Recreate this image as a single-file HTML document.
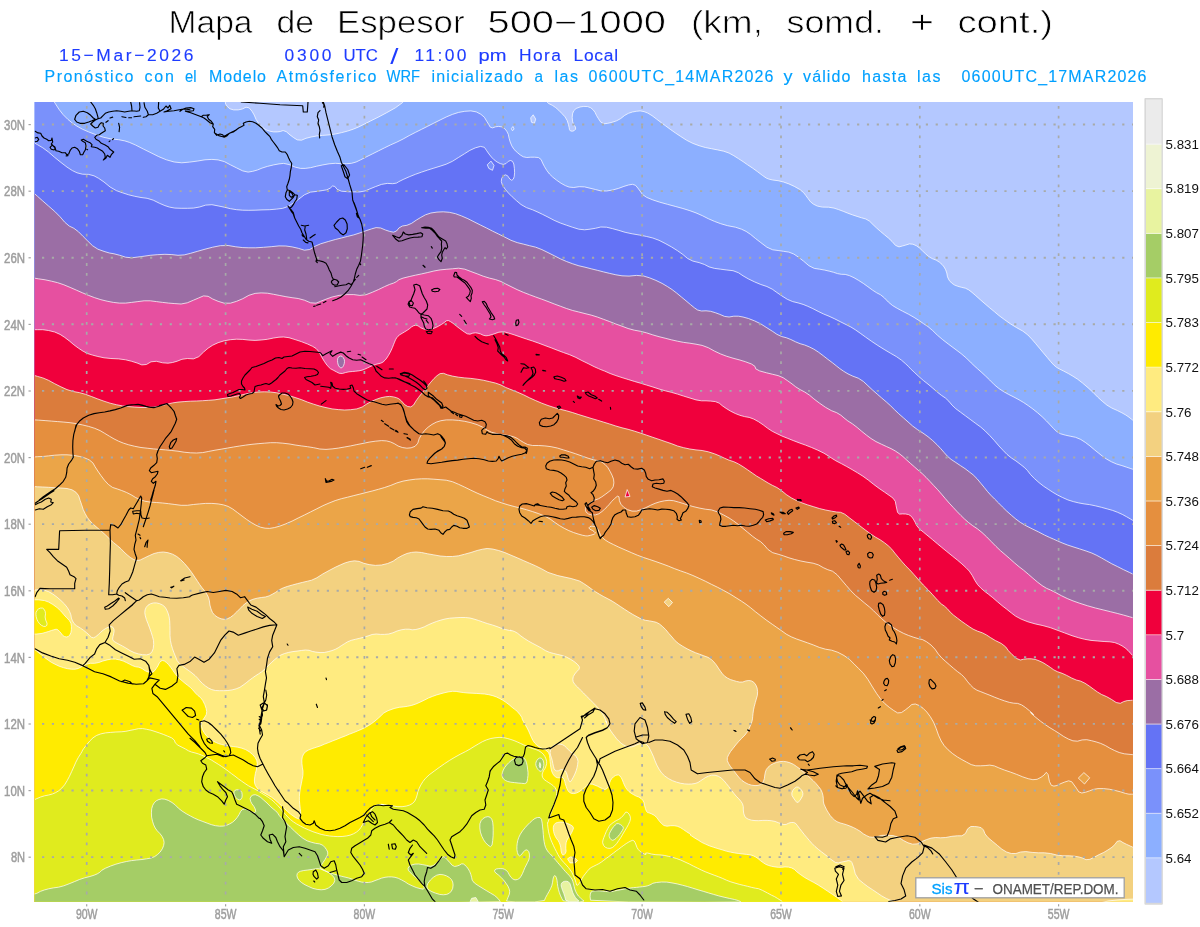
<!DOCTYPE html>
<html lang="es"><head><meta charset="utf-8"><title>Mapa de Espesor 500-1000</title>
<style>html,body{margin:0;padding:0;background:#fff}body{width:1200px;height:927px;overflow:hidden;font-family:"Liberation Sans",sans-serif}svg{display:block}text{font-family:"Liberation Sans",sans-serif}</style></head><body>
<svg width="1200" height="927" viewBox="0 0 1200 927">
<rect width="1200" height="927" fill="#fff"/>
<text x="168.5" y="33.2" font-size="31.6" fill="#000" textLength="84" lengthAdjust="spacingAndGlyphs" stroke="#fff" stroke-width="0.7" paint-order="fill">Mapa</text><text x="276.5" y="33.2" font-size="31.6" fill="#000" textLength="37.5" lengthAdjust="spacingAndGlyphs" stroke="#fff" stroke-width="0.7" paint-order="fill">de</text><text x="337" y="33.2" font-size="31.6" fill="#000" textLength="127.5" lengthAdjust="spacingAndGlyphs" stroke="#fff" stroke-width="0.7" paint-order="fill">Espesor</text><text x="487.5" y="33.2" font-size="31.6" fill="#000" textLength="178.5" lengthAdjust="spacingAndGlyphs" stroke="#fff" stroke-width="0.7" paint-order="fill">500−1000</text><text x="691" y="33.2" font-size="31.6" fill="#000" textLength="72" lengthAdjust="spacingAndGlyphs" stroke="#fff" stroke-width="0.7" paint-order="fill">(km,</text><text x="786.5" y="33.2" font-size="31.6" fill="#000" textLength="97.5" lengthAdjust="spacingAndGlyphs" stroke="#fff" stroke-width="0.7" paint-order="fill">somd.</text><text x="910" y="33.2" font-size="31.6" fill="#000" textLength="24" lengthAdjust="spacingAndGlyphs" stroke="#fff" stroke-width="0.7" paint-order="fill">+</text><text x="957.5" y="33.2" font-size="31.6" fill="#000" textLength="95.5" lengthAdjust="spacingAndGlyphs" stroke="#fff" stroke-width="0.7" paint-order="fill">cont.)</text>
<text x="59" y="60.6" font-size="17.4" fill="#1e3cff" textLength="134.5" lengthAdjust="spacing" stroke="#1e3cff" stroke-width="0.12">15−Mar−2026</text><text x="284.5" y="60.6" font-size="17.4" fill="#1e3cff" textLength="47" lengthAdjust="spacing" stroke="#1e3cff" stroke-width="0.12">0300</text><text x="343.5" y="60.6" font-size="17.4" fill="#1e3cff" textLength="34.5" lengthAdjust="spacingAndGlyphs" stroke="#1e3cff" stroke-width="0.12">UTC</text><text x="414.5" y="60.6" font-size="17.4" fill="#1e3cff" textLength="52" lengthAdjust="spacing" stroke="#1e3cff" stroke-width="0.12">11:00</text><text x="478.5" y="60.6" font-size="17.4" fill="#1e3cff" textLength="28" lengthAdjust="spacingAndGlyphs" stroke="#1e3cff" stroke-width="0.12">pm</text><text x="519" y="60.6" font-size="17.4" fill="#1e3cff" textLength="42" lengthAdjust="spacing" stroke="#1e3cff" stroke-width="0.12">Hora</text><text x="573.5" y="60.6" font-size="17.4" fill="#1e3cff" textLength="44.5" lengthAdjust="spacing" stroke="#1e3cff" stroke-width="0.12">Local</text>
<text x="390.3" y="63.6" font-size="22.5" fill="#1e3cff" textLength="8.2" lengthAdjust="spacingAndGlyphs">/</text>
<text x="44.5" y="81.7" font-size="16" fill="#00a0ff" textLength="89" lengthAdjust="spacing" stroke="#00a0ff" stroke-width="0.12">Pronóstico</text><text x="144.5" y="81.7" font-size="16" fill="#00a0ff" textLength="29.5" lengthAdjust="spacing" stroke="#00a0ff" stroke-width="0.12">con</text><text x="185" y="81.7" font-size="16" fill="#00a0ff" textLength="11.5" lengthAdjust="spacingAndGlyphs" stroke="#00a0ff" stroke-width="0.12">el</text><text x="209" y="81.7" font-size="16" fill="#00a0ff" textLength="57" lengthAdjust="spacing" stroke="#00a0ff" stroke-width="0.12">Modelo</text><text x="276.5" y="81.7" font-size="16" fill="#00a0ff" textLength="100" lengthAdjust="spacing" stroke="#00a0ff" stroke-width="0.12">Atmósferico</text><text x="386.5" y="81.7" font-size="16" fill="#00a0ff" textLength="33.5" lengthAdjust="spacingAndGlyphs" stroke="#00a0ff" stroke-width="0.12">WRF</text><text x="431.5" y="81.7" font-size="16" fill="#00a0ff" textLength="91.5" lengthAdjust="spacing" stroke="#00a0ff" stroke-width="0.12">inicializado</text><text x="534.5" y="81.7" font-size="16" fill="#00a0ff" textLength="8.5" lengthAdjust="spacingAndGlyphs" stroke="#00a0ff" stroke-width="0.12">a</text><text x="554.5" y="81.7" font-size="16" fill="#00a0ff" textLength="23.5" lengthAdjust="spacing" stroke="#00a0ff" stroke-width="0.12">las</text><text x="588.5" y="81.7" font-size="16" fill="#00a0ff" textLength="185" lengthAdjust="spacing" stroke="#00a0ff" stroke-width="0.12">0600UTC_14MAR2026</text><text x="783.5" y="81.7" font-size="16" fill="#00a0ff" textLength="9" lengthAdjust="spacingAndGlyphs" stroke="#00a0ff" stroke-width="0.12">y</text><text x="803" y="81.7" font-size="16" fill="#00a0ff" textLength="47.5" lengthAdjust="spacing" stroke="#00a0ff" stroke-width="0.12">válido</text><text x="862" y="81.7" font-size="16" fill="#00a0ff" textLength="44.5" lengthAdjust="spacing" stroke="#00a0ff" stroke-width="0.12">hasta</text><text x="917" y="81.7" font-size="16" fill="#00a0ff" textLength="23.5" lengthAdjust="spacing" stroke="#00a0ff" stroke-width="0.12">las</text><text x="961.5" y="81.7" font-size="16" fill="#00a0ff" textLength="185" lengthAdjust="spacing" stroke="#00a0ff" stroke-width="0.12">0600UTC_17MAR2026</text>
<defs><clipPath id="pc"><rect x="34.6" y="102" width="1098.4" height="799.7"/></clipPath></defs>
<g clip-path="url(#pc)">
<rect x="34.6" y="102" width="1098.4" height="799.7" fill="#b4c8ff"/>
<path d="M225.0 100.0L225.2 101.3L225.6 104.0L227.2 106.4L229.9 108.8L233.6 109.9L238.2 109.9L242.3 109.0L246.0 107.2L249.2 107.9L251.9 111.1L254.2 115.0L256.1 119.5L258.8 123.6L262.5 127.3L266.2 129.9L269.8 131.2L273.5 131.9L277.2 131.9L280.4 131.5L283.1 130.5L286.3 131.7L290.0 134.9L293.7 137.7L297.3 139.9L301.5 140.2L306.0 138.3L311.1 137.0L316.6 136.0L322.5 135.4L329.0 134.9L335.4 134.0L341.8 132.6L347.8 131.0L353.2 129.2L358.8 126.9L364.2 124.2L370.7 120.9L378.0 117.3L386.3 112.9L395.4 107.8L402.3 102.8L406.9 97.9L443.0 95.4L510.5 95.4L544.8 97.2L546.0 100.7L548.4 103.4L552.3 105.3L555.7 107.6L558.8 110.3L561.8 113.4L565.0 116.8L567.1 120.4L568.4 124.3L569.1 127.4L569.5 129.7L570.5 131.0L572.4 131.2L574.1 130.7L575.6 129.2L575.5 127.1L573.6 124.4L572.5 121.2L572.2 117.3L572.5 113.9L573.7 110.8L576.1 108.5L580.0 107.0L583.8 106.4L587.7 106.6L590.8 107.8L593.1 109.8L595.0 112.3L596.5 115.5L598.5 118.8L600.8 122.2L603.9 123.8L607.8 123.3L612.0 122.3L616.6 120.8L620.8 118.5L624.7 115.4L628.5 113.3L632.4 112.0L636.2 111.3L640.1 110.9L644.0 111.6L647.8 113.1L652.1 115.7L656.7 119.2L661.3 122.7L665.9 126.1L670.5 129.5L675.2 132.8L680.6 136.4L686.7 140.3L692.9 143.4L699.1 145.7L705.3 147.5L711.4 148.7L717.6 149.9L723.7 151.2L729.1 153.1L733.8 155.7L738.4 158.6L743.0 161.6L747.6 164.8L752.3 167.9L757.3 171.5L762.7 175.6L766.5 178.2L768.9 179.1L772.7 180.0L778.1 180.7L783.5 182.0L788.9 183.9L794.3 186.4L799.7 189.4L803.5 192.5L805.9 195.6L808.1 198.6L810.5 201.8L813.5 204.2L817.4 206.1L822.4 207.1L828.6 207.2L834.0 208.1L838.6 209.6L843.2 211.3L847.9 213.2L852.5 214.9L857.1 216.4L861.5 217.8L865.9 219.0L869.7 221.3L873.1 224.7L876.7 228.1L880.6 231.5L884.4 234.7L888.3 237.9L892.0 241.4L895.5 245.4L899.0 246.9L902.4 246.0L905.9 245.0L909.4 243.9L912.9 244.2L916.3 245.7L919.5 248.0L922.7 251.1L925.7 253.9L928.8 256.6L932.2 258.6L936.1 260.1L939.3 262.1L942.0 264.4L944.1 267.0L945.6 269.7L946.8 273.0L947.5 276.9L949.1 280.2L951.6 283.0L954.5 285.0L957.9 286.3L961.5 287.3L965.4 288.2L968.8 289.9L972.0 292.4L975.8 295.7L980.5 299.9L985.1 303.9L989.7 307.8L994.3 311.6L998.9 315.5L1004.3 319.5L1010.5 323.9L1016.7 327.7L1022.8 331.1L1027.8 334.9L1031.7 339.0L1035.5 343.4L1039.4 348.1L1043.2 352.7L1047.1 357.3L1050.5 361.4L1053.7 364.9L1056.8 367.5L1059.9 369.2L1063.7 371.1L1068.3 373.5L1072.9 376.2L1077.6 379.2L1082.6 383.1L1088.0 387.7L1093.0 392.3L1097.6 397.0L1102.2 401.2L1106.9 405.1L1111.9 408.1L1117.3 410.5L1121.9 412.8L1125.8 415.0L1129.0 417.2L1131.6 419.3L1132.9 420.3L1139.0 420.3L1139.0 907.7L28.6 907.7L28.6 96.0L225.0 96.0Z" fill="#8cafff"/>
<path d="M533.2 114.8L535.7 119.1L534.4 123.4L531.4 122.2L530.7 117.9Z" fill="#b4c8ff"/>
<path d="M53.1 100.0L55.0 103.1L58.9 109.2L63.1 114.6L67.8 119.3L72.4 123.1L77.0 126.2L82.4 129.2L88.6 131.9L95.6 134.6L103.2 137.2L110.9 138.9L118.7 139.7L124.8 140.9L129.5 142.4L135.7 145.1L143.3 149.0L151.0 152.8L158.8 156.7L166.4 159.8L174.2 162.0L181.8 162.8L189.6 162.1L197.2 161.1L205.0 159.8L211.9 159.4L218.1 159.9L224.3 161.6L230.4 164.8L236.6 167.9L242.7 170.9L248.1 172.1L252.8 171.3L257.4 170.0L262.0 168.1L267.4 166.4L273.6 164.9L279.0 163.9L283.6 163.4L289.0 164.5L295.1 167.1L300.5 168.4L305.2 168.4L310.6 167.7L316.7 166.2L322.9 164.9L329.1 163.8L335.3 163.3L341.4 163.7L346.8 163.7L351.5 163.3L356.1 162.0L360.7 159.8L366.1 157.0L372.2 154.0L378.4 150.9L384.6 147.8L390.8 144.8L396.9 142.1L403.1 139.0L409.2 135.6L415.4 132.4L421.6 129.3L427.8 126.2L433.9 123.1L440.1 120.0L446.2 117.0L452.4 114.4L458.6 112.4L464.8 111.3L470.9 110.9L476.3 111.9L480.9 114.3L484.4 117.3L486.7 121.2L488.7 124.4L490.2 127.1L492.5 127.9L495.6 126.8L498.7 126.4L501.8 126.9L504.5 128.4L506.7 131.1L508.3 134.3L509.1 138.2L510.2 142.0L511.8 145.9L514.0 149.4L517.2 152.4L520.2 154.9L523.3 156.8L526.8 157.5L530.7 157.2L534.5 157.2L538.4 157.5L541.1 159.5L542.6 163.0L544.5 166.7L546.9 170.6L549.5 174.0L552.7 177.1L556.5 180.1L561.1 183.3L565.3 185.6L569.2 187.1L573.8 187.5L579.2 186.7L584.6 186.9L590.0 188.2L595.4 189.5L600.8 190.9L606.6 191.0L612.7 190.0L618.5 188.4L623.9 186.4L628.5 185.0L632.4 184.3L635.5 185.3L637.8 188.0L640.1 191.1L642.5 194.5L646.7 197.4L652.8 199.9L659.8 202.2L667.4 204.3L675.2 206.4L682.9 208.5L689.9 210.7L696.0 212.9L702.2 215.6L708.3 218.7L714.5 221.4L720.7 223.7L727.6 225.7L735.4 227.2L741.5 229.2L746.1 231.4L750.7 234.5L755.4 238.4L760.8 242.6L766.9 247.2L772.7 249.8L778.1 250.5L783.5 251.3L788.9 252.1L793.9 254.1L798.5 257.2L803.5 261.1L808.9 265.7L814.3 268.4L819.7 269.2L824.7 270.1L829.4 271.2L833.6 272.3L837.5 273.6L841.3 274.3L845.2 274.4L849.4 275.6L854.0 277.7L858.6 280.4L863.3 283.4L867.9 286.7L872.5 290.1L876.7 292.8L880.6 294.8L884.4 297.9L888.3 302.0L892.5 305.5L897.2 308.3L902.6 311.2L908.7 314.3L914.1 317.4L918.8 320.4L923.4 323.6L928.0 326.6L932.6 330.5L937.3 335.1L942.7 339.7L948.8 344.4L955.0 349.0L961.1 353.6L966.5 358.2L971.2 362.9L974.9 366.4L977.6 368.8L981.1 371.9L985.3 375.8L989.7 380.0L994.3 384.7L998.9 388.5L1003.6 391.6L1008.6 394.4L1014.0 397.1L1019.0 399.8L1023.6 402.5L1028.2 405.6L1032.9 409.0L1037.5 412.7L1042.1 416.7L1046.3 420.8L1050.2 424.9L1053.6 428.6L1056.8 431.6L1060.6 433.8L1065.2 435.1L1070.2 436.2L1075.6 437.3L1080.6 439.4L1085.3 442.4L1089.9 445.9L1094.5 449.8L1098.7 453.2L1102.6 456.3L1106.8 459.2L1111.5 461.8L1116.5 464.0L1121.9 465.6L1126.7 467.2L1130.8 468.6L1132.9 469.3L1139.0 469.3L1139.0 907.7L28.6 907.7L28.6 96.0L53.1 96.0Z" fill="#7a91fb"/>
<path d="M512.9 126.5L514.1 129.0L512.5 130.8L511.3 128.7Z" fill="#8cafff"/>
<path d="M34.9 143.2L37.5 144.7L42.8 147.8L48.5 152.0L54.7 157.4L60.9 162.4L67.0 167.1L72.4 170.6L77.0 172.8L82.4 174.2L88.6 174.4L94.0 175.8L98.6 178.3L104.0 182.0L110.1 187.0L116.3 190.6L122.5 192.8L128.7 194.8L134.8 196.3L141.0 197.5L147.1 198.3L153.3 200.2L159.5 203.3L164.9 205.6L169.5 207.1L174.9 208.1L181.1 208.3L187.3 208.3L193.4 208.1L199.6 207.0L205.7 205.1L211.9 204.7L218.1 205.9L224.3 207.2L230.4 208.7L236.6 209.7L242.7 210.2L248.9 210.3L255.1 210.2L262.0 209.9L269.8 209.7L276.7 209.1L282.8 208.3L288.2 206.4L292.9 203.3L298.3 199.5L304.4 194.8L310.6 192.1L316.7 191.4L322.1 190.6L326.8 189.8L330.2 188.2L332.5 186.0L334.8 186.4L337.2 189.4L341.4 191.2L347.6 191.7L353.8 191.9L359.9 191.9L365.3 190.9L369.9 188.9L375.3 186.7L381.5 184.4L387.3 183.4L392.7 183.7L396.5 183.1L398.9 181.6L403.1 179.5L409.2 176.8L415.4 174.3L421.6 172.1L427.8 170.0L433.9 168.1L440.1 166.2L446.2 164.2L452.4 161.3L458.6 157.4L464.4 153.8L469.8 150.4L475.2 147.9L480.5 146.4L484.4 147.3L486.7 150.7L489.0 154.0L491.4 157.0L494.1 159.8L497.1 162.0L500.2 163.6L503.3 164.4L506.0 163.6L508.3 161.3L510.5 160.5L512.5 161.3L513.8 164.0L514.4 168.6L514.6 172.8L514.2 176.7L513.3 179.1L511.8 180.3L509.9 179.1L507.5 175.7L505.2 174.8L503.0 176.3L501.6 178.6L501.3 181.7L502.4 185.1L505.1 189.1L508.3 192.9L512.2 196.8L516.4 200.6L521.0 204.5L526.4 207.6L532.6 209.8L538.0 212.2L542.6 214.4L548.0 217.1L554.1 220.3L560.3 223.0L566.5 225.2L572.7 227.3L578.8 229.2L584.6 229.8L590.0 229.2L595.4 228.3L600.8 227.0L606.6 227.2L612.7 228.7L618.9 230.4L625.1 232.3L632.1 233.8L639.8 235.1L646.7 236.5L652.8 238.0L659.0 240.3L665.1 243.4L671.3 246.8L677.5 250.7L682.9 254.5L687.5 258.4L692.9 261.1L699.1 262.6L704.5 264.5L709.1 266.9L714.5 268.4L720.7 269.2L726.9 270.0L733.0 270.7L738.4 272.7L743.0 275.8L748.4 278.9L754.6 281.9L760.8 284.5L766.9 286.5L772.3 289.2L776.9 292.5L781.9 295.9L787.3 299.3L792.7 301.6L798.1 302.9L803.1 304.4L807.8 306.3L812.8 308.6L818.2 311.4L823.6 314.0L829.0 316.2L834.8 318.9L840.9 322.0L846.3 324.7L850.9 327.0L855.5 329.9L860.2 333.2L865.6 337.1L871.7 341.4L877.9 345.5L884.1 349.4L890.3 353.1L896.4 356.6L901.4 360.1L905.3 363.5L908.4 366.4L910.6 368.8L914.1 372.1L918.8 376.5L923.4 380.5L928.0 384.1L932.6 388.0L937.3 392.1L941.5 395.4L945.4 398.0L948.8 401.2L952.0 405.1L955.8 408.7L960.4 412.1L965.4 415.8L970.8 419.8L975.8 423.5L980.5 426.9L985.1 430.9L989.7 435.5L994.3 440.5L998.9 445.9L1003.2 450.5L1007.0 454.4L1011.3 457.9L1015.9 460.9L1020.1 464.1L1024.0 467.1L1027.5 470.6L1030.5 474.5L1034.4 478.5L1039.0 482.6L1043.6 486.2L1048.3 489.3L1052.9 492.3L1057.5 495.0L1062.5 497.5L1067.9 499.9L1073.3 501.6L1078.7 502.9L1084.1 503.9L1089.5 504.6L1095.3 505.8L1101.4 507.3L1107.2 508.9L1112.6 510.4L1117.6 512.3L1122.3 514.4L1126.7 516.8L1130.8 519.2L1132.9 520.5L1139.0 520.5L1139.0 907.7L28.6 907.7L28.6 143.2Z" fill="#6473f5"/>
<path d="M491.0 161.1L494.0 165.4L492.5 170.3L488.8 168.4L487.3 164.8Z" fill="#7a91fb"/>
<path d="M34.9 194.0L37.5 196.3L42.8 201.0L48.5 206.0L54.7 211.4L60.1 216.8L64.7 222.2L69.3 226.1L73.9 228.3L78.5 231.8L83.2 236.5L87.8 241.1L92.5 245.7L97.9 249.2L104.0 251.4L109.4 253.0L114.0 253.8L119.4 255.2L125.6 257.2L131.8 257.8L137.9 257.0L144.1 256.2L150.2 255.3L157.2 254.7L164.9 254.3L171.9 254.6L178.0 255.3L184.2 254.9L190.3 253.4L197.2 251.4L205.0 249.2L212.7 247.2L220.3 245.7L228.1 245.5L235.8 246.8L242.8 247.6L248.9 247.8L255.8 247.8L263.5 247.3L271.2 246.7L279.0 245.9L285.9 246.0L292.1 246.9L298.3 248.3L304.4 250.2L309.8 249.5L314.5 246.5L320.7 243.8L328.3 241.5L335.3 239.5L341.4 238.0L347.6 236.4L353.7 234.9L359.9 232.9L366.1 230.7L371.5 228.9L376.1 227.6L380.7 228.0L385.4 230.0L389.6 231.4L393.5 232.2L396.5 231.0L398.9 228.0L402.3 226.0L406.9 225.3L411.5 223.4L416.2 220.2L420.8 217.4L425.5 214.8L430.9 213.0L437.0 212.1L443.2 211.8L449.3 212.3L455.5 213.7L461.7 216.0L467.9 218.7L474.0 221.8L480.2 224.9L486.3 227.9L492.5 231.1L498.7 234.1L504.9 237.2L511.0 240.3L517.2 242.6L523.3 244.1L529.5 245.7L535.7 247.2L541.9 249.6L548.0 252.6L554.2 255.7L560.3 258.8L566.5 261.5L572.7 263.8L578.9 265.8L585.0 267.2L591.2 268.8L597.3 270.3L603.5 271.9L609.7 273.4L615.9 274.8L622.0 275.8L629.0 276.1L636.6 275.4L643.6 276.0L649.7 277.9L655.9 280.4L662.1 283.4L667.5 286.6L672.1 289.6L676.7 293.1L681.4 297.0L686.0 300.8L690.6 304.7L694.4 307.8L697.6 310.0L701.4 311.0L706.0 310.8L710.6 311.3L715.3 312.7L719.9 314.4L724.5 316.4L729.1 317.0L733.8 316.2L738.4 316.2L743.0 317.0L748.4 318.5L754.6 320.9L760.8 323.9L766.9 327.8L772.3 331.2L776.9 334.3L781.5 336.5L786.2 337.7L790.8 339.5L795.5 341.8L800.1 343.7L804.7 345.0L809.3 346.9L813.9 349.2L818.5 352.2L823.2 355.7L827.8 359.3L832.5 362.8L836.5 366.0L839.8 368.6L843.7 371.3L848.0 373.9L852.9 376.2L858.3 378.2L863.3 381.4L867.9 385.7L872.5 390.0L877.2 394.1L881.8 398.1L886.4 402.0L890.6 405.8L894.5 409.7L898.7 413.7L903.4 417.8L908.0 421.9L912.6 426.0L917.6 429.7L923.0 433.1L928.0 436.7L932.7 440.6L936.9 444.6L940.8 448.7L944.2 452.6L947.3 456.1L951.1 459.4L955.8 462.5L960.4 465.6L965.0 468.6L969.2 471.8L973.1 474.8L977.0 478.7L980.8 483.3L984.3 487.5L987.4 491.4L990.8 495.2L994.7 499.1L998.5 502.9L1002.4 506.9L1006.6 511.0L1011.3 515.2L1015.9 519.1L1020.5 522.5L1025.9 525.7L1032.1 528.8L1038.3 531.8L1044.4 535.0L1049.5 537.4L1053.5 539.1L1057.7 541.0L1062.1 542.9L1067.2 544.9L1073.0 546.8L1079.3 548.8L1086.1 551.0L1091.9 553.1L1096.8 555.4L1101.6 558.0L1106.5 560.8L1111.8 563.8L1117.7 566.7L1123.6 569.7L1129.6 572.5L1132.6 574.0L1139.0 574.0L1139.0 907.7L28.6 907.7L28.6 194.0Z" fill="#9b6ea5"/>
<path d="M34.9 278.2L38.3 278.8L45.1 279.8L51.6 281.2L57.7 282.7L63.9 284.8L70.1 287.4L76.3 290.1L82.4 292.8L88.6 295.4L94.7 297.7L100.9 299.7L107.1 301.2L113.3 302.4L119.4 303.1L125.6 303.1L131.7 302.4L137.9 301.6L144.1 300.8L150.3 300.8L156.4 301.6L162.6 302.4L168.7 303.1L174.9 303.6L181.1 304.0L187.3 302.8L193.4 300.2L198.8 297.9L203.5 295.9L208.1 296.3L212.7 299.0L218.1 301.3L224.2 303.2L230.4 303.2L236.6 301.3L242.8 298.7L248.9 295.3L255.1 293.4L261.2 292.9L267.4 293.2L273.6 294.3L279.8 295.5L285.9 296.7L292.1 297.7L298.2 298.5L304.4 300.2L310.6 302.8L316.0 303.2L320.6 301.3L326.0 299.2L332.1 297.0L339.1 295.4L346.8 294.6L353.8 294.6L359.9 295.4L366.1 294.7L372.2 292.3L378.4 289.6L384.6 286.6L389.6 284.4L393.5 283.1L396.5 281.6L398.9 279.7L403.1 278.1L409.2 276.6L415.4 275.2L421.6 273.9L427.8 272.5L433.9 271.0L440.1 269.9L446.2 269.3L452.4 268.8L458.6 268.2L464.8 269.2L470.9 271.5L477.1 273.8L483.2 276.2L489.4 278.1L495.6 279.6L501.0 281.5L505.6 283.9L511.0 286.6L517.1 289.6L523.3 292.3L529.5 294.7L535.7 297.0L541.8 299.2L548.0 301.5L554.1 303.9L560.3 306.2L566.5 308.5L572.7 310.5L578.8 312.0L585.0 313.6L591.1 315.1L597.3 317.0L603.5 319.3L609.7 321.6L615.8 324.0L622.0 326.2L628.1 328.5L634.3 330.2L640.5 331.3L646.7 332.9L652.8 334.9L659.0 336.7L665.1 338.2L671.3 339.8L677.5 341.2L683.7 342.4L689.8 343.2L696.0 344.2L702.1 345.4L708.3 347.7L714.5 351.1L720.7 354.0L726.8 356.3L733.0 358.2L739.1 359.8L745.3 361.7L751.5 364.0L755.0 366.4L755.7 368.8L759.6 370.9L766.5 372.8L772.7 374.3L778.1 375.6L783.1 377.7L787.7 380.8L792.0 383.9L795.8 386.9L800.1 389.6L804.7 392.0L809.3 395.0L813.9 398.9L819.3 403.0L825.5 407.3L831.3 410.6L836.7 412.7L840.9 415.2L844.0 417.9L847.8 420.9L852.5 423.9L857.1 427.4L861.7 431.3L866.3 435.0L871.0 438.5L876.0 441.6L881.4 444.2L886.4 446.5L891.0 448.6L895.2 450.9L899.1 453.5L903.0 456.6L906.8 460.1L910.7 463.6L914.6 467.0L918.4 470.4L922.3 473.7L926.1 477.4L930.0 481.5L933.8 485.6L937.7 489.7L941.5 494.1L945.4 498.7L949.2 503.1L953.1 507.3L956.9 511.4L960.8 515.4L964.6 519.1L968.5 522.5L972.7 525.7L977.4 528.8L982.0 532.5L986.6 536.8L991.2 541.5L995.9 546.3L1000.5 550.7L1005.1 554.6L1009.7 558.6L1014.4 562.8L1019.0 566.7L1023.6 570.2L1028.2 574.1L1032.9 578.2L1037.5 582.1L1042.1 585.6L1046.5 588.3L1050.5 590.0L1055.5 592.5L1061.4 595.7L1067.2 598.5L1073.0 600.9L1079.8 603.3L1087.6 605.8L1095.4 608.0L1103.1 609.9L1110.4 611.7L1117.2 613.4L1123.6 615.1L1129.6 616.8L1132.6 617.7L1139.0 617.7L1139.0 907.7L28.6 907.7L28.6 278.2Z" fill="#e650a0"/>
<path d="M338.8 356.7L340.5 356.0L342.0 356.3L343.3 357.7L344.2 359.3L344.5 361.3L344.3 363.3L343.7 365.3L342.8 366.8L341.8 367.8L340.7 367.8L339.3 366.8L338.3 365.2L337.7 362.8L337.5 360.5L337.8 358.2Z" fill="#9b6ea5"/>
<path d="M34.9 329.7L37.5 329.7L42.8 329.7L48.5 330.5L54.7 332.0L60.1 334.4L64.7 337.4L69.3 340.9L73.9 344.8L78.5 348.2L83.2 351.3L87.8 353.6L92.5 355.1L97.9 356.5L104.0 357.8L110.9 358.5L118.7 358.9L125.6 359.8L131.7 361.3L137.1 363.0L141.8 364.9L146.4 364.5L151.0 361.8L156.4 361.3L162.6 362.8L168.0 363.2L172.6 362.5L177.2 361.2L181.9 359.3L187.3 358.5L193.4 358.9L198.8 356.7L203.5 352.1L208.1 348.2L212.7 345.2L218.1 342.7L224.2 340.8L230.4 339.7L236.6 339.2L242.8 339.4L248.9 340.1L255.1 340.4L261.2 340.0L267.4 339.3L273.6 338.0L279.0 337.2L283.6 337.0L289.0 337.7L295.1 339.6L301.3 341.6L307.5 344.0L312.5 346.3L316.1 348.5L319.2 352.0L321.5 356.7L324.2 361.2L327.2 365.5L330.3 368.6L333.7 370.4L336.7 372.0L339.3 373.3L342.3 373.5L345.7 372.5L349.0 371.8L352.3 371.5L355.7 371.2L359.0 370.8L362.0 370.2L364.7 369.2L367.3 368.0L370.0 366.7L372.7 365.5L375.3 364.5L378.0 363.8L380.7 363.2L383.0 362.1L385.0 360.2L386.8 358.0L388.5 355.3L390.0 352.7L391.3 350.0L392.5 347.3L393.5 344.7L394.5 342.2L395.5 339.8L396.7 337.8L398.0 336.2L399.8 334.7L402.2 333.3L404.7 331.8L407.3 330.2L409.7 328.5L411.7 326.8L413.7 325.7L415.7 325.2L418.0 325.8L420.7 327.8L423.7 329.0L427.0 329.7L430.7 329.3L434.7 328.0L438.3 326.3L441.7 324.3L444.3 322.5L446.3 320.8L448.3 320.5L450.3 321.5L453.0 323.3L456.3 326.0L459.3 328.3L462.0 330.3L464.7 332.2L467.3 333.8L470.0 334.2L472.7 333.2L475.3 332.8L478.0 333.2L480.7 334.0L483.3 335.3L486.0 335.8L488.7 335.5L492.9 334.3L498.9 332.2L504.1 331.8L508.7 333.1L514.1 334.8L520.2 336.9L526.4 339.0L532.6 341.0L538.8 343.2L544.9 345.5L551.1 347.8L557.2 350.2L563.4 352.5L569.6 354.7L575.8 357.4L581.9 360.6L588.1 363.6L594.2 366.7L598.5 368.6L600.8 369.6L604.7 371.1L610.1 373.5L615.9 375.6L622.0 377.6L628.2 379.5L634.3 381.4L640.5 383.2L646.7 385.1L652.9 387.0L659.0 389.0L665.2 390.8L671.3 392.3L677.5 394.1L683.7 396.1L689.9 398.0L696.0 399.9L701.4 400.8L706.0 400.8L710.6 401.1L715.3 401.6L719.2 403.1L722.2 405.7L726.1 408.4L730.7 411.2L735.3 413.5L739.9 415.3L744.5 416.6L749.2 417.4L753.8 419.1L758.5 421.7L763.1 424.8L767.7 428.3L772.3 431.3L776.9 433.6L781.9 436.0L787.3 438.2L793.1 440.5L799.3 442.9L805.5 445.1L811.6 447.5L817.8 450.2L823.9 453.2L828.5 456.0L831.7 458.2L835.9 460.8L841.3 463.6L846.7 466.5L852.1 469.6L857.5 472.8L862.9 476.2L868.3 480.1L873.7 484.4L879.1 488.4L884.5 492.1L889.1 495.3L893.0 498.1L895.3 501.4L896.0 505.3L896.8 509.0L897.6 512.5L899.5 514.1L902.6 513.9L905.7 514.0L908.7 514.6L911.3 516.3L913.3 519.1L915.1 522.2L916.6 525.5L919.5 528.9L923.6 532.3L928.0 535.9L932.7 539.8L937.3 543.7L941.9 547.5L946.9 551.6L952.3 556.0L957.3 560.0L961.9 563.9L965.9 567.6L969.3 571.1L972.2 575.4L974.8 580.3L977.5 584.5L980.6 587.8L984.2 591.0L988.4 594.2L992.8 597.7L997.4 601.7L1002.0 605.6L1006.7 609.2L1011.2 612.8L1015.5 616.1L1021.1 619.1L1027.9 621.8L1035.2 623.9L1042.9 625.6L1050.2 627.6L1057.0 630.1L1064.3 632.8L1072.0 635.7L1078.8 637.8L1084.7 639.3L1091.0 640.4L1097.8 641.0L1104.1 641.5L1109.9 641.8L1114.8 642.6L1118.6 644.1L1122.0 645.8L1125.0 647.8L1128.0 650.4L1131.0 653.8L1132.6 655.5L1139.0 655.5L1139.0 907.7L28.6 907.7L28.6 329.7Z" fill="#f0003c"/>
<path d="M34.9 375.6L37.5 376.4L42.8 377.9L48.5 380.3L54.7 383.7L60.9 386.8L67.0 389.6L73.2 391.5L79.3 392.6L85.5 394.3L91.7 396.6L97.9 399.0L104.0 401.2L110.2 403.2L116.3 404.7L122.5 405.9L128.7 406.6L134.9 407.1L141.0 407.5L147.2 407.5L153.3 407.1L158.7 406.4L163.4 405.1L168.0 404.0L172.6 402.9L178.0 402.1L184.1 401.6L190.3 401.2L196.5 401.0L202.7 400.7L208.8 400.3L215.0 399.8L221.1 398.8L227.3 397.8L233.5 396.8L239.7 395.4L245.8 393.9L252.0 392.7L258.1 392.0L264.3 391.8L270.5 392.0L276.7 392.8L282.8 394.1L289.0 395.6L295.1 397.5L301.3 399.6L307.5 402.1L313.7 404.2L319.8 406.1L326.0 407.6L332.1 408.9L338.3 409.6L344.5 410.0L350.7 409.7L356.8 408.9L362.2 407.0L366.9 403.9L371.5 401.4L376.1 399.4L380.7 397.8L385.4 396.8L389.6 396.4L393.5 396.9L396.5 397.7L398.9 398.8L401.6 401.1L404.6 404.6L407.7 406.5L410.8 406.9L413.5 405.1L415.8 401.2L418.5 397.4L421.6 393.5L424.7 389.7L427.8 385.8L430.9 382.1L433.9 378.6L437.0 375.7L440.1 373.6L443.5 373.3L447.4 374.8L452.4 376.1L458.6 377.2L464.8 377.9L470.9 378.4L477.1 379.2L483.2 380.2L489.4 381.6L495.6 383.1L501.0 385.0L505.6 387.4L511.0 389.6L517.1 392.0L523.3 394.7L529.5 397.8L535.7 400.6L541.8 403.2L548.0 405.5L554.1 407.5L560.3 409.3L566.5 410.8L572.7 412.6L578.8 414.6L585.0 416.5L591.1 418.4L597.3 420.2L603.5 422.1L609.7 424.0L615.8 426.0L622.0 427.8L628.1 429.3L634.3 431.1L640.5 433.1L646.7 435.2L652.8 437.3L659.0 439.4L665.1 441.5L671.3 443.6L677.5 446.0L683.7 447.7L689.8 449.0L696.0 449.9L702.1 450.5L708.3 451.8L714.5 453.8L719.9 456.0L724.5 458.2L729.1 460.2L733.8 461.7L738.4 463.9L743.0 466.7L747.6 469.8L752.3 473.1L756.5 476.0L760.4 478.3L764.2 480.6L768.1 483.0L772.3 485.3L776.9 487.5L781.5 490.6L786.2 494.5L791.2 497.8L796.6 500.6L802.0 502.9L807.4 504.8L813.2 506.6L819.3 508.5L825.5 510.0L831.7 511.2L836.7 512.0L840.6 512.3L844.8 514.2L849.4 517.8L854.4 521.6L859.8 525.8L865.2 529.9L870.6 533.9L875.6 537.2L880.2 539.8L884.4 542.7L888.3 545.8L891.8 549.2L894.8 553.1L898.3 557.3L902.2 561.9L906.0 566.2L909.9 570.0L914.1 574.7L918.8 580.1L923.4 585.1L928.0 589.7L932.7 594.8L937.6 600.3L941.5 604.1L944.3 606.0L947.3 608.7L950.2 612.1L953.6 615.2L957.5 618.2L961.3 621.1L965.3 623.9L969.2 626.6L973.0 629.1L977.4 631.1L982.3 632.8L986.6 635.0L990.5 637.6L995.3 640.5L1001.2 643.4L1005.6 646.8L1008.4 650.7L1012.1 654.6L1016.4 658.4L1020.3 660.0L1023.7 659.2L1027.4 658.8L1031.2 658.8L1035.2 659.4L1039.0 660.8L1042.9 662.6L1046.8 665.0L1050.4 667.4L1053.8 669.9L1057.7 671.8L1062.1 673.3L1066.7 675.4L1071.6 678.0L1076.2 680.0L1080.5 681.1L1084.9 683.2L1089.3 686.1L1093.4 689.1L1097.3 691.9L1101.6 694.5L1106.5 696.6L1111.3 699.3L1116.2 702.5L1120.3 703.3L1123.7 701.6L1127.2 700.6L1130.8 700.4L1132.6 700.2L1139.0 700.2L1139.0 907.7L28.6 907.7L28.6 375.6Z" fill="#db7c3c"/>
<path d="M627.2 489.6L630.0 496.4L625.1 497.0Z" fill="#f0003c"/>
<path d="M34.9 419.9L38.3 420.1L45.1 420.6L51.6 421.1L57.7 421.6L63.9 422.1L70.1 422.7L76.3 423.6L82.4 424.9L88.6 426.4L94.7 428.3L100.1 430.6L104.8 433.4L109.4 436.2L114.0 438.9L118.6 441.2L123.3 443.1L128.7 444.8L134.8 446.3L141.0 447.5L147.1 448.2L153.3 448.9L159.5 449.4L165.7 449.9L171.8 450.5L178.0 451.2L184.1 452.2L190.3 452.8L196.5 453.0L202.7 452.6L208.8 451.4L215.0 450.2L221.1 449.2L227.3 448.1L233.5 447.0L239.7 446.0L245.8 445.1L252.0 444.3L258.1 443.7L264.3 443.2L270.5 442.7L276.7 442.7L282.8 443.2L289.0 443.9L295.1 445.0L301.3 445.9L307.5 446.7L313.7 447.7L319.8 449.0L326.0 449.4L332.1 448.9L338.3 448.1L344.5 447.0L350.7 445.9L356.8 444.6L363.0 443.4L369.1 442.1L375.3 441.2L381.5 440.6L386.5 440.9L390.4 441.9L394.2 443.6L398.1 446.0L402.3 447.5L406.9 448.2L411.1 447.8L415.1 446.3L417.8 443.2L419.2 438.6L421.6 434.4L424.6 430.5L428.1 427.2L432.0 424.4L436.2 422.2L440.9 420.7L446.3 419.9L452.4 419.9L458.6 420.4L464.7 421.3L470.9 422.7L477.1 424.6L482.5 427.1L487.1 430.1L491.7 432.3L496.4 433.5L501.0 434.4L505.6 435.1L509.8 435.8L513.7 436.8L517.2 438.3L520.2 440.4L523.7 442.5L527.6 444.5L532.6 445.5L538.7 445.5L544.9 445.9L551.1 446.7L557.3 448.0L563.4 449.9L569.6 451.8L575.7 453.8L581.9 456.0L588.1 458.2L593.5 459.8L598.1 460.6L601.9 462.1L605.1 464.5L607.8 467.5L610.1 471.4L612.0 475.2L613.5 479.1L613.9 482.9L613.2 486.8L611.2 489.8L608.2 492.2L605.1 494.5L601.9 496.8L598.5 498.8L594.6 500.2L591.2 502.2L588.0 504.5L586.1 507.1L585.4 509.8L586.1 512.1L588.5 514.0L591.5 514.9L595.4 514.9L598.8 513.8L602.0 511.5L604.6 509.2L607.0 506.8L609.3 504.3L611.6 501.5L614.3 498.8L617.4 496.2L619.0 496.8L619.4 500.7L620.9 504.2L623.7 507.2L627.4 509.6L632.0 511.1L636.6 511.1L641.3 509.6L645.9 507.6L650.5 505.3L655.1 503.3L659.8 501.8L664.4 500.8L669.0 500.3L673.6 500.7L678.3 502.0L682.9 503.4L687.5 504.9L692.9 506.5L699.1 508.0L705.3 509.2L711.4 509.9L717.6 511.9L723.7 515.0L729.1 518.0L733.8 521.1L738.4 524.5L743.0 528.4L747.6 532.2L752.3 536.1L756.5 539.2L760.4 541.5L764.2 545.0L768.1 549.6L772.7 552.7L778.1 554.2L783.5 555.9L788.9 557.8L794.7 559.5L800.8 561.0L807.0 562.2L813.1 563.2L818.5 564.9L823.2 567.6L827.8 569.7L832.5 571.2L837.1 574.7L841.7 580.1L846.3 585.5L850.9 590.8L855.5 595.4L860.2 599.3L864.8 603.2L869.5 607.0L873.7 610.9L877.6 614.8L881.4 618.4L885.3 621.8L889.5 625.0L894.1 628.1L898.7 630.8L903.4 633.3L908.4 635.4L913.8 637.3L918.4 638.7L922.3 639.5L926.5 641.7L931.1 645.1L935.0 649.2L938.4 654.1L942.0 658.2L945.8 661.6L949.7 665.0L953.6 668.4L957.5 671.6L961.3 674.4L964.7 677.8L967.7 681.8L970.6 685.2L973.5 688.0L976.9 690.2L980.8 691.7L985.1 693.4L990.0 695.3L994.8 697.3L999.7 699.2L1004.5 700.9L1009.4 702.4L1013.7 703.2L1017.7 703.4L1021.6 704.9L1025.5 707.5L1029.3 710.6L1033.2 714.0L1033.6 714.7L1030.5 712.5L1031.3 713.5L1035.9 717.5L1040.5 721.2L1045.2 724.6L1049.8 727.7L1054.5 730.5L1059.1 733.4L1063.7 736.5L1068.3 739.0L1072.9 740.8L1077.5 741.2L1082.2 739.9L1086.8 739.7L1091.5 740.7L1096.1 741.9L1100.7 743.4L1105.3 745.5L1109.9 748.2L1114.5 750.5L1119.2 752.5L1124.3 753.8L1130.1 754.4L1132.9 754.7L1139.0 754.7L1139.0 907.7L28.6 907.7L28.6 419.9Z" fill="#e58f3e"/>
<path d="M34.9 456.9L37.5 456.7L42.8 456.5L48.5 455.9L54.7 455.2L60.9 454.8L67.0 454.8L73.2 455.3L79.3 456.4L84.7 457.9L89.4 460.0L92.9 462.9L95.1 466.8L97.8 471.0L101.0 475.6L104.4 480.1L108.3 484.4L112.5 487.4L117.1 488.9L121.7 490.5L126.4 492.4L131.0 494.7L135.6 497.5L140.2 499.7L144.9 501.2L150.3 502.1L156.4 502.5L162.6 503.0L168.7 503.7L174.9 504.5L181.1 505.3L187.3 505.3L193.4 504.5L199.6 503.9L205.7 503.4L211.9 503.4L218.1 503.9L223.5 504.9L228.1 506.4L232.7 509.0L237.4 512.5L242.0 516.0L246.6 519.4L251.2 522.5L255.9 525.2L260.5 527.2L265.1 528.2L269.7 528.4L274.4 527.6L279.8 526.1L285.9 523.8L292.1 521.1L298.2 518.0L304.4 515.0L310.6 511.9L316.8 508.8L322.9 505.7L329.1 503.0L335.2 500.6L341.4 498.7L347.6 497.2L353.8 495.6L359.9 494.1L366.1 492.5L372.2 491.0L378.4 489.3L384.6 487.5L390.8 485.4L396.9 482.9L403.1 481.1L409.2 480.0L415.4 479.2L421.6 478.8L427.8 478.8L433.9 479.2L440.1 479.7L446.2 480.2L452.4 481.7L458.6 484.3L464.8 487.2L470.9 490.2L477.1 493.1L483.2 495.7L489.4 498.2L495.6 500.8L501.8 502.9L507.9 504.8L514.1 506.5L520.2 508.0L526.4 509.7L532.6 511.6L538.8 513.7L544.9 516.2L550.3 519.1L554.9 522.5L559.5 525.6L564.2 528.3L568.8 530.6L573.5 532.5L578.1 534.0L582.7 535.3L585.9 535.9L587.8 535.9L590.6 535.3L594.2 534.2L595.5 533.0L594.2 531.7L592.3 530.4L589.7 529.1L588.9 527.9L590.0 526.6L591.9 526.1L594.7 526.5L596.8 527.7L598.2 529.9L599.4 532.4L600.5 535.1L602.4 537.6L605.2 540.0L608.9 542.3L613.5 544.6L618.9 547.2L625.1 549.9L631.3 552.6L637.4 555.2L643.6 557.5L649.7 559.5L655.9 561.6L662.1 563.8L668.3 566.1L674.4 568.6L680.6 570.9L686.7 573.0L692.9 575.5L699.1 578.3L705.3 581.2L711.4 584.3L717.6 587.3L723.7 590.5L729.9 593.9L736.1 597.8L741.5 601.2L746.1 604.3L750.7 607.8L755.4 611.7L760.8 615.9L766.9 620.5L772.3 624.3L776.9 627.5L781.5 630.7L786.2 634.1L791.2 636.8L796.6 639.0L802.0 640.9L807.4 642.8L813.2 644.9L819.3 647.4L825.5 649.2L831.7 650.2L837.9 652.3L844.0 655.5L849.4 659.3L854.0 663.9L858.6 668.5L863.3 673.2L867.9 679.4L872.5 687.0L876.7 693.6L880.6 699.0L884.8 703.6L889.5 707.5L893.7 710.5L897.6 712.9L901.4 712.6L905.3 709.9L908.8 707.2L911.8 704.5L915.3 704.0L919.2 705.5L923.0 708.2L926.9 712.1L930.3 716.7L933.5 722.1L936.1 728.3L938.5 735.2L941.2 741.0L944.2 745.6L948.1 749.8L952.7 753.7L957.3 756.9L961.9 759.6L966.5 762.1L971.2 764.6L975.8 765.8L980.5 765.8L985.1 765.6L989.7 765.1L994.3 765.9L998.9 767.9L1004.3 770.0L1010.5 772.1L1016.7 774.4L1022.8 776.9L1028.2 778.7L1032.9 779.7L1037.1 779.3L1041.0 777.3L1044.1 775.0L1046.3 772.3L1048.1 774.5L1049.4 781.4L1051.3 785.3L1053.9 786.1L1057.1 785.5L1061.0 783.5L1064.8 782.0L1068.7 780.8L1071.8 781.8L1074.1 785.0L1076.4 788.2L1078.7 791.8L1081.8 793.0L1085.7 792.2L1089.5 790.9L1093.4 789.4L1098.0 788.6L1103.4 788.6L1109.2 789.2L1115.3 790.5L1120.7 791.9L1125.4 793.4L1129.0 794.2L1131.6 794.2L1132.9 794.2L1139.0 794.2L1139.0 907.7L28.6 907.7L28.6 456.9Z" fill="#eba548"/>
<path d="M1083.9 772.6L1089.7 777.8L1084.5 784.0L1078.3 778.1Z" fill="#eba548"/>
<path d="M34.9 486.6L37.5 486.8L42.8 487.0L48.5 487.3L54.7 487.7L60.9 488.0L67.0 488.5L72.0 489.8L75.9 492.2L78.6 495.6L80.1 500.3L81.7 504.9L83.2 509.5L85.2 513.7L87.4 517.6L90.1 521.0L93.2 524.2L97.1 527.6L101.7 531.5L105.9 535.3L109.8 539.2L113.6 542.7L117.5 545.8L121.0 548.8L124.0 552.0L127.1 554.8L130.2 557.4L133.3 559.3L136.4 560.6L140.2 560.0L144.9 557.7L149.5 555.5L154.1 553.5L158.7 552.4L163.4 552.0L168.0 552.7L172.6 554.2L176.8 556.5L180.7 559.7L184.5 563.5L188.4 568.1L191.9 572.8L195.1 577.6L197.7 581.5L199.8 584.7L202.1 587.8L204.7 590.9L206.8 594.1L208.4 597.2L209.4 600.9L209.9 605.0L211.0 608.9L212.5 612.6L214.9 615.4L218.0 617.5L221.1 618.8L224.3 619.3L227.4 618.8L230.5 617.3L233.6 614.9L236.8 611.8L239.9 608.7L243.0 605.5L246.1 603.0L249.3 600.8L252.9 599.3L257.1 598.2L261.3 597.5L265.4 597.0L269.1 595.9L272.2 594.3L275.4 592.5L278.4 590.4L281.1 588.9L283.5 587.8L287.2 586.5L292.4 585.0L297.6 583.6L302.8 582.3L307.5 581.2L311.6 580.2L316.8 577.8L322.9 573.9L329.1 570.5L335.2 567.3L340.6 564.8L345.3 562.8L349.9 561.5L354.5 560.8L359.1 561.4L363.8 563.3L369.2 564.6L375.3 565.4L381.5 565.0L387.7 563.5L393.1 561.2L397.7 558.0L402.3 555.5L406.9 553.5L411.5 552.4L416.2 552.0L421.6 552.5L427.7 553.8L433.9 554.9L440.1 556.0L446.3 556.5L452.4 556.5L458.6 555.8L464.7 554.2L470.9 552.5L477.1 550.5L482.5 549.2L487.1 548.5L492.5 549.0L498.7 550.5L504.9 552.6L511.0 555.2L517.2 557.8L523.3 560.5L529.5 563.2L535.7 565.9L541.9 569.0L548.0 572.4L557.8 575.6L571.1 578.5L579.5 581.0L583.2 583.2L587.1 585.8L591.2 588.8L595.4 591.7L599.6 594.3L603.8 596.7L607.9 598.8L612.1 601.1L616.2 603.7L620.4 606.5L624.6 609.3L628.8 612.0L632.9 614.5L637.1 616.8L641.2 619.0L645.4 620.3L649.6 620.9L653.2 621.6L656.3 622.3L659.5 624.0L662.6 626.6L665.8 629.7L668.8 633.4L672.0 637.0L675.1 640.7L678.8 643.8L682.9 646.4L687.1 648.8L691.2 650.8L695.4 652.7L699.6 654.2L703.8 655.8L707.9 657.3L711.3 659.4L713.9 662.0L716.3 664.9L718.3 668.0L720.4 671.1L722.5 673.9L724.8 676.3L727.5 678.1L730.3 679.5L733.5 680.5L736.5 681.4L739.7 682.1L742.8 682.0L745.9 680.9L748.8 680.5L751.4 680.9L753.8 682.3L755.8 684.9L757.1 688.0L757.6 691.7L757.4 695.3L756.3 699.0L755.3 702.6L754.3 706.3L753.5 709.9L753.0 713.6L752.7 716.5L752.5 718.9L751.9 721.7L750.6 725.0L749.2 728.4L747.5 731.6L745.0 735.0L741.7 738.3L738.5 741.7L735.7 745.0L733.0 748.4L730.5 751.6L728.6 754.8L727.3 757.7L727.3 760.7L728.6 763.5L730.2 766.2L732.3 768.8L734.5 771.7L737.0 775.0L739.5 778.0L742.0 780.5L745.0 782.5L748.3 784.2L751.7 785.2L755.0 785.6L758.0 785.4L760.5 784.6L762.3 783.2L763.6 781.0L764.4 778.3L764.8 775.0L765.4 772.0L766.3 769.5L768.0 767.3L770.5 765.2L773.4 763.6L776.6 762.3L780.0 761.6L783.3 761.4L786.7 761.8L790.0 762.8L793.4 764.3L796.6 766.5L800.0 769.0L803.3 771.8L806.7 774.8L810.0 777.7L813.2 780.7L816.0 783.5L818.5 786.5L820.7 789.3L822.1 792.3L822.9 795.2L823.3 798.2L823.3 801.0L823.9 804.0L825.2 806.8L826.6 809.8L828.4 812.7L830.2 815.5L832.3 818.0L834.5 820.0L837.0 821.7L840.0 822.9L843.3 823.8L846.7 824.8L850.0 826.1L853.4 827.5L856.6 829.2L860.0 831.2L863.3 833.8L866.5 835.6L869.3 836.9L872.3 837.3L875.2 836.9L878.4 836.3L881.6 835.4L886.6 835.2L893.1 835.6L898.7 837.3L903.4 840.5L908.0 842.8L912.6 844.2L917.2 843.9L921.9 841.5L926.5 839.6L931.1 838.1L935.7 837.5L940.4 837.8L945.8 837.5L951.9 836.3L957.3 835.8L961.9 835.8L965.4 833.5L967.7 828.8L970.8 826.5L974.7 826.5L978.2 826.9L981.2 827.7L983.5 830.0L985.0 833.9L988.1 837.7L992.8 841.6L997.4 845.4L1002.0 849.3L1006.6 852.0L1011.3 853.5L1015.9 853.5L1020.5 852.0L1025.9 851.6L1032.1 852.4L1038.3 852.8L1044.4 852.8L1050.6 853.5L1056.7 855.0L1062.9 855.8L1069.1 855.8L1074.5 856.2L1079.1 857.0L1083.0 858.2L1086.0 859.7L1089.9 859.3L1094.5 857.0L1099.1 854.6L1103.8 852.4L1108.0 849.9L1111.9 847.3L1114.9 844.5L1117.2 841.3L1120.0 840.7L1123.0 842.6L1126.7 844.4L1130.8 846.3L1132.9 847.2L1139.0 847.2L1139.0 907.7L28.6 907.7L28.6 486.6Z" fill="#f3d180"/>
<path d="M668.3 598.3L672.5 602.5L668.8 606.7L664.2 602.1Z" fill="#f3d180"/>
<path d="M35.0 590.0L36.9 589.9L40.6 589.5L44.6 590.2L48.7 591.7L52.9 594.1L57.1 597.2L61.0 600.6L64.7 604.2L67.5 607.8L69.6 611.5L70.9 614.9L71.4 618.0L72.5 620.9L74.0 623.5L76.6 625.8L80.3 628.0L83.6 630.3L86.8 632.9L89.3 635.2L91.5 637.3L93.5 637.8L95.7 636.7L98.0 634.9L100.6 632.3L103.2 630.1L105.8 628.4L108.4 627.2L111.0 626.5L112.8 627.2L113.9 629.0L114.1 631.3L113.6 633.9L113.0 636.5L112.5 639.1L113.6 641.2L116.2 642.7L119.1 644.3L122.2 645.9L125.9 648.0L130.0 650.6L134.2 652.6L138.3 653.9L142.5 654.7L146.7 654.9L149.8 654.0L151.9 651.8L153.2 648.7L153.7 644.6L153.5 640.4L152.4 636.3L151.1 632.1L149.6 627.9L148.0 623.7L146.4 619.6L145.3 615.9L144.8 612.8L145.1 609.9L146.2 607.3L148.0 605.2L150.6 603.7L153.5 602.9L156.5 602.9L159.7 603.7L162.8 605.2L165.2 607.3L166.7 609.9L168.0 613.0L169.1 616.7L169.7 620.9L169.9 625.5L170.0 630.5L170.0 635.7L170.4 640.4L171.3 644.6L172.5 648.8L174.0 652.9L175.6 656.8L177.1 660.5L179.5 663.6L182.6 666.2L185.7 668.5L188.9 670.7L192.0 673.0L195.1 675.6L197.7 678.2L199.8 680.8L202.4 683.4L205.5 686.0L208.6 688.1L211.8 689.6L215.4 690.5L219.6 690.7L223.8 690.7L227.9 690.5L232.1 689.9L236.2 688.8L239.9 687.3L243.0 685.2L246.1 682.9L249.3 680.3L252.4 678.0L255.5 675.8L258.7 673.8L261.8 671.7L264.9 669.1L268.0 665.9L271.2 662.8L274.5 659.7L277.8 657.1L280.9 655.0L284.6 653.5L288.7 652.4L292.9 651.6L297.1 651.1L301.3 650.5L305.4 650.0L309.1 650.3L312.2 651.4L315.9 652.1L320.0 652.6L324.2 652.5L328.3 651.6L332.0 650.6L335.1 649.4L338.2 647.8L341.3 645.7L344.5 643.7L347.6 641.8L351.3 640.3L355.4 639.3L359.6 638.3L363.7 637.2L367.9 636.0L372.1 634.5L376.3 634.0L380.4 634.4L384.6 634.4L388.7 634.0L392.9 632.8L397.1 631.0L401.3 629.8L405.4 629.2L409.1 629.2L412.2 629.8L415.9 629.5L420.0 628.4L424.2 626.9L428.3 624.8L432.5 623.0L436.7 621.4L440.9 620.1L445.0 619.0L449.7 618.2L454.9 617.8L460.1 617.5L465.3 617.5L470.0 618.0L474.1 619.1L478.3 620.4L482.5 621.9L487.2 623.5L492.4 625.0L497.1 626.6L501.2 628.2L505.4 629.5L509.6 630.5L511.3 630.8L510.4 630.2L511.6 630.5L514.7 631.6L517.8 633.4L520.9 636.0L524.6 638.6L528.7 641.2L532.9 643.5L537.1 645.7L541.3 648.0L545.4 650.6L549.6 652.4L553.7 653.5L557.9 654.5L562.1 655.5L566.3 657.0L570.4 659.2L574.1 661.5L577.2 664.1L579.0 666.2L579.5 667.7L578.8 669.5L576.7 671.7L574.8 674.0L573.3 676.6L572.8 679.2L573.2 681.8L574.8 684.4L577.5 687.0L580.3 689.9L583.5 693.0L586.5 696.2L589.7 699.2L592.8 702.4L595.9 705.5L598.5 708.4L600.7 711.0L602.5 713.6L604.0 716.2L605.3 719.1L606.4 722.2L606.6 722.8L605.9 721.0L606.1 721.2L607.0 723.8L608.1 726.2L609.4 728.8L611.0 731.2L612.8 733.8L614.7 736.2L616.6 738.8L618.8 741.1L621.2 743.3L623.8 745.0L626.2 746.3L628.8 746.9L631.2 746.9L633.8 746.3L636.2 745.0L638.8 744.1L641.2 743.4L643.8 743.4L646.2 744.1L648.8 746.9L651.4 752.1L653.5 756.7L655.0 760.8L656.8 765.0L659.0 769.1L661.5 772.8L664.7 775.9L668.3 778.5L672.5 780.7L676.7 782.2L680.8 783.3L684.7 783.9L688.2 784.1L691.7 784.0L695.0 783.5L698.0 782.5L700.5 780.8L703.0 779.2L705.5 777.5L708.4 776.2L711.6 775.2L715.0 775.2L718.3 776.2L721.2 778.0L723.8 780.5L726.2 783.4L728.8 786.6L731.2 790.0L733.8 793.3L736.2 796.2L738.8 798.8L740.8 801.2L742.5 803.8L743.3 806.7L743.3 810.0L743.7 813.2L744.6 816.0L746.2 818.1L748.8 819.4L751.7 820.2L755.0 820.6L758.8 820.7L762.9 820.4L767.1 820.4L771.2 820.7L775.0 821.4L778.3 822.7L781.2 823.7L783.8 824.6L786.2 824.4L788.8 823.1L791.2 822.5L793.8 822.5L795.8 823.5L797.5 825.7L799.5 828.4L802.0 831.6L804.5 834.8L807.0 837.7L809.5 840.7L812.0 843.5L815.0 846.5L818.3 849.3L821.7 852.0L825.0 854.5L828.0 856.8L830.5 859.0L833.0 860.8L835.5 862.5L838.4 862.9L841.6 862.1L845.0 861.4L848.3 860.6L850.6 861.0L851.9 862.5L853.5 866.8L855.3 873.9L858.6 879.3L863.3 883.2L867.9 886.7L872.5 889.7L877.1 892.8L881.8 896.0L886.4 898.5L891.0 900.5L893.3 901.5L893.3 907.7L28.6 907.7L28.6 590.0Z" fill="#ffeb80"/>
<path d="M798.5 787.2L800.7 789.1L802.1 791.0L802.9 793.2L802.7 795.5L801.4 798.0L800.0 800.2L798.3 802.3L796.7 802.3L795.0 800.2L793.5 798.0L792.0 795.5L791.8 793.0L792.8 790.5L794.3 788.5L796.5 787.0Z" fill="#ffeb80"/>
<path d="M551.4 748.3L553.0 746.1L555.0 744.7L557.5 744.1L560.0 744.1L562.5 744.7L564.7 746.0L566.6 747.8L568.4 749.7L570.3 751.6L572.3 753.3L574.5 754.8L576.2 756.7L577.5 758.9L578.0 761.5L577.6 764.7L577.0 767.8L576.1 770.9L574.8 774.1L573.3 777.2L571.9 779.7L570.6 781.6L569.5 781.6L568.6 779.7L567.8 777.5L567.2 775.0L566.4 772.8L565.5 771.0L564.0 769.9L562.2 769.5L560.3 769.8L558.4 770.8L556.7 770.9L555.2 770.3L554.1 768.8L553.4 766.2L552.8 763.5L552.2 760.3L551.4 757.5L550.5 755.0L550.1 752.7L550.5 750.5Z" fill="#f3d180"/>
<path d="M1100.0 903.0L1108.0 901.0L1118.0 899.9L1127.0 899.3L1136.0 899.0L1136.0 903.0Z" fill="#ffeb80"/>
<path d="M35.0 649.8L36.4 650.8L39.0 653.0L42.0 655.3L45.1 657.9L48.3 660.2L51.3 662.3L55.0 664.2L59.1 666.2L63.3 667.6L67.5 668.7L71.4 669.2L75.1 669.2L78.2 668.5L80.8 667.2L83.6 665.7L86.8 664.1L90.4 663.3L94.6 663.3L98.8 662.5L102.9 661.0L107.1 659.9L111.2 659.1L115.4 659.1L119.6 659.9L123.2 661.0L126.4 662.5L129.5 664.1L132.6 665.7L135.8 666.8L138.9 667.2L142.0 668.5L145.1 670.7L148.2 672.0L151.4 672.5L154.0 671.4L156.0 668.8L157.9 665.9L159.4 662.8L161.0 661.0L162.5 660.5L164.4 661.0L166.4 662.5L168.6 664.6L170.6 667.2L172.7 670.1L174.8 673.2L177.1 676.1L179.7 678.7L182.3 681.0L184.9 683.2L187.5 685.2L190.2 687.3L192.8 689.9L195.4 693.0L197.9 695.5L200.4 697.4L202.7 700.4L204.8 704.6L206.1 708.4L206.7 711.6L206.3 714.5L204.9 717.0L203.3 719.3L201.7 721.5L201.0 724.0L201.5 726.8L202.5 729.8L204.2 732.7L206.2 735.5L208.8 738.0L211.7 740.2L215.0 742.0L218.3 743.5L221.7 744.5L225.4 745.3L229.6 746.0L233.8 746.6L237.9 747.2L241.9 748.2L245.6 749.6L249.2 751.7L252.5 754.4L255.0 757.3L256.7 760.2L257.3 763.4L256.9 766.6L256.3 770.0L255.4 773.3L254.8 776.7L254.4 780.0L254.6 783.0L255.4 785.5L256.9 787.7L258.9 789.8L261.7 791.6L265.0 793.4L268.3 795.2L271.7 797.3L275.0 799.8L278.3 802.7L281.4 805.7L284.4 808.5L287.3 811.2L290.2 813.8L292.9 815.8L295.4 817.5L297.5 818.5L299.2 819.0L300.2 817.7L300.6 814.8L300.6 811.6L300.2 808.4L299.8 804.6L299.4 800.4L299.4 796.2L299.8 792.1L300.4 787.9L301.3 783.8L302.1 779.6L302.9 775.4L303.0 771.2L302.3 767.1L301.9 763.3L301.8 760.0L302.3 756.8L303.6 754.0L305.6 751.7L308.6 750.0L312.1 748.6L316.2 747.3L320.4 745.9L324.6 744.1L328.8 742.5L332.9 740.8L337.1 739.2L341.2 737.5L345.4 735.9L349.6 734.1L353.8 732.5L357.9 730.8L361.7 729.2L365.0 727.5L368.3 725.7L371.7 723.5L375.0 721.0L378.3 718.2L381.2 715.5L383.8 713.0L388.0 710.7L394.1 708.5L399.2 707.3L403.3 706.9L407.5 706.3L411.7 705.4L415.9 704.0L420.0 702.2L424.2 700.2L428.3 698.1L432.5 696.4L436.7 694.9L440.9 693.7L445.0 692.6L448.9 691.8L452.6 691.3L456.2 691.4L459.9 692.1L463.8 692.6L467.9 693.0L472.1 693.2L476.2 693.4L480.4 693.7L484.6 694.0L488.8 694.7L492.9 695.7L496.6 697.0L499.6 698.5L502.8 700.2L505.9 702.3L509.1 704.7L512.2 707.4L514.4 709.1L515.6 709.9L517.5 711.8L520.2 714.9L521.8 717.4L522.2 719.1L523.4 721.5L525.3 724.7L527.0 727.8L528.6 730.9L530.0 734.1L531.3 737.2L532.8 740.2L534.7 743.0L537.0 745.3L539.8 747.2L542.5 748.6L545.0 749.5L547.0 751.0L548.6 752.8L549.5 755.3L549.9 758.5L550.1 761.5L550.5 764.7L550.9 767.8L551.6 770.9L552.7 773.6L554.2 775.8L556.0 777.2L557.8 777.8L559.7 777.8L561.6 777.2L563.0 777.7L563.9 779.2L564.7 781.2L565.3 783.8L566.1 786.2L567.0 788.8L568.1 790.8L569.4 792.3L571.2 793.3L573.8 793.6L576.2 793.1L578.8 791.9L581.0 790.4L582.8 788.9L584.7 787.3L586.6 785.8L588.4 784.7L590.3 784.1L592.5 784.2L595.0 785.2L597.5 786.2L600.0 787.5L602.3 788.6L604.5 789.5L606.4 789.0L608.0 787.2L609.1 785.0L609.7 782.5L610.6 780.3L611.9 778.4L613.4 776.9L615.3 775.6L617.0 775.0L618.6 775.0L620.0 776.0L621.3 777.8L622.4 780.0L623.3 782.5L624.4 785.0L625.6 787.5L627.2 789.7L629.0 791.6L631.2 793.3L633.8 794.8L636.2 796.1L638.8 797.0L641.0 798.4L642.8 800.3L644.1 802.8L644.7 805.9L645.5 808.8L646.4 811.2L647.6 812.6L648.9 812.8L651.2 813.7L654.2 815.2L656.8 817.6L659.0 820.7L661.3 823.3L663.9 825.5L667.0 826.2L670.7 825.7L674.1 825.7L677.2 826.2L680.3 827.5L683.5 829.6L686.5 831.7L689.7 833.7L690.9 834.8L690.3 835.0L691.7 836.0L695.0 838.2L698.4 840.2L701.6 842.3L705.4 844.1L709.6 845.9L713.8 847.3L717.9 848.6L722.1 849.8L726.2 851.1L730.4 852.1L734.6 852.9L738.8 853.5L742.9 854.0L746.7 854.4L750.0 854.8L753.0 855.6L755.5 856.9L758.0 858.5L760.5 860.7L763.0 862.5L765.5 864.2L768.4 865.4L771.6 866.3L775.0 866.9L778.3 867.3L781.7 867.3L785.0 866.9L788.4 867.1L791.6 867.9L794.4 869.4L796.7 871.7L800.1 874.3L804.7 877.5L809.3 880.1L813.9 882.5L818.5 885.2L823.2 888.2L827.8 891.3L832.5 894.4L836.7 897.3L840.6 900.1L842.5 901.5L842.5 907.7L28.6 907.7L28.6 649.8Z" fill="#ffeb00"/>
<path d="M30.0 599.8L38.3 599.8L44.6 600.6L48.7 602.1L52.9 604.5L57.1 607.6L60.8 611.0L63.9 614.7L66.7 617.8L69.3 620.4L70.9 623.2L71.4 626.3L71.4 629.5L70.9 632.6L69.8 635.0L68.3 636.5L66.5 637.0L64.3 636.5L62.5 635.2L61.0 633.1L59.4 631.3L57.9 629.8L56.1 629.2L53.9 629.8L51.3 630.5L48.3 631.6L45.1 632.5L42.0 633.4L36.8 634.0L29.5 634.4L25.8 625.9L25.8 608.5Z" fill="#ffeb00"/>
<path d="M37.0 610.4L38.6 608.9L40.4 608.1L42.5 608.1L44.0 609.2L45.1 611.2L45.5 613.8L45.1 617.0L45.7 620.1L47.0 623.2L46.9 625.3L45.4 626.4L43.6 626.4L41.4 625.3L39.6 623.8L38.1 621.7L36.9 619.3L36.2 616.7L35.9 614.3L36.1 612.2Z" fill="#e0eb1e"/>
<path d="M554.4 824.4L555.6 823.1L557.8 822.4L560.9 822.0L564.1 822.4L567.2 823.3L570.0 824.6L572.5 826.1L573.5 828.0L572.8 830.1L571.7 832.5L570.2 835.0L568.6 837.5L567.0 840.0L566.1 842.8L565.8 845.9L565.8 848.8L566.1 851.2L565.4 853.3L563.9 854.8L562.6 854.8L561.7 853.3L561.1 850.9L560.8 847.8L560.2 845.0L559.2 842.5L558.0 840.3L556.4 838.4L555.2 836.2L554.2 833.8L553.6 831.4L553.3 829.2L553.3 827.3L553.6 825.8Z" fill="#ffeb80"/>
<path d="M567.5 858.8L570.6 856.9L575.0 858.1L577.5 860.6L575.0 862.9L570.0 862.9Z" fill="#ffeb80"/>
<path d="M35.0 799.4L36.9 798.6L40.6 797.0L44.6 795.8L48.7 795.0L52.4 794.0L55.5 792.7L58.7 790.8L61.7 788.2L64.6 784.8L67.2 780.6L69.5 776.2L71.7 771.5L73.8 766.9L75.9 762.1L78.2 757.7L80.8 753.6L82.1 751.3L82.1 751.0L83.6 748.7L86.8 744.6L89.9 740.9L93.0 737.8L96.7 735.4L100.8 733.9L105.5 732.9L110.7 732.4L115.9 732.0L121.2 731.8L125.9 731.3L130.0 730.4L134.2 729.6L138.3 728.7L142.5 728.6L146.7 729.3L150.9 730.2L155.0 731.5L159.2 732.9L163.3 734.4L167.5 736.1L171.7 737.9L174.3 740.1L175.3 742.9L177.9 745.2L182.1 747.3L185.6 749.1L188.6 750.9L191.7 752.1L195.0 752.9L198.3 753.9L201.7 755.2L205.0 756.6L208.3 758.4L211.7 760.2L215.0 762.3L218.3 764.3L221.7 766.5L225.0 768.8L228.3 771.2L231.7 773.8L235.0 776.2L238.3 778.8L241.7 781.2L245.0 783.5L248.3 785.7L251.7 787.5L255.0 789.2L258.3 791.0L261.7 793.2L265.0 795.2L268.3 797.3L271.7 799.8L275.0 802.7L277.9 805.7L280.4 808.5L282.9 811.5L285.4 814.3L287.9 817.0L290.4 819.5L293.3 821.8L296.7 824.0L300.4 826.0L304.6 828.2L308.8 830.0L312.9 831.7L317.1 833.1L321.2 834.4L325.4 835.3L329.6 836.0L333.8 836.4L337.9 836.6L342.1 836.5L346.2 836.0L350.0 835.2L353.3 833.9L356.2 832.3L358.8 830.2L360.8 827.7L362.5 824.8L364.2 821.8L365.8 819.0L367.5 816.0L369.2 813.2L370.8 810.5L372.5 808.0L374.6 806.1L377.1 804.8L380.0 804.4L383.3 804.8L383.8 804.8L381.2 804.4L381.2 804.3L383.8 804.6L386.7 805.0L390.0 805.5L393.8 806.1L397.9 806.7L402.1 806.7L406.2 806.1L409.8 805.0L412.7 803.3L414.8 801.0L416.1 798.2L417.1 795.0L417.9 791.7L419.2 788.3L420.8 785.0L422.9 781.6L425.4 778.4L429.2 774.8L434.2 771.1L439.3 767.4L444.5 763.7L449.7 760.3L454.9 757.2L460.1 754.3L465.3 751.7L470.0 749.1L474.1 746.5L478.3 744.0L482.5 741.6L486.7 739.8L490.8 738.5L495.0 737.8L499.1 737.4L502.4 737.5L504.9 737.9L507.8 738.6L510.9 739.5L514.1 740.6L517.2 741.9L520.3 743.3L523.5 744.8L526.5 746.2L529.7 747.5L532.8 748.6L535.9 749.5L538.8 750.8L541.2 752.3L543.3 754.2L544.8 756.4L545.9 758.8L546.6 761.2L546.6 763.8L545.9 766.2L545.0 768.4L543.7 770.3L542.8 772.2L542.2 774.0L542.2 776.0L542.8 777.8L544.2 779.6L546.4 781.1L548.8 782.7L551.2 784.2L553.3 785.8L554.8 787.3L555.9 789.2L556.6 791.4L556.7 793.8L556.4 796.2L555.9 798.8L555.3 801.2L554.5 803.8L553.6 806.2L552.6 808.8L551.7 811.2L550.8 813.8L549.8 816.2L549.1 818.8L548.4 821.2L548.0 822.5L547.6 822.5L547.6 824.4L548.0 828.1L548.6 831.9L549.5 835.6L550.6 839.1L551.9 842.2L553.3 845.3L554.8 848.5L556.4 851.5L558.0 854.7L559.7 857.5L561.6 860.0L563.8 862.5L566.2 865.0L568.4 867.5L570.3 870.0L571.9 872.5L573.1 875.0L574.2 877.5L575.2 880.0L575.9 882.5L576.6 885.0L577.7 885.3L579.2 883.4L580.6 881.2L581.9 878.8L583.4 876.2L585.3 873.8L587.2 871.4L589.0 869.2L591.2 867.5L593.8 866.2L596.2 865.0L598.8 863.7L601.2 862.2L603.8 860.3L606.2 858.4L608.8 856.6L611.2 854.7L613.8 852.8L616.2 850.9L618.8 849.1L621.2 847.2L623.8 845.3L626.2 843.6L628.8 842.0L631.0 840.9L632.8 840.3L634.2 841.0L635.2 842.8L636.1 845.0L637.0 847.5L638.4 849.7L640.3 851.6L642.5 853.1L645.0 854.4L646.0 854.4L645.6 853.1L647.5 853.0L651.7 854.1L655.9 854.7L660.0 854.9L664.2 855.4L668.3 856.3L672.5 857.3L676.7 858.6L680.9 860.1L685.0 862.0L689.2 863.9L693.3 866.1L697.5 868.1L701.7 870.2L705.9 872.0L710.0 873.6L714.2 875.2L718.3 876.7L722.5 878.4L726.7 880.3L730.9 881.9L735.0 883.1L739.2 884.3L743.3 885.3L747.5 886.3L751.7 887.4L755.3 888.2L758.5 888.7L762.5 890.4L767.5 893.0L771.5 895.2L774.7 896.7L777.7 898.5L780.8 900.5L782.3 901.5L782.3 907.7L28.6 907.7L28.6 799.4Z" fill="#e0eb1e"/>
<path d="M627.2 812.2L629.0 814.0L630.1 816.2L630.5 818.8L629.8 821.5L628.3 824.7L626.6 827.8L624.7 830.9L622.8 834.1L621.0 837.2L618.9 840.3L616.7 843.5L614.5 845.9L612.3 847.6L610.0 848.4L607.5 848.2L605.4 847.3L603.9 845.8L603.0 844.0L602.6 842.2L603.0 840.0L603.9 837.5L605.0 834.7L606.3 831.5L607.7 828.8L609.2 826.2L611.2 824.0L613.8 822.2L616.2 820.6L618.8 819.4L621.0 817.8L622.8 816.0L624.4 814.0L625.6 812.2Z" fill="#e0eb1e"/>
<path d="M618.4 823.6L620.3 824.5L621.9 825.6L623.1 826.9L623.3 828.4L622.4 830.3L621.1 832.3L619.6 834.5L617.8 836.6L616.0 838.4L614.2 839.7L612.7 840.3L611.3 839.8L610.0 838.3L609.3 836.7L609.1 835.2L609.5 833.3L610.7 831.1L612.0 828.9L613.6 826.7L615.2 825.0L616.7 823.7Z" fill="#a5cd66"/>
<path d="M28.1 895.0L32.7 894.5L36.9 893.3L40.6 891.3L44.6 889.9L48.7 888.8L53.4 887.9L58.6 887.2L63.8 885.8L69.1 883.8L74.3 881.7L79.5 879.5L84.7 877.8L89.9 876.5L94.1 875.2L97.2 873.9L99.8 872.3L101.9 870.2L105.5 868.2L110.7 866.0L115.9 864.2L121.2 862.7L126.4 861.5L131.6 860.6L136.8 860.0L142.0 859.5L146.7 858.8L150.8 858.1L154.5 856.7L157.6 854.5L160.2 852.0L162.3 848.8L163.6 845.7L164.1 842.6L163.6 839.5L162.0 836.3L159.9 833.5L157.3 830.9L155.2 828.0L153.7 824.9L152.5 821.2L151.6 817.1L151.4 812.9L151.7 808.8L152.7 805.4L154.2 802.8L156.3 800.8L158.9 799.5L161.8 798.9L164.9 799.2L168.3 800.4L172.0 802.5L175.4 805.1L178.4 808.2L182.1 811.1L186.2 813.7L190.4 816.0L194.6 818.2L198.8 820.0L202.9 821.5L207.1 823.1L211.2 824.6L215.4 825.7L219.6 826.2L223.2 826.1L226.4 825.4L229.5 824.0L232.6 822.2L235.2 819.9L237.3 817.3L239.1 814.5L240.7 811.3L242.5 809.5L244.6 809.0L246.9 809.6L249.5 811.1L252.1 812.1L254.7 812.6L255.8 811.6L255.2 809.0L253.9 806.4L251.9 803.8L250.6 801.2L250.1 798.6L250.9 796.5L252.9 795.0L255.3 794.7L257.9 795.7L260.8 797.5L263.8 800.2L267.0 803.0L270.1 806.2L273.0 808.8L275.6 810.8L277.7 813.1L279.2 815.5L282.1 818.8L286.2 822.9L290.4 827.1L294.6 831.2L298.8 835.0L302.9 838.3L307.1 840.8L311.2 842.2L315.4 843.3L319.6 843.9L322.7 845.2L324.8 847.3L326.4 849.5L327.7 852.0L327.7 854.5L326.4 857.0L325.0 859.5L323.3 862.0L321.7 864.5L320.0 867.0L321.1 869.1L324.8 870.9L329.2 872.5L334.2 874.2L338.3 875.4L341.7 876.3L345.0 877.1L348.3 877.9L351.7 878.9L355.0 880.2L358.3 881.2L361.7 882.1L365.0 882.5L368.3 882.5L371.7 881.9L375.0 880.6L378.3 879.4L381.7 878.1L385.0 877.3L388.3 876.9L391.7 876.9L395.0 877.3L398.3 878.3L401.7 880.0L405.0 881.8L408.3 884.0L412.1 885.8L416.2 887.5L420.0 888.6L423.3 889.2L424.4 888.0L423.1 884.8L421.1 882.0L418.1 879.5L415.2 877.0L412.3 874.5L410.0 872.3L408.3 870.2L408.1 868.2L409.4 866.3L411.7 864.9L415.0 864.1L418.8 864.0L422.9 864.7L426.7 865.4L430.0 866.3L433.1 865.7L436.1 863.5L438.6 861.2L440.6 858.8L442.3 857.3L443.6 856.9L445.2 857.7L447.3 859.8L449.6 862.3L452.1 865.2L454.6 866.5L457.1 866.0L459.4 865.2L461.4 863.9L463.3 863.9L465.0 865.2L466.7 866.8L468.3 869.0L469.7 871.5L470.8 874.3L471.6 877.3L472.2 880.2L474.4 883.0L478.1 885.5L482.1 888.0L486.2 890.5L490.4 893.0L494.6 895.5L497.9 898.4L500.4 901.6L382.7 904.1L144.8 905.9L25.8 903.8L25.8 898.1Z" fill="#a5cd66"/>
<path d="M427.9 883.3L430.4 880.0L433.3 877.3L436.7 875.2L440.0 874.4L443.3 874.8L446.4 875.8L449.4 877.5L451.4 879.5L452.7 882.0L453.1 885.0L452.7 888.3L451.4 891.0L449.4 893.2L446.7 894.4L443.3 894.8L439.6 894.4L435.4 893.1L431.9 891.7L428.9 890.0L427.3 888.2L426.9 886.0Z" fill="#e0eb1e"/>
<path d="M298.6 872.1L300.6 871.2L303.8 870.5L307.9 870.0L312.3 869.4L316.9 868.6L321.1 869.0L324.8 870.5L328.6 872.6L332.3 875.4L334.4 878.0L334.8 880.5L333.8 883.2L331.2 886.0L328.3 888.1L325.0 889.4L321.2 889.8L317.1 889.4L312.9 888.4L308.8 886.6L305.0 884.8L301.7 882.7L299.2 880.5L297.5 878.0L296.9 875.7L297.3 873.5Z" fill="#e0eb1e"/>
<path d="M234.7 790.6L236.4 789.8L238.4 789.8L240.4 790.6L241.8 792.3L242.2 794.9L242.0 797.3L240.9 799.3L239.4 799.9L237.2 798.8L235.7 797.4L234.7 795.5L234.1 793.7L233.9 791.9Z" fill="#a5cd66"/>
<path d="M502.4 772.5L503.3 770.0L504.7 767.5L506.6 765.0L508.8 762.7L511.2 760.5L514.1 758.8L517.2 757.5L520.0 757.0L522.5 757.4L524.4 758.4L525.6 760.3L526.5 762.8L527.2 765.9L527.6 769.1L528.0 772.2L528.0 775.3L527.6 778.5L527.2 781.0L526.5 782.8L524.7 783.6L521.5 783.3L518.1 783.0L514.4 782.6L510.9 782.2L507.8 781.5L505.3 780.4L503.4 778.9L502.4 777.0L502.0 774.9Z" fill="#a5cd66"/>
<path d="M536.9 760.4L538.1 758.9L539.6 758.1L541.1 758.1L542.4 759.1L543.3 760.9L543.8 763.1L543.8 765.6L543.3 768.0L542.4 770.1L541.3 771.2L540.0 771.2L538.8 770.4L537.5 768.9L536.6 767.2L535.9 765.3L535.8 763.6L536.1 762.0Z" fill="#a5cd66"/>
<path d="M539.8 762.5L540.8 765.0L540.2 768.1L539.2 765.6Z" fill="#e8f3a0"/>
<path d="M481.1 820.7L483.1 818.5L485.4 817.2L487.9 816.6L490.0 817.2L491.7 819.1L492.7 822.1L493.1 826.2L493.2 830.8L493.1 835.8L492.7 840.6L492.0 845.2L490.4 846.7L487.9 845.0L485.6 842.7L483.6 839.8L481.8 836.2L480.4 832.1L479.8 827.9L479.9 823.8Z" fill="#a5cd66"/>
<path d="M540.0 817.5L537.5 817.5L535.0 818.4L532.5 820.3L530.0 822.5L527.5 825.0L525.0 827.8L522.5 830.9L520.4 834.1L518.9 837.2L517.8 840.3L517.2 843.5L516.9 846.5L516.9 849.7L517.4 852.5L518.3 855.0L519.4 855.9L520.6 855.3L521.9 854.0L523.1 852.2L524.6 850.8L526.1 849.8L527.5 850.2L528.8 851.7L529.4 854.1L529.4 857.2L528.8 860.0L527.5 862.5L526.3 865.0L525.0 867.5L523.8 870.3L522.5 873.5L521.1 876.1L519.6 878.3L517.5 879.5L515.0 879.9L512.8 879.0L510.9 877.2L509.4 875.0L508.1 872.5L506.6 870.6L504.7 869.4L502.9 868.7L500.9 868.6L498.8 868.6L496.2 869.0L494.9 869.8L494.5 871.2L495.8 873.0L498.6 875.1L501.2 877.6L503.8 880.2L505.9 883.1L507.9 886.0L509.1 888.8L509.7 891.2L509.4 894.1L508.1 897.2L507.2 899.6L506.5 901.1L515.6 901.9L534.4 901.9L544.4 900.5L545.6 897.6L547.2 894.7L549.0 891.5L550.6 888.5L551.9 885.3L552.6 882.2L553.0 879.1L553.6 876.9L554.5 875.6L555.5 876.0L556.4 877.8L557.0 880.3L557.4 883.5L557.8 886.5L558.5 889.7L559.4 892.8L560.6 895.9L561.9 898.6L563.1 900.8L569.1 901.9L579.7 901.9L584.0 901.1L582.2 899.6L580.3 897.8L578.4 896.0L576.9 893.8L575.6 891.2L574.7 888.8L574.1 886.2L573.5 883.8L572.8 881.2L571.9 879.0L570.6 877.2L569.0 875.3L567.2 873.4L565.3 871.4L563.4 869.2L561.6 867.0L559.7 864.9L557.8 862.7L556.0 860.5L554.0 858.3L552.2 856.1L550.3 854.0L548.4 852.2L546.9 850.0L545.6 847.5L544.7 844.7L544.1 841.5L543.6 838.1L543.3 834.4L543.0 830.6L542.6 826.9L542.2 823.1L541.5 819.4Z" fill="#a5cd66"/>
<path d="M562.7 882.1L564.2 881.4L566.1 881.2L568.3 881.7L569.8 883.3L570.8 886.1L571.7 889.1L572.6 892.2L573.9 895.0L575.4 897.5L577.2 899.6L579.0 901.1L576.5 901.9L569.7 901.9L565.8 900.2L564.8 896.7L563.8 893.5L562.5 890.3L561.7 887.8L561.2 886.0L561.2 884.4L561.7 883.1Z" fill="#e8f3a0"/>
<path d="M590.5 900.2L590.1 896.7L590.3 894.0L590.9 892.2L592.8 891.1L595.9 890.8L599.1 890.8L602.2 891.1L605.3 891.4L608.5 891.7L611.5 891.6L614.7 890.9L617.8 890.3L620.9 889.7L624.1 889.1L627.2 888.4L630.3 888.0L633.5 887.6L636.5 887.4L639.7 887.0L642.5 886.7L645.0 886.4L647.2 885.9L649.0 885.3L651.0 884.4L652.8 883.3L656.4 882.5L661.6 882.0L666.8 882.1L672.0 882.9L677.2 883.9L682.4 885.2L687.6 886.6L692.8 888.2L698.0 889.8L703.2 891.3L708.4 892.9L713.6 894.4L718.8 895.9L724.1 897.2L729.3 898.4L734.5 899.5L738.4 900.6L741.0 901.9L704.4 902.4L628.5 902.0Z" fill="#a5cd66"/>
<path d="M470.0 901.7L471.7 898.3L475.8 897.5L478.3 901.7Z" fill="#e8f3a0"/>
<path d="M225.0 100.0L225.2 101.3L225.6 104.0L227.2 106.4L229.9 108.8L233.6 109.9L238.2 109.9L242.3 109.0L246.0 107.2L249.2 107.9L251.9 111.1L254.2 115.0L256.1 119.5L258.8 123.6L262.5 127.3L266.2 129.9L269.8 131.2L273.5 131.9L277.2 131.9L280.4 131.5L283.1 130.5L286.3 131.7L290.0 134.9L293.7 137.7L297.3 139.9L301.5 140.2L306.0 138.3L311.1 137.0L316.6 136.0L322.5 135.4L329.0 134.9L335.4 134.0L341.8 132.6L347.8 131.0L353.2 129.2L358.8 126.9L364.2 124.2L370.7 120.9L378.0 117.3L386.3 112.9L395.4 107.8L402.3 102.8L406.9 97.9L443.0 95.4L510.5 95.4L544.8 97.2L546.0 100.7L548.4 103.4L552.3 105.3L555.7 107.6L558.8 110.3L561.8 113.4L565.0 116.8L567.1 120.4L568.4 124.3L569.1 127.4L569.5 129.7L570.5 131.0L572.4 131.2L574.1 130.7L575.6 129.2L575.5 127.1L573.6 124.4L572.5 121.2L572.2 117.3L572.5 113.9L573.7 110.8L576.1 108.5L580.0 107.0L583.8 106.4L587.7 106.6L590.8 107.8L593.1 109.8L595.0 112.3L596.5 115.5L598.5 118.8L600.8 122.2L603.9 123.8L607.8 123.3L612.0 122.3L616.6 120.8L620.8 118.5L624.7 115.4L628.5 113.3L632.4 112.0L636.2 111.3L640.1 110.9L644.0 111.6L647.8 113.1L652.1 115.7L656.7 119.2L661.3 122.7L665.9 126.1L670.5 129.5L675.2 132.8L680.6 136.4L686.7 140.3L692.9 143.4L699.1 145.7L705.3 147.5L711.4 148.7L717.6 149.9L723.7 151.2L729.1 153.1L733.8 155.7L738.4 158.6L743.0 161.6L747.6 164.8L752.3 167.9L757.3 171.5L762.7 175.6L766.5 178.2L768.9 179.1L772.7 180.0L778.1 180.7L783.5 182.0L788.9 183.9L794.3 186.4L799.7 189.4L803.5 192.5L805.9 195.6L808.1 198.6L810.5 201.8L813.5 204.2L817.4 206.1L822.4 207.1L828.6 207.2L834.0 208.1L838.6 209.6L843.2 211.3L847.9 213.2L852.5 214.9L857.1 216.4L861.5 217.8L865.9 219.0L869.7 221.3L873.1 224.7L876.7 228.1L880.6 231.5L884.4 234.7L888.3 237.9L892.0 241.4L895.5 245.4L899.0 246.9L902.4 246.0L905.9 245.0L909.4 243.9L912.9 244.2L916.3 245.7L919.5 248.0L922.7 251.1L925.7 253.9L928.8 256.6L932.2 258.6L936.1 260.1L939.3 262.1L942.0 264.4L944.1 267.0L945.6 269.7L946.8 273.0L947.5 276.9L949.1 280.2L951.6 283.0L954.5 285.0L957.9 286.3L961.5 287.3L965.4 288.2L968.8 289.9L972.0 292.4L975.8 295.7L980.5 299.9L985.1 303.9L989.7 307.8L994.3 311.6L998.9 315.5L1004.3 319.5L1010.5 323.9L1016.7 327.7L1022.8 331.1L1027.8 334.9L1031.7 339.0L1035.5 343.4L1039.4 348.1L1043.2 352.7L1047.1 357.3L1050.5 361.4L1053.7 364.9L1056.8 367.5L1059.9 369.2L1063.7 371.1L1068.3 373.5L1072.9 376.2L1077.6 379.2L1082.6 383.1L1088.0 387.7L1093.0 392.3L1097.6 397.0L1102.2 401.2L1106.9 405.1L1111.9 408.1L1117.3 410.5L1121.9 412.8L1125.8 415.0L1129.0 417.2L1131.6 419.3L1132.9 420.3M533.2 114.8L535.7 119.1L534.4 123.4L531.4 122.2L530.7 117.9ZM53.1 100.0L55.0 103.1L58.9 109.2L63.1 114.6L67.8 119.3L72.4 123.1L77.0 126.2L82.4 129.2L88.6 131.9L95.6 134.6L103.2 137.2L110.9 138.9L118.7 139.7L124.8 140.9L129.5 142.4L135.7 145.1L143.3 149.0L151.0 152.8L158.8 156.7L166.4 159.8L174.2 162.0L181.8 162.8L189.6 162.1L197.2 161.1L205.0 159.8L211.9 159.4L218.1 159.9L224.3 161.6L230.4 164.8L236.6 167.9L242.7 170.9L248.1 172.1L252.8 171.3L257.4 170.0L262.0 168.1L267.4 166.4L273.6 164.9L279.0 163.9L283.6 163.4L289.0 164.5L295.1 167.1L300.5 168.4L305.2 168.4L310.6 167.7L316.7 166.2L322.9 164.9L329.1 163.8L335.3 163.3L341.4 163.7L346.8 163.7L351.5 163.3L356.1 162.0L360.7 159.8L366.1 157.0L372.2 154.0L378.4 150.9L384.6 147.8L390.8 144.8L396.9 142.1L403.1 139.0L409.2 135.6L415.4 132.4L421.6 129.3L427.8 126.2L433.9 123.1L440.1 120.0L446.2 117.0L452.4 114.4L458.6 112.4L464.8 111.3L470.9 110.9L476.3 111.9L480.9 114.3L484.4 117.3L486.7 121.2L488.7 124.4L490.2 127.1L492.5 127.9L495.6 126.8L498.7 126.4L501.8 126.9L504.5 128.4L506.7 131.1L508.3 134.3L509.1 138.2L510.2 142.0L511.8 145.9L514.0 149.4L517.2 152.4L520.2 154.9L523.3 156.8L526.8 157.5L530.7 157.2L534.5 157.2L538.4 157.5L541.1 159.5L542.6 163.0L544.5 166.7L546.9 170.6L549.5 174.0L552.7 177.1L556.5 180.1L561.1 183.3L565.3 185.6L569.2 187.1L573.8 187.5L579.2 186.7L584.6 186.9L590.0 188.2L595.4 189.5L600.8 190.9L606.6 191.0L612.7 190.0L618.5 188.4L623.9 186.4L628.5 185.0L632.4 184.3L635.5 185.3L637.8 188.0L640.1 191.1L642.5 194.5L646.7 197.4L652.8 199.9L659.8 202.2L667.4 204.3L675.2 206.4L682.9 208.5L689.9 210.7L696.0 212.9L702.2 215.6L708.3 218.7L714.5 221.4L720.7 223.7L727.6 225.7L735.4 227.2L741.5 229.2L746.1 231.4L750.7 234.5L755.4 238.4L760.8 242.6L766.9 247.2L772.7 249.8L778.1 250.5L783.5 251.3L788.9 252.1L793.9 254.1L798.5 257.2L803.5 261.1L808.9 265.7L814.3 268.4L819.7 269.2L824.7 270.1L829.4 271.2L833.6 272.3L837.5 273.6L841.3 274.3L845.2 274.4L849.4 275.6L854.0 277.7L858.6 280.4L863.3 283.4L867.9 286.7L872.5 290.1L876.7 292.8L880.6 294.8L884.4 297.9L888.3 302.0L892.5 305.5L897.2 308.3L902.6 311.2L908.7 314.3L914.1 317.4L918.8 320.4L923.4 323.6L928.0 326.6L932.6 330.5L937.3 335.1L942.7 339.7L948.8 344.4L955.0 349.0L961.1 353.6L966.5 358.2L971.2 362.9L974.9 366.4L977.6 368.8L981.1 371.9L985.3 375.8L989.7 380.0L994.3 384.7L998.9 388.5L1003.6 391.6L1008.6 394.4L1014.0 397.1L1019.0 399.8L1023.6 402.5L1028.2 405.6L1032.9 409.0L1037.5 412.7L1042.1 416.7L1046.3 420.8L1050.2 424.9L1053.6 428.6L1056.8 431.6L1060.6 433.8L1065.2 435.1L1070.2 436.2L1075.6 437.3L1080.6 439.4L1085.3 442.4L1089.9 445.9L1094.5 449.8L1098.7 453.2L1102.6 456.3L1106.8 459.2L1111.5 461.8L1116.5 464.0L1121.9 465.6L1126.7 467.2L1130.8 468.6L1132.9 469.3M512.9 126.5L514.1 129.0L512.5 130.8L511.3 128.7ZM34.9 143.2L37.5 144.7L42.8 147.8L48.5 152.0L54.7 157.4L60.9 162.4L67.0 167.1L72.4 170.6L77.0 172.8L82.4 174.2L88.6 174.4L94.0 175.8L98.6 178.3L104.0 182.0L110.1 187.0L116.3 190.6L122.5 192.8L128.7 194.8L134.8 196.3L141.0 197.5L147.1 198.3L153.3 200.2L159.5 203.3L164.9 205.6L169.5 207.1L174.9 208.1L181.1 208.3L187.3 208.3L193.4 208.1L199.6 207.0L205.7 205.1L211.9 204.7L218.1 205.9L224.3 207.2L230.4 208.7L236.6 209.7L242.7 210.2L248.9 210.3L255.1 210.2L262.0 209.9L269.8 209.7L276.7 209.1L282.8 208.3L288.2 206.4L292.9 203.3L298.3 199.5L304.4 194.8L310.6 192.1L316.7 191.4L322.1 190.6L326.8 189.8L330.2 188.2L332.5 186.0L334.8 186.4L337.2 189.4L341.4 191.2L347.6 191.7L353.8 191.9L359.9 191.9L365.3 190.9L369.9 188.9L375.3 186.7L381.5 184.4L387.3 183.4L392.7 183.7L396.5 183.1L398.9 181.6L403.1 179.5L409.2 176.8L415.4 174.3L421.6 172.1L427.8 170.0L433.9 168.1L440.1 166.2L446.2 164.2L452.4 161.3L458.6 157.4L464.4 153.8L469.8 150.4L475.2 147.9L480.5 146.4L484.4 147.3L486.7 150.7L489.0 154.0L491.4 157.0L494.1 159.8L497.1 162.0L500.2 163.6L503.3 164.4L506.0 163.6L508.3 161.3L510.5 160.5L512.5 161.3L513.8 164.0L514.4 168.6L514.6 172.8L514.2 176.7L513.3 179.1L511.8 180.3L509.9 179.1L507.5 175.7L505.2 174.8L503.0 176.3L501.6 178.6L501.3 181.7L502.4 185.1L505.1 189.1L508.3 192.9L512.2 196.8L516.4 200.6L521.0 204.5L526.4 207.6L532.6 209.8L538.0 212.2L542.6 214.4L548.0 217.1L554.1 220.3L560.3 223.0L566.5 225.2L572.7 227.3L578.8 229.2L584.6 229.8L590.0 229.2L595.4 228.3L600.8 227.0L606.6 227.2L612.7 228.7L618.9 230.4L625.1 232.3L632.1 233.8L639.8 235.1L646.7 236.5L652.8 238.0L659.0 240.3L665.1 243.4L671.3 246.8L677.5 250.7L682.9 254.5L687.5 258.4L692.9 261.1L699.1 262.6L704.5 264.5L709.1 266.9L714.5 268.4L720.7 269.2L726.9 270.0L733.0 270.7L738.4 272.7L743.0 275.8L748.4 278.9L754.6 281.9L760.8 284.5L766.9 286.5L772.3 289.2L776.9 292.5L781.9 295.9L787.3 299.3L792.7 301.6L798.1 302.9L803.1 304.4L807.8 306.3L812.8 308.6L818.2 311.4L823.6 314.0L829.0 316.2L834.8 318.9L840.9 322.0L846.3 324.7L850.9 327.0L855.5 329.9L860.2 333.2L865.6 337.1L871.7 341.4L877.9 345.5L884.1 349.4L890.3 353.1L896.4 356.6L901.4 360.1L905.3 363.5L908.4 366.4L910.6 368.8L914.1 372.1L918.8 376.5L923.4 380.5L928.0 384.1L932.6 388.0L937.3 392.1L941.5 395.4L945.4 398.0L948.8 401.2L952.0 405.1L955.8 408.7L960.4 412.1L965.4 415.8L970.8 419.8L975.8 423.5L980.5 426.9L985.1 430.9L989.7 435.5L994.3 440.5L998.9 445.9L1003.2 450.5L1007.0 454.4L1011.3 457.9L1015.9 460.9L1020.1 464.1L1024.0 467.1L1027.5 470.6L1030.5 474.5L1034.4 478.5L1039.0 482.6L1043.6 486.2L1048.3 489.3L1052.9 492.3L1057.5 495.0L1062.5 497.5L1067.9 499.9L1073.3 501.6L1078.7 502.9L1084.1 503.9L1089.5 504.6L1095.3 505.8L1101.4 507.3L1107.2 508.9L1112.6 510.4L1117.6 512.3L1122.3 514.4L1126.7 516.8L1130.8 519.2L1132.9 520.5M491.0 161.1L494.0 165.4L492.5 170.3L488.8 168.4L487.3 164.8ZM34.9 194.0L37.5 196.3L42.8 201.0L48.5 206.0L54.7 211.4L60.1 216.8L64.7 222.2L69.3 226.1L73.9 228.3L78.5 231.8L83.2 236.5L87.8 241.1L92.5 245.7L97.9 249.2L104.0 251.4L109.4 253.0L114.0 253.8L119.4 255.2L125.6 257.2L131.8 257.8L137.9 257.0L144.1 256.2L150.2 255.3L157.2 254.7L164.9 254.3L171.9 254.6L178.0 255.3L184.2 254.9L190.3 253.4L197.2 251.4L205.0 249.2L212.7 247.2L220.3 245.7L228.1 245.5L235.8 246.8L242.8 247.6L248.9 247.8L255.8 247.8L263.5 247.3L271.2 246.7L279.0 245.9L285.9 246.0L292.1 246.9L298.3 248.3L304.4 250.2L309.8 249.5L314.5 246.5L320.7 243.8L328.3 241.5L335.3 239.5L341.4 238.0L347.6 236.4L353.7 234.9L359.9 232.9L366.1 230.7L371.5 228.9L376.1 227.6L380.7 228.0L385.4 230.0L389.6 231.4L393.5 232.2L396.5 231.0L398.9 228.0L402.3 226.0L406.9 225.3L411.5 223.4L416.2 220.2L420.8 217.4L425.5 214.8L430.9 213.0L437.0 212.1L443.2 211.8L449.3 212.3L455.5 213.7L461.7 216.0L467.9 218.7L474.0 221.8L480.2 224.9L486.3 227.9L492.5 231.1L498.7 234.1L504.9 237.2L511.0 240.3L517.2 242.6L523.3 244.1L529.5 245.7L535.7 247.2L541.9 249.6L548.0 252.6L554.2 255.7L560.3 258.8L566.5 261.5L572.7 263.8L578.9 265.8L585.0 267.2L591.2 268.8L597.3 270.3L603.5 271.9L609.7 273.4L615.9 274.8L622.0 275.8L629.0 276.1L636.6 275.4L643.6 276.0L649.7 277.9L655.9 280.4L662.1 283.4L667.5 286.6L672.1 289.6L676.7 293.1L681.4 297.0L686.0 300.8L690.6 304.7L694.4 307.8L697.6 310.0L701.4 311.0L706.0 310.8L710.6 311.3L715.3 312.7L719.9 314.4L724.5 316.4L729.1 317.0L733.8 316.2L738.4 316.2L743.0 317.0L748.4 318.5L754.6 320.9L760.8 323.9L766.9 327.8L772.3 331.2L776.9 334.3L781.5 336.5L786.2 337.7L790.8 339.5L795.5 341.8L800.1 343.7L804.7 345.0L809.3 346.9L813.9 349.2L818.5 352.2L823.2 355.7L827.8 359.3L832.5 362.8L836.5 366.0L839.8 368.6L843.7 371.3L848.0 373.9L852.9 376.2L858.3 378.2L863.3 381.4L867.9 385.7L872.5 390.0L877.2 394.1L881.8 398.1L886.4 402.0L890.6 405.8L894.5 409.7L898.7 413.7L903.4 417.8L908.0 421.9L912.6 426.0L917.6 429.7L923.0 433.1L928.0 436.7L932.7 440.6L936.9 444.6L940.8 448.7L944.2 452.6L947.3 456.1L951.1 459.4L955.8 462.5L960.4 465.6L965.0 468.6L969.2 471.8L973.1 474.8L977.0 478.7L980.8 483.3L984.3 487.5L987.4 491.4L990.8 495.2L994.7 499.1L998.5 502.9L1002.4 506.9L1006.6 511.0L1011.3 515.2L1015.9 519.1L1020.5 522.5L1025.9 525.7L1032.1 528.8L1038.3 531.8L1044.4 535.0L1049.5 537.4L1053.5 539.1L1057.7 541.0L1062.1 542.9L1067.2 544.9L1073.0 546.8L1079.3 548.8L1086.1 551.0L1091.9 553.1L1096.8 555.4L1101.6 558.0L1106.5 560.8L1111.8 563.8L1117.7 566.7L1123.6 569.7L1129.6 572.5L1132.6 574.0M34.9 278.2L38.3 278.8L45.1 279.8L51.6 281.2L57.7 282.7L63.9 284.8L70.1 287.4L76.3 290.1L82.4 292.8L88.6 295.4L94.7 297.7L100.9 299.7L107.1 301.2L113.3 302.4L119.4 303.1L125.6 303.1L131.7 302.4L137.9 301.6L144.1 300.8L150.3 300.8L156.4 301.6L162.6 302.4L168.7 303.1L174.9 303.6L181.1 304.0L187.3 302.8L193.4 300.2L198.8 297.9L203.5 295.9L208.1 296.3L212.7 299.0L218.1 301.3L224.2 303.2L230.4 303.2L236.6 301.3L242.8 298.7L248.9 295.3L255.1 293.4L261.2 292.9L267.4 293.2L273.6 294.3L279.8 295.5L285.9 296.7L292.1 297.7L298.2 298.5L304.4 300.2L310.6 302.8L316.0 303.2L320.6 301.3L326.0 299.2L332.1 297.0L339.1 295.4L346.8 294.6L353.8 294.6L359.9 295.4L366.1 294.7L372.2 292.3L378.4 289.6L384.6 286.6L389.6 284.4L393.5 283.1L396.5 281.6L398.9 279.7L403.1 278.1L409.2 276.6L415.4 275.2L421.6 273.9L427.8 272.5L433.9 271.0L440.1 269.9L446.2 269.3L452.4 268.8L458.6 268.2L464.8 269.2L470.9 271.5L477.1 273.8L483.2 276.2L489.4 278.1L495.6 279.6L501.0 281.5L505.6 283.9L511.0 286.6L517.1 289.6L523.3 292.3L529.5 294.7L535.7 297.0L541.8 299.2L548.0 301.5L554.1 303.9L560.3 306.2L566.5 308.5L572.7 310.5L578.8 312.0L585.0 313.6L591.1 315.1L597.3 317.0L603.5 319.3L609.7 321.6L615.8 324.0L622.0 326.2L628.1 328.5L634.3 330.2L640.5 331.3L646.7 332.9L652.8 334.9L659.0 336.7L665.1 338.2L671.3 339.8L677.5 341.2L683.7 342.4L689.8 343.2L696.0 344.2L702.1 345.4L708.3 347.7L714.5 351.1L720.7 354.0L726.8 356.3L733.0 358.2L739.1 359.8L745.3 361.7L751.5 364.0L755.0 366.4L755.7 368.8L759.6 370.9L766.5 372.8L772.7 374.3L778.1 375.6L783.1 377.7L787.7 380.8L792.0 383.9L795.8 386.9L800.1 389.6L804.7 392.0L809.3 395.0L813.9 398.9L819.3 403.0L825.5 407.3L831.3 410.6L836.7 412.7L840.9 415.2L844.0 417.9L847.8 420.9L852.5 423.9L857.1 427.4L861.7 431.3L866.3 435.0L871.0 438.5L876.0 441.6L881.4 444.2L886.4 446.5L891.0 448.6L895.2 450.9L899.1 453.5L903.0 456.6L906.8 460.1L910.7 463.6L914.6 467.0L918.4 470.4L922.3 473.7L926.1 477.4L930.0 481.5L933.8 485.6L937.7 489.7L941.5 494.1L945.4 498.7L949.2 503.1L953.1 507.3L956.9 511.4L960.8 515.4L964.6 519.1L968.5 522.5L972.7 525.7L977.4 528.8L982.0 532.5L986.6 536.8L991.2 541.5L995.9 546.3L1000.5 550.7L1005.1 554.6L1009.7 558.6L1014.4 562.8L1019.0 566.7L1023.6 570.2L1028.2 574.1L1032.9 578.2L1037.5 582.1L1042.1 585.6L1046.5 588.3L1050.5 590.0L1055.5 592.5L1061.4 595.7L1067.2 598.5L1073.0 600.9L1079.8 603.3L1087.6 605.8L1095.4 608.0L1103.1 609.9L1110.4 611.7L1117.2 613.4L1123.6 615.1L1129.6 616.8L1132.6 617.7M338.8 356.7L340.5 356.0L342.0 356.3L343.3 357.7L344.2 359.3L344.5 361.3L344.3 363.3L343.7 365.3L342.8 366.8L341.8 367.8L340.7 367.8L339.3 366.8L338.3 365.2L337.7 362.8L337.5 360.5L337.8 358.2ZM34.9 329.7L37.5 329.7L42.8 329.7L48.5 330.5L54.7 332.0L60.1 334.4L64.7 337.4L69.3 340.9L73.9 344.8L78.5 348.2L83.2 351.3L87.8 353.6L92.5 355.1L97.9 356.5L104.0 357.8L110.9 358.5L118.7 358.9L125.6 359.8L131.7 361.3L137.1 363.0L141.8 364.9L146.4 364.5L151.0 361.8L156.4 361.3L162.6 362.8L168.0 363.2L172.6 362.5L177.2 361.2L181.9 359.3L187.3 358.5L193.4 358.9L198.8 356.7L203.5 352.1L208.1 348.2L212.7 345.2L218.1 342.7L224.2 340.8L230.4 339.7L236.6 339.2L242.8 339.4L248.9 340.1L255.1 340.4L261.2 340.0L267.4 339.3L273.6 338.0L279.0 337.2L283.6 337.0L289.0 337.7L295.1 339.6L301.3 341.6L307.5 344.0L312.5 346.3L316.1 348.5L319.2 352.0L321.5 356.7L324.2 361.2L327.2 365.5L330.3 368.6L333.7 370.4L336.7 372.0L339.3 373.3L342.3 373.5L345.7 372.5L349.0 371.8L352.3 371.5L355.7 371.2L359.0 370.8L362.0 370.2L364.7 369.2L367.3 368.0L370.0 366.7L372.7 365.5L375.3 364.5L378.0 363.8L380.7 363.2L383.0 362.1L385.0 360.2L386.8 358.0L388.5 355.3L390.0 352.7L391.3 350.0L392.5 347.3L393.5 344.7L394.5 342.2L395.5 339.8L396.7 337.8L398.0 336.2L399.8 334.7L402.2 333.3L404.7 331.8L407.3 330.2L409.7 328.5L411.7 326.8L413.7 325.7L415.7 325.2L418.0 325.8L420.7 327.8L423.7 329.0L427.0 329.7L430.7 329.3L434.7 328.0L438.3 326.3L441.7 324.3L444.3 322.5L446.3 320.8L448.3 320.5L450.3 321.5L453.0 323.3L456.3 326.0L459.3 328.3L462.0 330.3L464.7 332.2L467.3 333.8L470.0 334.2L472.7 333.2L475.3 332.8L478.0 333.2L480.7 334.0L483.3 335.3L486.0 335.8L488.7 335.5L492.9 334.3L498.9 332.2L504.1 331.8L508.7 333.1L514.1 334.8L520.2 336.9L526.4 339.0L532.6 341.0L538.8 343.2L544.9 345.5L551.1 347.8L557.2 350.2L563.4 352.5L569.6 354.7L575.8 357.4L581.9 360.6L588.1 363.6L594.2 366.7L598.5 368.6L600.8 369.6L604.7 371.1L610.1 373.5L615.9 375.6L622.0 377.6L628.2 379.5L634.3 381.4L640.5 383.2L646.7 385.1L652.9 387.0L659.0 389.0L665.2 390.8L671.3 392.3L677.5 394.1L683.7 396.1L689.9 398.0L696.0 399.9L701.4 400.8L706.0 400.8L710.6 401.1L715.3 401.6L719.2 403.1L722.2 405.7L726.1 408.4L730.7 411.2L735.3 413.5L739.9 415.3L744.5 416.6L749.2 417.4L753.8 419.1L758.5 421.7L763.1 424.8L767.7 428.3L772.3 431.3L776.9 433.6L781.9 436.0L787.3 438.2L793.1 440.5L799.3 442.9L805.5 445.1L811.6 447.5L817.8 450.2L823.9 453.2L828.5 456.0L831.7 458.2L835.9 460.8L841.3 463.6L846.7 466.5L852.1 469.6L857.5 472.8L862.9 476.2L868.3 480.1L873.7 484.4L879.1 488.4L884.5 492.1L889.1 495.3L893.0 498.1L895.3 501.4L896.0 505.3L896.8 509.0L897.6 512.5L899.5 514.1L902.6 513.9L905.7 514.0L908.7 514.6L911.3 516.3L913.3 519.1L915.1 522.2L916.6 525.5L919.5 528.9L923.6 532.3L928.0 535.9L932.7 539.8L937.3 543.7L941.9 547.5L946.9 551.6L952.3 556.0L957.3 560.0L961.9 563.9L965.9 567.6L969.3 571.1L972.2 575.4L974.8 580.3L977.5 584.5L980.6 587.8L984.2 591.0L988.4 594.2L992.8 597.7L997.4 601.7L1002.0 605.6L1006.7 609.2L1011.2 612.8L1015.5 616.1L1021.1 619.1L1027.9 621.8L1035.2 623.9L1042.9 625.6L1050.2 627.6L1057.0 630.1L1064.3 632.8L1072.0 635.7L1078.8 637.8L1084.7 639.3L1091.0 640.4L1097.8 641.0L1104.1 641.5L1109.9 641.8L1114.8 642.6L1118.6 644.1L1122.0 645.8L1125.0 647.8L1128.0 650.4L1131.0 653.8L1132.6 655.5M34.9 375.6L37.5 376.4L42.8 377.9L48.5 380.3L54.7 383.7L60.9 386.8L67.0 389.6L73.2 391.5L79.3 392.6L85.5 394.3L91.7 396.6L97.9 399.0L104.0 401.2L110.2 403.2L116.3 404.7L122.5 405.9L128.7 406.6L134.9 407.1L141.0 407.5L147.2 407.5L153.3 407.1L158.7 406.4L163.4 405.1L168.0 404.0L172.6 402.9L178.0 402.1L184.1 401.6L190.3 401.2L196.5 401.0L202.7 400.7L208.8 400.3L215.0 399.8L221.1 398.8L227.3 397.8L233.5 396.8L239.7 395.4L245.8 393.9L252.0 392.7L258.1 392.0L264.3 391.8L270.5 392.0L276.7 392.8L282.8 394.1L289.0 395.6L295.1 397.5L301.3 399.6L307.5 402.1L313.7 404.2L319.8 406.1L326.0 407.6L332.1 408.9L338.3 409.6L344.5 410.0L350.7 409.7L356.8 408.9L362.2 407.0L366.9 403.9L371.5 401.4L376.1 399.4L380.7 397.8L385.4 396.8L389.6 396.4L393.5 396.9L396.5 397.7L398.9 398.8L401.6 401.1L404.6 404.6L407.7 406.5L410.8 406.9L413.5 405.1L415.8 401.2L418.5 397.4L421.6 393.5L424.7 389.7L427.8 385.8L430.9 382.1L433.9 378.6L437.0 375.7L440.1 373.6L443.5 373.3L447.4 374.8L452.4 376.1L458.6 377.2L464.8 377.9L470.9 378.4L477.1 379.2L483.2 380.2L489.4 381.6L495.6 383.1L501.0 385.0L505.6 387.4L511.0 389.6L517.1 392.0L523.3 394.7L529.5 397.8L535.7 400.6L541.8 403.2L548.0 405.5L554.1 407.5L560.3 409.3L566.5 410.8L572.7 412.6L578.8 414.6L585.0 416.5L591.1 418.4L597.3 420.2L603.5 422.1L609.7 424.0L615.8 426.0L622.0 427.8L628.1 429.3L634.3 431.1L640.5 433.1L646.7 435.2L652.8 437.3L659.0 439.4L665.1 441.5L671.3 443.6L677.5 446.0L683.7 447.7L689.8 449.0L696.0 449.9L702.1 450.5L708.3 451.8L714.5 453.8L719.9 456.0L724.5 458.2L729.1 460.2L733.8 461.7L738.4 463.9L743.0 466.7L747.6 469.8L752.3 473.1L756.5 476.0L760.4 478.3L764.2 480.6L768.1 483.0L772.3 485.3L776.9 487.5L781.5 490.6L786.2 494.5L791.2 497.8L796.6 500.6L802.0 502.9L807.4 504.8L813.2 506.6L819.3 508.5L825.5 510.0L831.7 511.2L836.7 512.0L840.6 512.3L844.8 514.2L849.4 517.8L854.4 521.6L859.8 525.8L865.2 529.9L870.6 533.9L875.6 537.2L880.2 539.8L884.4 542.7L888.3 545.8L891.8 549.2L894.8 553.1L898.3 557.3L902.2 561.9L906.0 566.2L909.9 570.0L914.1 574.7L918.8 580.1L923.4 585.1L928.0 589.7L932.7 594.8L937.6 600.3L941.5 604.1L944.3 606.0L947.3 608.7L950.2 612.1L953.6 615.2L957.5 618.2L961.3 621.1L965.3 623.9L969.2 626.6L973.0 629.1L977.4 631.1L982.3 632.8L986.6 635.0L990.5 637.6L995.3 640.5L1001.2 643.4L1005.6 646.8L1008.4 650.7L1012.1 654.6L1016.4 658.4L1020.3 660.0L1023.7 659.2L1027.4 658.8L1031.2 658.8L1035.2 659.4L1039.0 660.8L1042.9 662.6L1046.8 665.0L1050.4 667.4L1053.8 669.9L1057.7 671.8L1062.1 673.3L1066.7 675.4L1071.6 678.0L1076.2 680.0L1080.5 681.1L1084.9 683.2L1089.3 686.1L1093.4 689.1L1097.3 691.9L1101.6 694.5L1106.5 696.6L1111.3 699.3L1116.2 702.5L1120.3 703.3L1123.7 701.6L1127.2 700.6L1130.8 700.4L1132.6 700.2M627.2 489.6L630.0 496.4L625.1 497.0ZM34.9 419.9L38.3 420.1L45.1 420.6L51.6 421.1L57.7 421.6L63.9 422.1L70.1 422.7L76.3 423.6L82.4 424.9L88.6 426.4L94.7 428.3L100.1 430.6L104.8 433.4L109.4 436.2L114.0 438.9L118.6 441.2L123.3 443.1L128.7 444.8L134.8 446.3L141.0 447.5L147.1 448.2L153.3 448.9L159.5 449.4L165.7 449.9L171.8 450.5L178.0 451.2L184.1 452.2L190.3 452.8L196.5 453.0L202.7 452.6L208.8 451.4L215.0 450.2L221.1 449.2L227.3 448.1L233.5 447.0L239.7 446.0L245.8 445.1L252.0 444.3L258.1 443.7L264.3 443.2L270.5 442.7L276.7 442.7L282.8 443.2L289.0 443.9L295.1 445.0L301.3 445.9L307.5 446.7L313.7 447.7L319.8 449.0L326.0 449.4L332.1 448.9L338.3 448.1L344.5 447.0L350.7 445.9L356.8 444.6L363.0 443.4L369.1 442.1L375.3 441.2L381.5 440.6L386.5 440.9L390.4 441.9L394.2 443.6L398.1 446.0L402.3 447.5L406.9 448.2L411.1 447.8L415.1 446.3L417.8 443.2L419.2 438.6L421.6 434.4L424.6 430.5L428.1 427.2L432.0 424.4L436.2 422.2L440.9 420.7L446.3 419.9L452.4 419.9L458.6 420.4L464.7 421.3L470.9 422.7L477.1 424.6L482.5 427.1L487.1 430.1L491.7 432.3L496.4 433.5L501.0 434.4L505.6 435.1L509.8 435.8L513.7 436.8L517.2 438.3L520.2 440.4L523.7 442.5L527.6 444.5L532.6 445.5L538.7 445.5L544.9 445.9L551.1 446.7L557.3 448.0L563.4 449.9L569.6 451.8L575.7 453.8L581.9 456.0L588.1 458.2L593.5 459.8L598.1 460.6L601.9 462.1L605.1 464.5L607.8 467.5L610.1 471.4L612.0 475.2L613.5 479.1L613.9 482.9L613.2 486.8L611.2 489.8L608.2 492.2L605.1 494.5L601.9 496.8L598.5 498.8L594.6 500.2L591.2 502.2L588.0 504.5L586.1 507.1L585.4 509.8L586.1 512.1L588.5 514.0L591.5 514.9L595.4 514.9L598.8 513.8L602.0 511.5L604.6 509.2L607.0 506.8L609.3 504.3L611.6 501.5L614.3 498.8L617.4 496.2L619.0 496.8L619.4 500.7L620.9 504.2L623.7 507.2L627.4 509.6L632.0 511.1L636.6 511.1L641.3 509.6L645.9 507.6L650.5 505.3L655.1 503.3L659.8 501.8L664.4 500.8L669.0 500.3L673.6 500.7L678.3 502.0L682.9 503.4L687.5 504.9L692.9 506.5L699.1 508.0L705.3 509.2L711.4 509.9L717.6 511.9L723.7 515.0L729.1 518.0L733.8 521.1L738.4 524.5L743.0 528.4L747.6 532.2L752.3 536.1L756.5 539.2L760.4 541.5L764.2 545.0L768.1 549.6L772.7 552.7L778.1 554.2L783.5 555.9L788.9 557.8L794.7 559.5L800.8 561.0L807.0 562.2L813.1 563.2L818.5 564.9L823.2 567.6L827.8 569.7L832.5 571.2L837.1 574.7L841.7 580.1L846.3 585.5L850.9 590.8L855.5 595.4L860.2 599.3L864.8 603.2L869.5 607.0L873.7 610.9L877.6 614.8L881.4 618.4L885.3 621.8L889.5 625.0L894.1 628.1L898.7 630.8L903.4 633.3L908.4 635.4L913.8 637.3L918.4 638.7L922.3 639.5L926.5 641.7L931.1 645.1L935.0 649.2L938.4 654.1L942.0 658.2L945.8 661.6L949.7 665.0L953.6 668.4L957.5 671.6L961.3 674.4L964.7 677.8L967.7 681.8L970.6 685.2L973.5 688.0L976.9 690.2L980.8 691.7L985.1 693.4L990.0 695.3L994.8 697.3L999.7 699.2L1004.5 700.9L1009.4 702.4L1013.7 703.2L1017.7 703.4L1021.6 704.9L1025.5 707.5L1029.3 710.6L1033.2 714.0L1033.6 714.7L1030.5 712.5L1031.3 713.5L1035.9 717.5L1040.5 721.2L1045.2 724.6L1049.8 727.7L1054.5 730.5L1059.1 733.4L1063.7 736.5L1068.3 739.0L1072.9 740.8L1077.5 741.2L1082.2 739.9L1086.8 739.7L1091.5 740.7L1096.1 741.9L1100.7 743.4L1105.3 745.5L1109.9 748.2L1114.5 750.5L1119.2 752.5L1124.3 753.8L1130.1 754.4L1132.9 754.7M34.9 456.9L37.5 456.7L42.8 456.5L48.5 455.9L54.7 455.2L60.9 454.8L67.0 454.8L73.2 455.3L79.3 456.4L84.7 457.9L89.4 460.0L92.9 462.9L95.1 466.8L97.8 471.0L101.0 475.6L104.4 480.1L108.3 484.4L112.5 487.4L117.1 488.9L121.7 490.5L126.4 492.4L131.0 494.7L135.6 497.5L140.2 499.7L144.9 501.2L150.3 502.1L156.4 502.5L162.6 503.0L168.7 503.7L174.9 504.5L181.1 505.3L187.3 505.3L193.4 504.5L199.6 503.9L205.7 503.4L211.9 503.4L218.1 503.9L223.5 504.9L228.1 506.4L232.7 509.0L237.4 512.5L242.0 516.0L246.6 519.4L251.2 522.5L255.9 525.2L260.5 527.2L265.1 528.2L269.7 528.4L274.4 527.6L279.8 526.1L285.9 523.8L292.1 521.1L298.2 518.0L304.4 515.0L310.6 511.9L316.8 508.8L322.9 505.7L329.1 503.0L335.2 500.6L341.4 498.7L347.6 497.2L353.8 495.6L359.9 494.1L366.1 492.5L372.2 491.0L378.4 489.3L384.6 487.5L390.8 485.4L396.9 482.9L403.1 481.1L409.2 480.0L415.4 479.2L421.6 478.8L427.8 478.8L433.9 479.2L440.1 479.7L446.2 480.2L452.4 481.7L458.6 484.3L464.8 487.2L470.9 490.2L477.1 493.1L483.2 495.7L489.4 498.2L495.6 500.8L501.8 502.9L507.9 504.8L514.1 506.5L520.2 508.0L526.4 509.7L532.6 511.6L538.8 513.7L544.9 516.2L550.3 519.1L554.9 522.5L559.5 525.6L564.2 528.3L568.8 530.6L573.5 532.5L578.1 534.0L582.7 535.3L585.9 535.9L587.8 535.9L590.6 535.3L594.2 534.2L595.5 533.0L594.2 531.7L592.3 530.4L589.7 529.1L588.9 527.9L590.0 526.6L591.9 526.1L594.7 526.5L596.8 527.7L598.2 529.9L599.4 532.4L600.5 535.1L602.4 537.6L605.2 540.0L608.9 542.3L613.5 544.6L618.9 547.2L625.1 549.9L631.3 552.6L637.4 555.2L643.6 557.5L649.7 559.5L655.9 561.6L662.1 563.8L668.3 566.1L674.4 568.6L680.6 570.9L686.7 573.0L692.9 575.5L699.1 578.3L705.3 581.2L711.4 584.3L717.6 587.3L723.7 590.5L729.9 593.9L736.1 597.8L741.5 601.2L746.1 604.3L750.7 607.8L755.4 611.7L760.8 615.9L766.9 620.5L772.3 624.3L776.9 627.5L781.5 630.7L786.2 634.1L791.2 636.8L796.6 639.0L802.0 640.9L807.4 642.8L813.2 644.9L819.3 647.4L825.5 649.2L831.7 650.2L837.9 652.3L844.0 655.5L849.4 659.3L854.0 663.9L858.6 668.5L863.3 673.2L867.9 679.4L872.5 687.0L876.7 693.6L880.6 699.0L884.8 703.6L889.5 707.5L893.7 710.5L897.6 712.9L901.4 712.6L905.3 709.9L908.8 707.2L911.8 704.5L915.3 704.0L919.2 705.5L923.0 708.2L926.9 712.1L930.3 716.7L933.5 722.1L936.1 728.3L938.5 735.2L941.2 741.0L944.2 745.6L948.1 749.8L952.7 753.7L957.3 756.9L961.9 759.6L966.5 762.1L971.2 764.6L975.8 765.8L980.5 765.8L985.1 765.6L989.7 765.1L994.3 765.9L998.9 767.9L1004.3 770.0L1010.5 772.1L1016.7 774.4L1022.8 776.9L1028.2 778.7L1032.9 779.7L1037.1 779.3L1041.0 777.3L1044.1 775.0L1046.3 772.3L1048.1 774.5L1049.4 781.4L1051.3 785.3L1053.9 786.1L1057.1 785.5L1061.0 783.5L1064.8 782.0L1068.7 780.8L1071.8 781.8L1074.1 785.0L1076.4 788.2L1078.7 791.8L1081.8 793.0L1085.7 792.2L1089.5 790.9L1093.4 789.4L1098.0 788.6L1103.4 788.6L1109.2 789.2L1115.3 790.5L1120.7 791.9L1125.4 793.4L1129.0 794.2L1131.6 794.2L1132.9 794.2M1083.9 772.6L1089.7 777.8L1084.5 784.0L1078.3 778.1ZM34.9 486.6L37.5 486.8L42.8 487.0L48.5 487.3L54.7 487.7L60.9 488.0L67.0 488.5L72.0 489.8L75.9 492.2L78.6 495.6L80.1 500.3L81.7 504.9L83.2 509.5L85.2 513.7L87.4 517.6L90.1 521.0L93.2 524.2L97.1 527.6L101.7 531.5L105.9 535.3L109.8 539.2L113.6 542.7L117.5 545.8L121.0 548.8L124.0 552.0L127.1 554.8L130.2 557.4L133.3 559.3L136.4 560.6L140.2 560.0L144.9 557.7L149.5 555.5L154.1 553.5L158.7 552.4L163.4 552.0L168.0 552.7L172.6 554.2L176.8 556.5L180.7 559.7L184.5 563.5L188.4 568.1L191.9 572.8L195.1 577.6L197.7 581.5L199.8 584.7L202.1 587.8L204.7 590.9L206.8 594.1L208.4 597.2L209.4 600.9L209.9 605.0L211.0 608.9L212.5 612.6L214.9 615.4L218.0 617.5L221.1 618.8L224.3 619.3L227.4 618.8L230.5 617.3L233.6 614.9L236.8 611.8L239.9 608.7L243.0 605.5L246.1 603.0L249.3 600.8L252.9 599.3L257.1 598.2L261.3 597.5L265.4 597.0L269.1 595.9L272.2 594.3L275.4 592.5L278.4 590.4L281.1 588.9L283.5 587.8L287.2 586.5L292.4 585.0L297.6 583.6L302.8 582.3L307.5 581.2L311.6 580.2L316.8 577.8L322.9 573.9L329.1 570.5L335.2 567.3L340.6 564.8L345.3 562.8L349.9 561.5L354.5 560.8L359.1 561.4L363.8 563.3L369.2 564.6L375.3 565.4L381.5 565.0L387.7 563.5L393.1 561.2L397.7 558.0L402.3 555.5L406.9 553.5L411.5 552.4L416.2 552.0L421.6 552.5L427.7 553.8L433.9 554.9L440.1 556.0L446.3 556.5L452.4 556.5L458.6 555.8L464.7 554.2L470.9 552.5L477.1 550.5L482.5 549.2L487.1 548.5L492.5 549.0L498.7 550.5L504.9 552.6L511.0 555.2L517.2 557.8L523.3 560.5L529.5 563.2L535.7 565.9L541.9 569.0L548.0 572.4L557.8 575.6L571.1 578.5L579.5 581.0L583.2 583.2L587.1 585.8L591.2 588.8L595.4 591.7L599.6 594.3L603.8 596.7L607.9 598.8L612.1 601.1L616.2 603.7L620.4 606.5L624.6 609.3L628.8 612.0L632.9 614.5L637.1 616.8L641.2 619.0L645.4 620.3L649.6 620.9L653.2 621.6L656.3 622.3L659.5 624.0L662.6 626.6L665.8 629.7L668.8 633.4L672.0 637.0L675.1 640.7L678.8 643.8L682.9 646.4L687.1 648.8L691.2 650.8L695.4 652.7L699.6 654.2L703.8 655.8L707.9 657.3L711.3 659.4L713.9 662.0L716.3 664.9L718.3 668.0L720.4 671.1L722.5 673.9L724.8 676.3L727.5 678.1L730.3 679.5L733.5 680.5L736.5 681.4L739.7 682.1L742.8 682.0L745.9 680.9L748.8 680.5L751.4 680.9L753.8 682.3L755.8 684.9L757.1 688.0L757.6 691.7L757.4 695.3L756.3 699.0L755.3 702.6L754.3 706.3L753.5 709.9L753.0 713.6L752.7 716.5L752.5 718.9L751.9 721.7L750.6 725.0L749.2 728.4L747.5 731.6L745.0 735.0L741.7 738.3L738.5 741.7L735.7 745.0L733.0 748.4L730.5 751.6L728.6 754.8L727.3 757.7L727.3 760.7L728.6 763.5L730.2 766.2L732.3 768.8L734.5 771.7L737.0 775.0L739.5 778.0L742.0 780.5L745.0 782.5L748.3 784.2L751.7 785.2L755.0 785.6L758.0 785.4L760.5 784.6L762.3 783.2L763.6 781.0L764.4 778.3L764.8 775.0L765.4 772.0L766.3 769.5L768.0 767.3L770.5 765.2L773.4 763.6L776.6 762.3L780.0 761.6L783.3 761.4L786.7 761.8L790.0 762.8L793.4 764.3L796.6 766.5L800.0 769.0L803.3 771.8L806.7 774.8L810.0 777.7L813.2 780.7L816.0 783.5L818.5 786.5L820.7 789.3L822.1 792.3L822.9 795.2L823.3 798.2L823.3 801.0L823.9 804.0L825.2 806.8L826.6 809.8L828.4 812.7L830.2 815.5L832.3 818.0L834.5 820.0L837.0 821.7L840.0 822.9L843.3 823.8L846.7 824.8L850.0 826.1L853.4 827.5L856.6 829.2L860.0 831.2L863.3 833.8L866.5 835.6L869.3 836.9L872.3 837.3L875.2 836.9L878.4 836.3L881.6 835.4L886.6 835.2L893.1 835.6L898.7 837.3L903.4 840.5L908.0 842.8L912.6 844.2L917.2 843.9L921.9 841.5L926.5 839.6L931.1 838.1L935.7 837.5L940.4 837.8L945.8 837.5L951.9 836.3L957.3 835.8L961.9 835.8L965.4 833.5L967.7 828.8L970.8 826.5L974.7 826.5L978.2 826.9L981.2 827.7L983.5 830.0L985.0 833.9L988.1 837.7L992.8 841.6L997.4 845.4L1002.0 849.3L1006.6 852.0L1011.3 853.5L1015.9 853.5L1020.5 852.0L1025.9 851.6L1032.1 852.4L1038.3 852.8L1044.4 852.8L1050.6 853.5L1056.7 855.0L1062.9 855.8L1069.1 855.8L1074.5 856.2L1079.1 857.0L1083.0 858.2L1086.0 859.7L1089.9 859.3L1094.5 857.0L1099.1 854.6L1103.8 852.4L1108.0 849.9L1111.9 847.3L1114.9 844.5L1117.2 841.3L1120.0 840.7L1123.0 842.6L1126.7 844.4L1130.8 846.3L1132.9 847.2M668.3 598.3L672.5 602.5L668.8 606.7L664.2 602.1ZM35.0 590.0L36.9 589.9L40.6 589.5L44.6 590.2L48.7 591.7L52.9 594.1L57.1 597.2L61.0 600.6L64.7 604.2L67.5 607.8L69.6 611.5L70.9 614.9L71.4 618.0L72.5 620.9L74.0 623.5L76.6 625.8L80.3 628.0L83.6 630.3L86.8 632.9L89.3 635.2L91.5 637.3L93.5 637.8L95.7 636.7L98.0 634.9L100.6 632.3L103.2 630.1L105.8 628.4L108.4 627.2L111.0 626.5L112.8 627.2L113.9 629.0L114.1 631.3L113.6 633.9L113.0 636.5L112.5 639.1L113.6 641.2L116.2 642.7L119.1 644.3L122.2 645.9L125.9 648.0L130.0 650.6L134.2 652.6L138.3 653.9L142.5 654.7L146.7 654.9L149.8 654.0L151.9 651.8L153.2 648.7L153.7 644.6L153.5 640.4L152.4 636.3L151.1 632.1L149.6 627.9L148.0 623.7L146.4 619.6L145.3 615.9L144.8 612.8L145.1 609.9L146.2 607.3L148.0 605.2L150.6 603.7L153.5 602.9L156.5 602.9L159.7 603.7L162.8 605.2L165.2 607.3L166.7 609.9L168.0 613.0L169.1 616.7L169.7 620.9L169.9 625.5L170.0 630.5L170.0 635.7L170.4 640.4L171.3 644.6L172.5 648.8L174.0 652.9L175.6 656.8L177.1 660.5L179.5 663.6L182.6 666.2L185.7 668.5L188.9 670.7L192.0 673.0L195.1 675.6L197.7 678.2L199.8 680.8L202.4 683.4L205.5 686.0L208.6 688.1L211.8 689.6L215.4 690.5L219.6 690.7L223.8 690.7L227.9 690.5L232.1 689.9L236.2 688.8L239.9 687.3L243.0 685.2L246.1 682.9L249.3 680.3L252.4 678.0L255.5 675.8L258.7 673.8L261.8 671.7L264.9 669.1L268.0 665.9L271.2 662.8L274.5 659.7L277.8 657.1L280.9 655.0L284.6 653.5L288.7 652.4L292.9 651.6L297.1 651.1L301.3 650.5L305.4 650.0L309.1 650.3L312.2 651.4L315.9 652.1L320.0 652.6L324.2 652.5L328.3 651.6L332.0 650.6L335.1 649.4L338.2 647.8L341.3 645.7L344.5 643.7L347.6 641.8L351.3 640.3L355.4 639.3L359.6 638.3L363.7 637.2L367.9 636.0L372.1 634.5L376.3 634.0L380.4 634.4L384.6 634.4L388.7 634.0L392.9 632.8L397.1 631.0L401.3 629.8L405.4 629.2L409.1 629.2L412.2 629.8L415.9 629.5L420.0 628.4L424.2 626.9L428.3 624.8L432.5 623.0L436.7 621.4L440.9 620.1L445.0 619.0L449.7 618.2L454.9 617.8L460.1 617.5L465.3 617.5L470.0 618.0L474.1 619.1L478.3 620.4L482.5 621.9L487.2 623.5L492.4 625.0L497.1 626.6L501.2 628.2L505.4 629.5L509.6 630.5L511.3 630.8L510.4 630.2L511.6 630.5L514.7 631.6L517.8 633.4L520.9 636.0L524.6 638.6L528.7 641.2L532.9 643.5L537.1 645.7L541.3 648.0L545.4 650.6L549.6 652.4L553.7 653.5L557.9 654.5L562.1 655.5L566.3 657.0L570.4 659.2L574.1 661.5L577.2 664.1L579.0 666.2L579.5 667.7L578.8 669.5L576.7 671.7L574.8 674.0L573.3 676.6L572.8 679.2L573.2 681.8L574.8 684.4L577.5 687.0L580.3 689.9L583.5 693.0L586.5 696.2L589.7 699.2L592.8 702.4L595.9 705.5L598.5 708.4L600.7 711.0L602.5 713.6L604.0 716.2L605.3 719.1L606.4 722.2L606.6 722.8L605.9 721.0L606.1 721.2L607.0 723.8L608.1 726.2L609.4 728.8L611.0 731.2L612.8 733.8L614.7 736.2L616.6 738.8L618.8 741.1L621.2 743.3L623.8 745.0L626.2 746.3L628.8 746.9L631.2 746.9L633.8 746.3L636.2 745.0L638.8 744.1L641.2 743.4L643.8 743.4L646.2 744.1L648.8 746.9L651.4 752.1L653.5 756.7L655.0 760.8L656.8 765.0L659.0 769.1L661.5 772.8L664.7 775.9L668.3 778.5L672.5 780.7L676.7 782.2L680.8 783.3L684.7 783.9L688.2 784.1L691.7 784.0L695.0 783.5L698.0 782.5L700.5 780.8L703.0 779.2L705.5 777.5L708.4 776.2L711.6 775.2L715.0 775.2L718.3 776.2L721.2 778.0L723.8 780.5L726.2 783.4L728.8 786.6L731.2 790.0L733.8 793.3L736.2 796.2L738.8 798.8L740.8 801.2L742.5 803.8L743.3 806.7L743.3 810.0L743.7 813.2L744.6 816.0L746.2 818.1L748.8 819.4L751.7 820.2L755.0 820.6L758.8 820.7L762.9 820.4L767.1 820.4L771.2 820.7L775.0 821.4L778.3 822.7L781.2 823.7L783.8 824.6L786.2 824.4L788.8 823.1L791.2 822.5L793.8 822.5L795.8 823.5L797.5 825.7L799.5 828.4L802.0 831.6L804.5 834.8L807.0 837.7L809.5 840.7L812.0 843.5L815.0 846.5L818.3 849.3L821.7 852.0L825.0 854.5L828.0 856.8L830.5 859.0L833.0 860.8L835.5 862.5L838.4 862.9L841.6 862.1L845.0 861.4L848.3 860.6L850.6 861.0L851.9 862.5L853.5 866.8L855.3 873.9L858.6 879.3L863.3 883.2L867.9 886.7L872.5 889.7L877.1 892.8L881.8 896.0L886.4 898.5L891.0 900.5L893.3 901.5M798.5 787.2L800.7 789.1L802.1 791.0L802.9 793.2L802.7 795.5L801.4 798.0L800.0 800.2L798.3 802.3L796.7 802.3L795.0 800.2L793.5 798.0L792.0 795.5L791.8 793.0L792.8 790.5L794.3 788.5L796.5 787.0ZM551.4 748.3L553.0 746.1L555.0 744.7L557.5 744.1L560.0 744.1L562.5 744.7L564.7 746.0L566.6 747.8L568.4 749.7L570.3 751.6L572.3 753.3L574.5 754.8L576.2 756.7L577.5 758.9L578.0 761.5L577.6 764.7L577.0 767.8L576.1 770.9L574.8 774.1L573.3 777.2L571.9 779.7L570.6 781.6L569.5 781.6L568.6 779.7L567.8 777.5L567.2 775.0L566.4 772.8L565.5 771.0L564.0 769.9L562.2 769.5L560.3 769.8L558.4 770.8L556.7 770.9L555.2 770.3L554.1 768.8L553.4 766.2L552.8 763.5L552.2 760.3L551.4 757.5L550.5 755.0L550.1 752.7L550.5 750.5ZM1100.0 903.0L1108.0 901.0L1118.0 899.9L1127.0 899.3L1136.0 899.0L1136.0 903.0ZM35.0 649.8L36.4 650.8L39.0 653.0L42.0 655.3L45.1 657.9L48.3 660.2L51.3 662.3L55.0 664.2L59.1 666.2L63.3 667.6L67.5 668.7L71.4 669.2L75.1 669.2L78.2 668.5L80.8 667.2L83.6 665.7L86.8 664.1L90.4 663.3L94.6 663.3L98.8 662.5L102.9 661.0L107.1 659.9L111.2 659.1L115.4 659.1L119.6 659.9L123.2 661.0L126.4 662.5L129.5 664.1L132.6 665.7L135.8 666.8L138.9 667.2L142.0 668.5L145.1 670.7L148.2 672.0L151.4 672.5L154.0 671.4L156.0 668.8L157.9 665.9L159.4 662.8L161.0 661.0L162.5 660.5L164.4 661.0L166.4 662.5L168.6 664.6L170.6 667.2L172.7 670.1L174.8 673.2L177.1 676.1L179.7 678.7L182.3 681.0L184.9 683.2L187.5 685.2L190.2 687.3L192.8 689.9L195.4 693.0L197.9 695.5L200.4 697.4L202.7 700.4L204.8 704.6L206.1 708.4L206.7 711.6L206.3 714.5L204.9 717.0L203.3 719.3L201.7 721.5L201.0 724.0L201.5 726.8L202.5 729.8L204.2 732.7L206.2 735.5L208.8 738.0L211.7 740.2L215.0 742.0L218.3 743.5L221.7 744.5L225.4 745.3L229.6 746.0L233.8 746.6L237.9 747.2L241.9 748.2L245.6 749.6L249.2 751.7L252.5 754.4L255.0 757.3L256.7 760.2L257.3 763.4L256.9 766.6L256.3 770.0L255.4 773.3L254.8 776.7L254.4 780.0L254.6 783.0L255.4 785.5L256.9 787.7L258.9 789.8L261.7 791.6L265.0 793.4L268.3 795.2L271.7 797.3L275.0 799.8L278.3 802.7L281.4 805.7L284.4 808.5L287.3 811.2L290.2 813.8L292.9 815.8L295.4 817.5L297.5 818.5L299.2 819.0L300.2 817.7L300.6 814.8L300.6 811.6L300.2 808.4L299.8 804.6L299.4 800.4L299.4 796.2L299.8 792.1L300.4 787.9L301.3 783.8L302.1 779.6L302.9 775.4L303.0 771.2L302.3 767.1L301.9 763.3L301.8 760.0L302.3 756.8L303.6 754.0L305.6 751.7L308.6 750.0L312.1 748.6L316.2 747.3L320.4 745.9L324.6 744.1L328.8 742.5L332.9 740.8L337.1 739.2L341.2 737.5L345.4 735.9L349.6 734.1L353.8 732.5L357.9 730.8L361.7 729.2L365.0 727.5L368.3 725.7L371.7 723.5L375.0 721.0L378.3 718.2L381.2 715.5L383.8 713.0L388.0 710.7L394.1 708.5L399.2 707.3L403.3 706.9L407.5 706.3L411.7 705.4L415.9 704.0L420.0 702.2L424.2 700.2L428.3 698.1L432.5 696.4L436.7 694.9L440.9 693.7L445.0 692.6L448.9 691.8L452.6 691.3L456.2 691.4L459.9 692.1L463.8 692.6L467.9 693.0L472.1 693.2L476.2 693.4L480.4 693.7L484.6 694.0L488.8 694.7L492.9 695.7L496.6 697.0L499.6 698.5L502.8 700.2L505.9 702.3L509.1 704.7L512.2 707.4L514.4 709.1L515.6 709.9L517.5 711.8L520.2 714.9L521.8 717.4L522.2 719.1L523.4 721.5L525.3 724.7L527.0 727.8L528.6 730.9L530.0 734.1L531.3 737.2L532.8 740.2L534.7 743.0L537.0 745.3L539.8 747.2L542.5 748.6L545.0 749.5L547.0 751.0L548.6 752.8L549.5 755.3L549.9 758.5L550.1 761.5L550.5 764.7L550.9 767.8L551.6 770.9L552.7 773.6L554.2 775.8L556.0 777.2L557.8 777.8L559.7 777.8L561.6 777.2L563.0 777.7L563.9 779.2L564.7 781.2L565.3 783.8L566.1 786.2L567.0 788.8L568.1 790.8L569.4 792.3L571.2 793.3L573.8 793.6L576.2 793.1L578.8 791.9L581.0 790.4L582.8 788.9L584.7 787.3L586.6 785.8L588.4 784.7L590.3 784.1L592.5 784.2L595.0 785.2L597.5 786.2L600.0 787.5L602.3 788.6L604.5 789.5L606.4 789.0L608.0 787.2L609.1 785.0L609.7 782.5L610.6 780.3L611.9 778.4L613.4 776.9L615.3 775.6L617.0 775.0L618.6 775.0L620.0 776.0L621.3 777.8L622.4 780.0L623.3 782.5L624.4 785.0L625.6 787.5L627.2 789.7L629.0 791.6L631.2 793.3L633.8 794.8L636.2 796.1L638.8 797.0L641.0 798.4L642.8 800.3L644.1 802.8L644.7 805.9L645.5 808.8L646.4 811.2L647.6 812.6L648.9 812.8L651.2 813.7L654.2 815.2L656.8 817.6L659.0 820.7L661.3 823.3L663.9 825.5L667.0 826.2L670.7 825.7L674.1 825.7L677.2 826.2L680.3 827.5L683.5 829.6L686.5 831.7L689.7 833.7L690.9 834.8L690.3 835.0L691.7 836.0L695.0 838.2L698.4 840.2L701.6 842.3L705.4 844.1L709.6 845.9L713.8 847.3L717.9 848.6L722.1 849.8L726.2 851.1L730.4 852.1L734.6 852.9L738.8 853.5L742.9 854.0L746.7 854.4L750.0 854.8L753.0 855.6L755.5 856.9L758.0 858.5L760.5 860.7L763.0 862.5L765.5 864.2L768.4 865.4L771.6 866.3L775.0 866.9L778.3 867.3L781.7 867.3L785.0 866.9L788.4 867.1L791.6 867.9L794.4 869.4L796.7 871.7L800.1 874.3L804.7 877.5L809.3 880.1L813.9 882.5L818.5 885.2L823.2 888.2L827.8 891.3L832.5 894.4L836.7 897.3L840.6 900.1L842.5 901.5M30.0 599.8L38.3 599.8L44.6 600.6L48.7 602.1L52.9 604.5L57.1 607.6L60.8 611.0L63.9 614.7L66.7 617.8L69.3 620.4L70.9 623.2L71.4 626.3L71.4 629.5L70.9 632.6L69.8 635.0L68.3 636.5L66.5 637.0L64.3 636.5L62.5 635.2L61.0 633.1L59.4 631.3L57.9 629.8L56.1 629.2L53.9 629.8L51.3 630.5L48.3 631.6L45.1 632.5L42.0 633.4L36.8 634.0L29.5 634.4L25.8 625.9L25.8 608.5ZM37.0 610.4L38.6 608.9L40.4 608.1L42.5 608.1L44.0 609.2L45.1 611.2L45.5 613.8L45.1 617.0L45.7 620.1L47.0 623.2L46.9 625.3L45.4 626.4L43.6 626.4L41.4 625.3L39.6 623.8L38.1 621.7L36.9 619.3L36.2 616.7L35.9 614.3L36.1 612.2ZM554.4 824.4L555.6 823.1L557.8 822.4L560.9 822.0L564.1 822.4L567.2 823.3L570.0 824.6L572.5 826.1L573.5 828.0L572.8 830.1L571.7 832.5L570.2 835.0L568.6 837.5L567.0 840.0L566.1 842.8L565.8 845.9L565.8 848.8L566.1 851.2L565.4 853.3L563.9 854.8L562.6 854.8L561.7 853.3L561.1 850.9L560.8 847.8L560.2 845.0L559.2 842.5L558.0 840.3L556.4 838.4L555.2 836.2L554.2 833.8L553.6 831.4L553.3 829.2L553.3 827.3L553.6 825.8ZM567.5 858.8L570.6 856.9L575.0 858.1L577.5 860.6L575.0 862.9L570.0 862.9ZM35.0 799.4L36.9 798.6L40.6 797.0L44.6 795.8L48.7 795.0L52.4 794.0L55.5 792.7L58.7 790.8L61.7 788.2L64.6 784.8L67.2 780.6L69.5 776.2L71.7 771.5L73.8 766.9L75.9 762.1L78.2 757.7L80.8 753.6L82.1 751.3L82.1 751.0L83.6 748.7L86.8 744.6L89.9 740.9L93.0 737.8L96.7 735.4L100.8 733.9L105.5 732.9L110.7 732.4L115.9 732.0L121.2 731.8L125.9 731.3L130.0 730.4L134.2 729.6L138.3 728.7L142.5 728.6L146.7 729.3L150.9 730.2L155.0 731.5L159.2 732.9L163.3 734.4L167.5 736.1L171.7 737.9L174.3 740.1L175.3 742.9L177.9 745.2L182.1 747.3L185.6 749.1L188.6 750.9L191.7 752.1L195.0 752.9L198.3 753.9L201.7 755.2L205.0 756.6L208.3 758.4L211.7 760.2L215.0 762.3L218.3 764.3L221.7 766.5L225.0 768.8L228.3 771.2L231.7 773.8L235.0 776.2L238.3 778.8L241.7 781.2L245.0 783.5L248.3 785.7L251.7 787.5L255.0 789.2L258.3 791.0L261.7 793.2L265.0 795.2L268.3 797.3L271.7 799.8L275.0 802.7L277.9 805.7L280.4 808.5L282.9 811.5L285.4 814.3L287.9 817.0L290.4 819.5L293.3 821.8L296.7 824.0L300.4 826.0L304.6 828.2L308.8 830.0L312.9 831.7L317.1 833.1L321.2 834.4L325.4 835.3L329.6 836.0L333.8 836.4L337.9 836.6L342.1 836.5L346.2 836.0L350.0 835.2L353.3 833.9L356.2 832.3L358.8 830.2L360.8 827.7L362.5 824.8L364.2 821.8L365.8 819.0L367.5 816.0L369.2 813.2L370.8 810.5L372.5 808.0L374.6 806.1L377.1 804.8L380.0 804.4L383.3 804.8L383.8 804.8L381.2 804.4L381.2 804.3L383.8 804.6L386.7 805.0L390.0 805.5L393.8 806.1L397.9 806.7L402.1 806.7L406.2 806.1L409.8 805.0L412.7 803.3L414.8 801.0L416.1 798.2L417.1 795.0L417.9 791.7L419.2 788.3L420.8 785.0L422.9 781.6L425.4 778.4L429.2 774.8L434.2 771.1L439.3 767.4L444.5 763.7L449.7 760.3L454.9 757.2L460.1 754.3L465.3 751.7L470.0 749.1L474.1 746.5L478.3 744.0L482.5 741.6L486.7 739.8L490.8 738.5L495.0 737.8L499.1 737.4L502.4 737.5L504.9 737.9L507.8 738.6L510.9 739.5L514.1 740.6L517.2 741.9L520.3 743.3L523.5 744.8L526.5 746.2L529.7 747.5L532.8 748.6L535.9 749.5L538.8 750.8L541.2 752.3L543.3 754.2L544.8 756.4L545.9 758.8L546.6 761.2L546.6 763.8L545.9 766.2L545.0 768.4L543.7 770.3L542.8 772.2L542.2 774.0L542.2 776.0L542.8 777.8L544.2 779.6L546.4 781.1L548.8 782.7L551.2 784.2L553.3 785.8L554.8 787.3L555.9 789.2L556.6 791.4L556.7 793.8L556.4 796.2L555.9 798.8L555.3 801.2L554.5 803.8L553.6 806.2L552.6 808.8L551.7 811.2L550.8 813.8L549.8 816.2L549.1 818.8L548.4 821.2L548.0 822.5L547.6 822.5L547.6 824.4L548.0 828.1L548.6 831.9L549.5 835.6L550.6 839.1L551.9 842.2L553.3 845.3L554.8 848.5L556.4 851.5L558.0 854.7L559.7 857.5L561.6 860.0L563.8 862.5L566.2 865.0L568.4 867.5L570.3 870.0L571.9 872.5L573.1 875.0L574.2 877.5L575.2 880.0L575.9 882.5L576.6 885.0L577.7 885.3L579.2 883.4L580.6 881.2L581.9 878.8L583.4 876.2L585.3 873.8L587.2 871.4L589.0 869.2L591.2 867.5L593.8 866.2L596.2 865.0L598.8 863.7L601.2 862.2L603.8 860.3L606.2 858.4L608.8 856.6L611.2 854.7L613.8 852.8L616.2 850.9L618.8 849.1L621.2 847.2L623.8 845.3L626.2 843.6L628.8 842.0L631.0 840.9L632.8 840.3L634.2 841.0L635.2 842.8L636.1 845.0L637.0 847.5L638.4 849.7L640.3 851.6L642.5 853.1L645.0 854.4L646.0 854.4L645.6 853.1L647.5 853.0L651.7 854.1L655.9 854.7L660.0 854.9L664.2 855.4L668.3 856.3L672.5 857.3L676.7 858.6L680.9 860.1L685.0 862.0L689.2 863.9L693.3 866.1L697.5 868.1L701.7 870.2L705.9 872.0L710.0 873.6L714.2 875.2L718.3 876.7L722.5 878.4L726.7 880.3L730.9 881.9L735.0 883.1L739.2 884.3L743.3 885.3L747.5 886.3L751.7 887.4L755.3 888.2L758.5 888.7L762.5 890.4L767.5 893.0L771.5 895.2L774.7 896.7L777.7 898.5L780.8 900.5L782.3 901.5M627.2 812.2L629.0 814.0L630.1 816.2L630.5 818.8L629.8 821.5L628.3 824.7L626.6 827.8L624.7 830.9L622.8 834.1L621.0 837.2L618.9 840.3L616.7 843.5L614.5 845.9L612.3 847.6L610.0 848.4L607.5 848.2L605.4 847.3L603.9 845.8L603.0 844.0L602.6 842.2L603.0 840.0L603.9 837.5L605.0 834.7L606.3 831.5L607.7 828.8L609.2 826.2L611.2 824.0L613.8 822.2L616.2 820.6L618.8 819.4L621.0 817.8L622.8 816.0L624.4 814.0L625.6 812.2ZM618.4 823.6L620.3 824.5L621.9 825.6L623.1 826.9L623.3 828.4L622.4 830.3L621.1 832.3L619.6 834.5L617.8 836.6L616.0 838.4L614.2 839.7L612.7 840.3L611.3 839.8L610.0 838.3L609.3 836.7L609.1 835.2L609.5 833.3L610.7 831.1L612.0 828.9L613.6 826.7L615.2 825.0L616.7 823.7ZM28.1 895.0L32.7 894.5L36.9 893.3L40.6 891.3L44.6 889.9L48.7 888.8L53.4 887.9L58.6 887.2L63.8 885.8L69.1 883.8L74.3 881.7L79.5 879.5L84.7 877.8L89.9 876.5L94.1 875.2L97.2 873.9L99.8 872.3L101.9 870.2L105.5 868.2L110.7 866.0L115.9 864.2L121.2 862.7L126.4 861.5L131.6 860.6L136.8 860.0L142.0 859.5L146.7 858.8L150.8 858.1L154.5 856.7L157.6 854.5L160.2 852.0L162.3 848.8L163.6 845.7L164.1 842.6L163.6 839.5L162.0 836.3L159.9 833.5L157.3 830.9L155.2 828.0L153.7 824.9L152.5 821.2L151.6 817.1L151.4 812.9L151.7 808.8L152.7 805.4L154.2 802.8L156.3 800.8L158.9 799.5L161.8 798.9L164.9 799.2L168.3 800.4L172.0 802.5L175.4 805.1L178.4 808.2L182.1 811.1L186.2 813.7L190.4 816.0L194.6 818.2L198.8 820.0L202.9 821.5L207.1 823.1L211.2 824.6L215.4 825.7L219.6 826.2L223.2 826.1L226.4 825.4L229.5 824.0L232.6 822.2L235.2 819.9L237.3 817.3L239.1 814.5L240.7 811.3L242.5 809.5L244.6 809.0L246.9 809.6L249.5 811.1L252.1 812.1L254.7 812.6L255.8 811.6L255.2 809.0L253.9 806.4L251.9 803.8L250.6 801.2L250.1 798.6L250.9 796.5L252.9 795.0L255.3 794.7L257.9 795.7L260.8 797.5L263.8 800.2L267.0 803.0L270.1 806.2L273.0 808.8L275.6 810.8L277.7 813.1L279.2 815.5L282.1 818.8L286.2 822.9L290.4 827.1L294.6 831.2L298.8 835.0L302.9 838.3L307.1 840.8L311.2 842.2L315.4 843.3L319.6 843.9L322.7 845.2L324.8 847.3L326.4 849.5L327.7 852.0L327.7 854.5L326.4 857.0L325.0 859.5L323.3 862.0L321.7 864.5L320.0 867.0L321.1 869.1L324.8 870.9L329.2 872.5L334.2 874.2L338.3 875.4L341.7 876.3L345.0 877.1L348.3 877.9L351.7 878.9L355.0 880.2L358.3 881.2L361.7 882.1L365.0 882.5L368.3 882.5L371.7 881.9L375.0 880.6L378.3 879.4L381.7 878.1L385.0 877.3L388.3 876.9L391.7 876.9L395.0 877.3L398.3 878.3L401.7 880.0L405.0 881.8L408.3 884.0L412.1 885.8L416.2 887.5L420.0 888.6L423.3 889.2L424.4 888.0L423.1 884.8L421.1 882.0L418.1 879.5L415.2 877.0L412.3 874.5L410.0 872.3L408.3 870.2L408.1 868.2L409.4 866.3L411.7 864.9L415.0 864.1L418.8 864.0L422.9 864.7L426.7 865.4L430.0 866.3L433.1 865.7L436.1 863.5L438.6 861.2L440.6 858.8L442.3 857.3L443.6 856.9L445.2 857.7L447.3 859.8L449.6 862.3L452.1 865.2L454.6 866.5L457.1 866.0L459.4 865.2L461.4 863.9L463.3 863.9L465.0 865.2L466.7 866.8L468.3 869.0L469.7 871.5L470.8 874.3L471.6 877.3L472.2 880.2L474.4 883.0L478.1 885.5L482.1 888.0L486.2 890.5L490.4 893.0L494.6 895.5L497.9 898.4L500.4 901.6L382.7 904.1L144.8 905.9L25.8 903.8L25.8 898.1ZM427.9 883.3L430.4 880.0L433.3 877.3L436.7 875.2L440.0 874.4L443.3 874.8L446.4 875.8L449.4 877.5L451.4 879.5L452.7 882.0L453.1 885.0L452.7 888.3L451.4 891.0L449.4 893.2L446.7 894.4L443.3 894.8L439.6 894.4L435.4 893.1L431.9 891.7L428.9 890.0L427.3 888.2L426.9 886.0ZM298.6 872.1L300.6 871.2L303.8 870.5L307.9 870.0L312.3 869.4L316.9 868.6L321.1 869.0L324.8 870.5L328.6 872.6L332.3 875.4L334.4 878.0L334.8 880.5L333.8 883.2L331.2 886.0L328.3 888.1L325.0 889.4L321.2 889.8L317.1 889.4L312.9 888.4L308.8 886.6L305.0 884.8L301.7 882.7L299.2 880.5L297.5 878.0L296.9 875.7L297.3 873.5ZM234.7 790.6L236.4 789.8L238.4 789.8L240.4 790.6L241.8 792.3L242.2 794.9L242.0 797.3L240.9 799.3L239.4 799.9L237.2 798.8L235.7 797.4L234.7 795.5L234.1 793.7L233.9 791.9ZM502.4 772.5L503.3 770.0L504.7 767.5L506.6 765.0L508.8 762.7L511.2 760.5L514.1 758.8L517.2 757.5L520.0 757.0L522.5 757.4L524.4 758.4L525.6 760.3L526.5 762.8L527.2 765.9L527.6 769.1L528.0 772.2L528.0 775.3L527.6 778.5L527.2 781.0L526.5 782.8L524.7 783.6L521.5 783.3L518.1 783.0L514.4 782.6L510.9 782.2L507.8 781.5L505.3 780.4L503.4 778.9L502.4 777.0L502.0 774.9ZM536.9 760.4L538.1 758.9L539.6 758.1L541.1 758.1L542.4 759.1L543.3 760.9L543.8 763.1L543.8 765.6L543.3 768.0L542.4 770.1L541.3 771.2L540.0 771.2L538.8 770.4L537.5 768.9L536.6 767.2L535.9 765.3L535.8 763.6L536.1 762.0ZM539.8 762.5L540.8 765.0L540.2 768.1L539.2 765.6ZM481.1 820.7L483.1 818.5L485.4 817.2L487.9 816.6L490.0 817.2L491.7 819.1L492.7 822.1L493.1 826.2L493.2 830.8L493.1 835.8L492.7 840.6L492.0 845.2L490.4 846.7L487.9 845.0L485.6 842.7L483.6 839.8L481.8 836.2L480.4 832.1L479.8 827.9L479.9 823.8ZM540.0 817.5L537.5 817.5L535.0 818.4L532.5 820.3L530.0 822.5L527.5 825.0L525.0 827.8L522.5 830.9L520.4 834.1L518.9 837.2L517.8 840.3L517.2 843.5L516.9 846.5L516.9 849.7L517.4 852.5L518.3 855.0L519.4 855.9L520.6 855.3L521.9 854.0L523.1 852.2L524.6 850.8L526.1 849.8L527.5 850.2L528.8 851.7L529.4 854.1L529.4 857.2L528.8 860.0L527.5 862.5L526.3 865.0L525.0 867.5L523.8 870.3L522.5 873.5L521.1 876.1L519.6 878.3L517.5 879.5L515.0 879.9L512.8 879.0L510.9 877.2L509.4 875.0L508.1 872.5L506.6 870.6L504.7 869.4L502.9 868.7L500.9 868.6L498.8 868.6L496.2 869.0L494.9 869.8L494.5 871.2L495.8 873.0L498.6 875.1L501.2 877.6L503.8 880.2L505.9 883.1L507.9 886.0L509.1 888.8L509.7 891.2L509.4 894.1L508.1 897.2L507.2 899.6L506.5 901.1L515.6 901.9L534.4 901.9L544.4 900.5L545.6 897.6L547.2 894.7L549.0 891.5L550.6 888.5L551.9 885.3L552.6 882.2L553.0 879.1L553.6 876.9L554.5 875.6L555.5 876.0L556.4 877.8L557.0 880.3L557.4 883.5L557.8 886.5L558.5 889.7L559.4 892.8L560.6 895.9L561.9 898.6L563.1 900.8L569.1 901.9L579.7 901.9L584.0 901.1L582.2 899.6L580.3 897.8L578.4 896.0L576.9 893.8L575.6 891.2L574.7 888.8L574.1 886.2L573.5 883.8L572.8 881.2L571.9 879.0L570.6 877.2L569.0 875.3L567.2 873.4L565.3 871.4L563.4 869.2L561.6 867.0L559.7 864.9L557.8 862.7L556.0 860.5L554.0 858.3L552.2 856.1L550.3 854.0L548.4 852.2L546.9 850.0L545.6 847.5L544.7 844.7L544.1 841.5L543.6 838.1L543.3 834.4L543.0 830.6L542.6 826.9L542.2 823.1L541.5 819.4ZM562.7 882.1L564.2 881.4L566.1 881.2L568.3 881.7L569.8 883.3L570.8 886.1L571.7 889.1L572.6 892.2L573.9 895.0L575.4 897.5L577.2 899.6L579.0 901.1L576.5 901.9L569.7 901.9L565.8 900.2L564.8 896.7L563.8 893.5L562.5 890.3L561.7 887.8L561.2 886.0L561.2 884.4L561.7 883.1ZM590.5 900.2L590.1 896.7L590.3 894.0L590.9 892.2L592.8 891.1L595.9 890.8L599.1 890.8L602.2 891.1L605.3 891.4L608.5 891.7L611.5 891.6L614.7 890.9L617.8 890.3L620.9 889.7L624.1 889.1L627.2 888.4L630.3 888.0L633.5 887.6L636.5 887.4L639.7 887.0L642.5 886.7L645.0 886.4L647.2 885.9L649.0 885.3L651.0 884.4L652.8 883.3L656.4 882.5L661.6 882.0L666.8 882.1L672.0 882.9L677.2 883.9L682.4 885.2L687.6 886.6L692.8 888.2L698.0 889.8L703.2 891.3L708.4 892.9L713.6 894.4L718.8 895.9L724.1 897.2L729.3 898.4L734.5 899.5L738.4 900.6L741.0 901.9L704.4 902.4L628.5 902.0ZM470.0 901.7L471.7 898.3L475.8 897.5L478.3 901.7Z" fill="none" stroke="#ffffff" stroke-opacity="0.8" stroke-width="0.9" stroke-linejoin="round"/>
<path d="M34.6 857.1H1133M34.6 790.5H1133M34.6 723.9H1133M34.6 657.3H1133M34.6 590.7H1133M34.6 524.1H1133M34.6 457.5H1133M34.6 390.9H1133M34.6 324.3H1133M34.6 257.7H1133M34.6 191.1H1133M34.6 124.5H1133" fill="none" stroke="#a8aaa8" stroke-width="1.9" stroke-dasharray="2.2 7.62" stroke-dashoffset="2.4"/>
<path d="M86.7 901V102M225.6 901V102M364.4 901V102M503.2 901V102M642.1 901V102M781.0 901V102M919.8 901V102M1058.6 901V102" fill="none" stroke="#a8aaa8" stroke-width="1.7" stroke-dasharray="2.8 7.02" stroke-dashoffset="3.2"/>
<path d="M35.1 131.3L38.0 132.9L40.7 133.3L42.0 136.0L44.0 138.0L46.7 139.3L48.7 140.7L51.3 140.4L52.0 138.0L52.7 142.0L51.3 144.0L53.3 146.0L55.3 148.0L54.0 150.0L51.3 149.3L50.0 147.3L52.0 145.3L54.7 146.7L56.0 150.7L58.7 151.3L62.0 152.7L65.3 152.7L66.7 154.7L68.7 154.0L70.0 150.7L72.0 148.0L74.7 147.3L77.3 148.7L79.3 151.3L80.4 154.7L82.7 154.7L84.0 152.0L85.3 150.0L86.0 146.0L85.3 142.7L82.7 141.3L81.3 140.0L83.3 139.3L86.7 141.3L90.0 142.7L92.0 144.7L91.3 146.7L94.7 147.3L97.3 148.0L99.3 149.3L102.7 151.3L104.7 154.0L105.3 157.3L103.3 160.0L106.0 158.0L107.3 155.3L110.0 157.3L111.3 154.7L113.7 152.0L112.0 150.7L110.0 149.3L108.0 146.7L104.7 144.7L101.3 143.3L98.7 140.7L96.0 139.3L94.7 137.3L96.7 135.3L99.3 134.7L101.3 133.3L103.3 132.0L105.3 130.7L104.7 128.0L103.1 126.0L103.3 123.3L101.3 122.7L99.3 124.7L98.0 127.3L95.3 128.0L92.7 126.0L90.7 124.0L92.7 122.0L95.3 120.0L98.0 118.7L100.7 118.0L103.3 115.3L105.3 113.3L108.7 112.0L112.7 111.3L116.7 110.7L120.7 111.3L124.7 112.0L128.7 111.3L132.0 110.7L131.6 106.0L130.7 102.0M35.1 138.0L37.3 137.3L38.7 139.3L37.3 141.3L35.1 141.7M74.7 119.3L76.0 115.3L79.3 112.0L83.3 111.3L87.3 112.7L90.7 115.3L93.3 118.0L95.3 119.3L92.0 120.7L88.7 122.0L84.7 123.3L80.0 123.3L76.7 122.0L74.7 119.3M90.7 102.0L93.3 105.3L95.3 108.7L96.7 112.7L98.0 117.3L98.0 118.7M132.0 110.7L136.7 111.3L139.3 110.7L140.0 107.3L139.6 102.7M144.0 102.7L144.9 107.3L147.3 111.3L148.4 114.7L146.0 116.7L143.3 117.3M148.4 114.7L152.7 114.7L156.7 113.3L160.0 111.3L158.3 108.0L158.7 102.0M160.0 111.3L163.3 109.3L166.0 106.0L168.0 108.0L169.7 105.3L171.1 108.7L167.3 110.7L164.0 112.0L168.7 111.3L174.0 110.7L179.3 109.7L184.7 108.9L190.0 109.7M122.0 116.7L126.0 117.5M128.7 117.7L131.6 117.7M134.0 116.8L140.7 116.0M118.7 123.3L119.6 127.3L119.1 131.6M110.0 118.0L112.7 117.1M106.0 122.3L108.1 120.7M109.1 141.6L110.0 140.9M112.4 139.6L113.5 138.7M86.7 149.3L87.6 149.7M66.0 156.0L68.0 155.6M180.0 111.3L182.7 109.3L186.0 108.0L190.7 107.6L194.0 108.7L193.3 110.7L189.3 111.3L185.3 111.1L190.7 112.7L196.0 114.7L201.3 116.7L203.3 115.3L206.7 115.1L209.3 114.7L207.3 116.7L208.7 119.3L211.3 121.3L213.3 124.0L212.7 126.7L214.7 129.3L214.4 132.7L216.7 135.3L220.0 134.0L222.7 134.7L224.0 137.3L226.7 136.0L229.3 133.3L233.3 132.0L236.0 130.0L238.7 128.0L241.3 126.7L244.0 125.3L243.3 123.3L246.0 122.0L249.3 121.3L252.7 121.7L256.0 123.3L258.7 125.3L262.0 128.0L264.7 131.3L267.3 134.0L270.0 136.7L271.3 139.3L273.3 142.0L275.3 144.7L277.3 147.3L279.3 150.7L282.0 152.0L285.3 152.0L287.3 154.7L288.7 158.0L290.0 160.7L291.7 163.3L291.3 167.3L290.4 171.3L290.0 175.3L289.3 179.3L288.0 183.3L286.7 186.7L287.3 190.0L286.0 192.7L285.3 196.7L286.7 199.3L289.3 201.3L291.3 199.3L293.3 197.3L294.7 194.7L292.7 192.7L290.0 190.7L288.0 190.0M294.7 194.7L297.3 195.3L296.7 199.3L294.7 202.0L293.3 204.7L291.3 207.3L289.3 208.0L291.3 210.0L293.3 212.7L294.7 218.0M289.3 191.3L292.0 193.3L293.3 196.0L291.3 197.3L289.3 195.3L289.3 191.3M201.3 116.7L204.0 118.0L206.7 120.0L210.0 122.7L212.7 124.0M214.7 132.9L218.7 135.6L222.7 136.7L226.0 135.3L230.0 132.9L234.0 131.1L236.7 129.7M241.3 102.0L260.0 103.3L280.0 104.7L302.7 105.7L303.3 112.0L307.3 112.0L308.0 102.0M323.3 102.0L324.7 106.0L326.0 112.7L328.0 120.7L330.0 128.7L332.0 136.7L334.7 144.7L337.3 151.3L340.0 157.3M322.4 102.7L324.0 104.7L323.7 107.3M320.0 110.7L318.0 112.7L317.3 116.7L318.7 120.0L318.0 123.3L319.3 126.7L320.0 130.7L319.3 134.7L319.7 138.0M288.0 206.0L289.3 208.0L291.3 211.3L293.3 214.0L294.7 218.0L296.7 222.0L298.7 226.0L300.7 229.3L302.0 232.7L304.0 236.0L306.0 239.3L308.7 241.3L312.0 242.0L312.9 245.3L313.7 249.3L314.7 253.3L316.0 257.3L317.3 260.7L319.3 260.7L322.7 261.6L326.0 263.3L328.0 266.7L329.3 270.0L331.1 273.3L332.0 276.7L333.3 279.3M301.3 225.3L304.7 226.0L308.7 225.3M305.3 226.0L304.7 230.0L306.0 234.0L306.7 238.7M310.0 238.0L312.7 236.0L315.1 234.4M302.0 234.9L303.3 236.7M303.3 240.0L305.7 242.4L308.0 242.9M316.7 258.7L316.0 261.3L317.3 262.7M332.0 280.7L334.0 279.3L336.7 280.0L338.7 282.0L337.3 284.7L334.7 285.3L332.4 284.0L331.3 282.0L332.0 280.7M334.7 286.7L338.0 286.0L342.0 285.3L346.0 284.7L348.7 283.3L351.3 284.7L353.3 282.0L355.3 279.3M352.7 200.0L354.7 205.3L356.7 210.7L358.0 215.3L360.0 219.3L361.7 224.0L362.7 229.3L363.3 234.7L363.1 240.0L362.7 245.3L362.0 250.7L361.3 256.0L360.4 261.3L358.7 265.3L356.7 269.3L355.3 274.0L354.3 278.7L353.3 282.0L350.7 286.7L348.0 290.7L344.7 294.0L340.7 297.3L336.7 299.3L332.7 300.7M354.0 202.7L356.4 209.3L358.0 214.7L359.1 218.0L357.3 216.7L356.4 213.3M326.0 301.3L323.3 302.7M320.7 304.0L316.7 305.3M315.3 306.0L313.7 306.4M356.7 277.3L358.7 275.3M359.6 262.7L360.7 264.7M334.0 225.3L336.7 222.0L340.0 218.7L342.7 218.0L345.3 220.0L347.1 224.0L347.3 228.7L346.0 232.7L343.3 234.9L340.7 233.3L338.0 230.0L335.3 228.0L334.0 225.3M392.7 235.3L396.0 236.7L399.3 238.0L402.0 235.3L403.3 232.0L405.3 234.0L408.7 234.9L412.7 234.4L416.7 233.6L420.7 232.7L422.7 234.0L422.0 236.7L418.0 237.1L414.0 237.3L410.0 238.0L406.0 239.3L402.0 240.7L398.7 241.3L396.0 239.3L392.7 235.3M423.3 265.3L424.9 266.9M421.7 227.7L425.0 227.0L428.3 227.3L431.7 228.3L434.3 231.0L436.3 233.7L439.0 237.0L442.3 239.0L445.7 241.0L447.0 243.7L447.7 247.0L446.3 249.0L445.0 247.7L443.7 249.7L442.3 252.3L441.7 255.0L442.3 258.3L441.0 261.7L439.0 259.7L437.4 257.0L439.0 254.3L441.0 251.7L441.7 248.3L441.4 244.3L441.7 241.0L439.7 239.0L437.4 236.3L435.0 233.0L432.3 230.3L429.7 228.3L425.7 228.1L421.7 227.7M431.3 246.7L432.3 248.1M423.0 265.4L425.0 267.3M413.7 285.0L416.3 284.3L419.7 285.7L421.0 289.7L422.3 293.7L424.3 297.7L426.3 301.0L427.7 305.0L427.0 309.0L425.0 311.0L423.0 313.0L421.0 314.3L419.0 313.0L417.0 310.3L415.0 308.3L412.3 307.7L409.7 307.0L408.1 304.3L409.0 301.7L411.0 300.3L412.3 297.0L413.7 293.7L415.0 289.7L414.3 287.0L413.7 285.0M409.0 301.7L411.7 301.0L413.4 303.0L412.3 305.7L409.9 305.4L409.0 301.7M421.0 314.3L424.3 315.0L428.3 315.7L431.0 318.3L432.3 321.7L433.0 325.7L432.3 329.0L428.3 329.7L425.7 329.0L424.3 326.3L423.7 323.0L422.3 320.3L421.0 317.7L421.0 314.3M426.3 331.7L429.7 331.0L432.3 331.7L431.0 333.7L427.7 333.4L426.3 331.7M421.7 317.0L424.3 318.3L427.0 319.0M426.3 320.3L428.3 323.0M431.7 289.9L434.3 288.6L437.7 288.3L439.9 289.4L438.3 291.3L435.0 291.8L432.3 291.3L431.7 289.9M453.7 275.7L455.0 272.3L456.6 272.6L457.0 275.0L459.0 277.0L461.7 279.0L464.3 280.3L467.0 282.3L469.0 285.0L471.0 287.7L472.3 290.3L472.1 293.0L471.0 295.7L471.3 298.3L470.3 301.7L468.3 299.7L466.3 297.4L468.3 296.3L469.7 293.7L470.3 291.0L469.0 288.3L467.0 285.7L465.0 283.0L462.3 281.0L459.7 279.0L457.0 277.0L454.3 277.0L453.7 275.7M482.3 301.7L484.3 301.4L486.3 303.7L487.7 307.0L489.7 310.3L491.7 313.7L493.7 316.3L494.7 319.0L492.3 319.7L489.4 319.0L491.0 317.0L490.3 314.3L488.3 311.0L486.3 307.7L484.3 305.0L483.0 303.0L482.3 301.7M459.7 314.3L461.7 316.3M464.1 320.3L466.3 323.7M516.3 320.3L518.3 319.7L519.0 322.3L517.9 325.0L516.1 325.7L515.7 323.0L516.3 320.3M320.7 353.0L322.7 355.7L326.0 353.7L330.0 351.7L332.0 350.7L330.0 353.7L332.7 356.3L336.7 353.7L340.7 352.1L343.3 353.0L346.0 355.7L348.7 357.7L352.7 359.7L356.7 360.3L360.7 359.7L363.3 361.0L366.0 362.3L369.3 363.7L372.7 365.0L374.7 367.7L376.0 371.0L378.7 373.7L381.3 376.3L384.7 377.9L388.7 378.3L392.7 377.7L396.7 378.3L400.7 380.3L404.7 381.9L410.0 383.7M347.3 351.7L350.7 351.3M358.0 354.3L360.7 355.0M362.0 357.0L366.0 359.7M376.7 366.3L382.0 369.7M389.3 369.0L393.3 369.0M400.7 373.7L404.7 373.0L410.0 374.3L408.7 376.3L403.3 375.7L400.7 373.7M320.7 386.3L324.7 386.7L328.7 387.3L330.7 388.3L331.3 385.0L330.7 382.3L332.0 383.0L332.7 386.3L335.3 388.3L339.3 389.0L343.3 389.4L347.3 389.0L350.7 388.3L350.0 385.7L352.0 385.0L353.3 387.7L354.0 391.0L356.7 393.7L360.0 395.7L363.3 397.7L366.7 399.7L370.0 401.0L374.0 401.7L378.0 403.0L382.0 404.3L386.0 405.0L390.0 404.3L394.0 403.7L398.0 403.3L400.7 404.3L402.7 407.7L404.0 411.7L405.3 416.3L406.7 420.3L408.7 423.7L410.0 425.7M321.3 404.1L326.0 400.6M381.3 420.3L383.3 421.7M384.7 423.7L388.7 426.3M390.0 427.7L394.0 429.9M395.3 431.0L398.0 432.3M404.0 433.7L407.3 434.3M407.3 437.7L410.0 439.0M395.0 377.7L399.0 379.0L403.0 381.0L407.0 383.0L411.0 385.0L415.0 387.0L419.0 389.7L422.3 392.3L425.0 395.0L428.3 397.0L432.3 397.7L435.0 400.3L437.7 403.0L440.3 405.7L442.3 408.3L445.7 407.0L448.3 409.0L451.0 411.0L454.3 412.3L457.7 413.7L461.7 415.0L465.7 416.3L469.7 418.3L473.7 420.3L477.7 421.0L481.7 420.3L485.0 421.7L486.3 424.3L485.7 427.7L483.7 428.3L481.7 430.3L482.3 433.7L485.7 434.3L487.0 431.7L488.3 433.0L492.3 434.3L496.3 434.3L500.3 434.3L504.3 435.7L508.3 437.7L511.7 440.3L514.3 443.7L517.7 446.3L521.7 447.7L525.0 448.3L527.0 451.0L526.3 453.4M400.3 373.7L404.3 372.3L408.3 373.0L412.3 375.0L416.3 377.7L420.3 380.3L423.7 383.0L426.3 385.7L427.0 388.3L425.0 389.7L422.3 387.7L419.7 385.0L416.3 382.3L412.3 379.7L408.3 377.4L404.3 375.7L401.0 375.0L400.3 373.7M423.7 381.0L425.4 383.0L427.0 385.7M428.3 392.3L431.0 394.3L433.7 396.3L436.3 399.0L439.0 401.0L441.7 403.0L443.0 406.3L441.0 408.3L439.7 405.7L437.0 403.0L434.3 400.3L431.0 397.7L428.3 395.7L428.3 392.3M451.0 411.7L453.7 413.7M455.7 414.3L457.7 415.7M459.7 415.0L462.3 415.7L461.7 417.4L459.7 417.0L459.7 415.0M395.0 403.7L398.3 403.3L401.0 405.0L403.0 408.3L404.3 412.3L405.4 417.0L406.7 421.7L408.3 424.3L411.0 427.0L413.7 429.7L416.3 431.7L419.0 433.7L421.7 434.3L425.7 433.7L429.7 434.3L433.7 435.0L437.7 433.7L440.3 435.0L441.7 437.7L443.7 440.3L445.4 443.0L444.3 446.3L441.7 449.0L437.7 451.0L434.3 453.7L433.0 455.0M395.7 430.3L397.7 431.7M404.3 433.7L407.0 434.3M407.0 437.7L410.3 439.7M475.0 336.3L477.7 339.0L481.7 341.7L485.7 343.3L488.3 344.1M493.7 335.7L495.7 339.0L497.7 343.0L499.7 347.0L500.3 351.0L501.7 353.7L504.3 355.7L506.3 357.7L507.7 361.0L505.9 359.7L504.1 357.0L501.7 355.0L499.0 352.3L497.7 351.0L498.3 347.7L497.0 343.7L495.0 339.7M521.0 363.7L524.3 364.1L527.0 366.3L529.0 367.7L526.3 368.3L523.7 367.7L522.3 369.7L521.0 372.3M531.0 367.7L533.7 367.0L535.3 369.0L535.7 372.3L534.3 375.0L532.3 377.0L529.7 379.0L527.0 381.0L524.3 383.7L523.0 385.4L526.3 381.7L529.0 379.0L531.7 376.3L533.0 373.7L532.3 370.3L531.0 367.7M536.3 355.0L539.0 354.7M543.0 370.7L545.7 371.0M553.9 377.4L555.0 378.5M433.0 455.0L435.0 453.0L438.3 451.0L441.7 449.0L444.3 446.3L445.4 443.0L444.3 439.7L442.3 437.0L440.3 435.0M433.0 455.0L429.7 458.3L427.7 461.0L427.0 463.3L431.0 463.7L436.3 463.0L441.7 462.3L447.0 461.4L452.3 460.6L457.7 460.1L463.0 459.3L468.3 458.7L473.7 458.3L479.0 458.7L484.3 459.7L488.3 461.0L492.3 461.4L496.3 461.0L498.3 458.3L499.0 456.3L500.3 459.0L501.7 461.0L504.3 459.7L508.3 457.7L512.3 456.3L517.7 455.0L521.7 454.3L525.0 453.0L527.0 451.0L527.3 448.3L525.0 447.0L521.7 446.7L519.0 445.0L516.3 442.3L513.7 439.7L511.0 437.4L507.0 435.7L501.7 435.0M407.7 437.7L410.3 440.1M409.4 515.0L410.3 511.7L413.0 509.4L417.0 508.6L421.0 508.1L423.0 506.7L427.0 507.7L432.3 508.3L437.7 509.4L443.0 510.7L448.3 511.0L451.0 512.3L453.7 514.3L457.0 515.7L461.0 517.0L464.3 518.3L467.0 520.3L468.3 523.7L469.4 527.0L467.0 528.3L463.0 528.3L459.7 527.7L457.0 526.3L453.7 525.4L451.7 527.0L449.7 529.4L447.0 529.9L445.0 531.7L443.0 534.3L441.0 533.0L439.0 530.3L435.0 529.0L431.0 529.4L427.7 529.0L425.0 527.0L423.0 524.3L421.0 521.7L419.0 519.0L416.3 517.7L413.0 517.4L410.3 516.6L409.4 515.0M545.7 466.0L547.0 463.3L549.7 461.3L553.7 460.0L557.7 459.7L561.7 460.0L565.7 460.7L569.7 462.0L573.7 464.0L577.7 466.0L581.7 466.7L585.7 467.3L589.7 468.7L593.0 467.3L594.3 464.0L596.3 461.3L600.3 460.7L604.3 462.0L607.7 462.7L611.0 461.3L615.0 460.0L619.0 461.1L621.7 463.3L625.0 464.7L628.3 464.3L631.0 466.7L633.7 468.7L637.7 469.1L641.7 468.3L644.3 470.0L645.7 473.3L646.3 476.7L648.3 479.3L651.7 480.7L655.0 480.0L659.0 479.7L663.0 478.9L664.3 481.3L663.7 483.3L660.3 483.7L656.3 483.3L653.0 484.0L652.3 486.7L655.0 488.0L659.0 489.1L663.0 490.4L667.0 491.3L671.0 490.4L674.3 492.0L677.7 494.0L681.0 496.7L684.3 500.0L687.0 502.7L689.0 505.3L687.7 508.7L685.7 511.3L683.0 512.7L681.7 516.0L680.3 518.7L681.4 520.0L679.0 520.7L677.0 519.3L677.4 516.7L676.3 513.3L673.7 510.7L669.7 509.6L665.7 509.3L661.7 509.1L657.7 510.0L653.7 509.3L649.7 508.7L645.7 509.3L641.7 510.0L640.3 512.7L638.3 515.3L635.0 516.7L631.0 517.3L627.7 516.7L626.3 513.3L625.7 510.0L623.0 510.0L621.0 512.0L617.7 513.3L615.0 514.7L613.0 517.3L611.7 520.7L611.0 524.0L609.0 527.3L607.0 530.0L605.0 532.7L603.7 535.3L601.7 536.7L600.3 538.7L599.0 536.0L597.7 532.0L596.6 528.0L595.0 524.7L593.0 521.3L591.0 519.3L588.3 517.6L584.3 516.7L580.3 516.7L576.3 517.1L572.3 517.3L568.3 518.4L564.3 519.3L560.3 518.7L556.3 517.6L552.3 516.7L548.3 516.0L544.3 515.7L540.3 516.7L536.3 518.7L533.0 520.7L531.0 523.3L528.3 520.7L525.0 518.0L521.7 516.0L519.7 512.7L519.0 509.3L519.7 506.0L522.3 504.0L526.3 503.6L530.3 504.7L534.3 506.0L535.0 504.7L539.0 505.3L543.0 506.0L547.0 506.7L551.0 507.3L555.0 508.3L559.0 509.1L563.0 509.3L566.3 508.7L567.0 506.7L569.7 506.0L573.0 506.7L576.3 506.0L577.7 504.0L576.3 502.0L573.7 500.0L571.0 498.0L569.0 495.3L566.3 493.3L564.3 491.3L565.0 488.7L566.3 486.0L565.7 482.7L567.0 480.0L566.3 477.3L563.7 474.9L561.0 473.1L557.7 471.3L553.7 470.4L549.7 470.0L546.3 468.7L545.7 466.0M559.7 456.0L561.7 454.7L565.0 454.9L568.3 456.3L569.0 458.0L566.3 458.0L563.0 457.3L560.3 457.1L559.7 456.0M550.3 493.3L552.3 492.0L555.7 492.7L559.0 494.7L562.3 497.3L564.1 499.7L562.3 500.7L559.0 499.7L555.7 498.0L552.3 496.0L550.3 493.3M593.0 467.3L593.7 471.3L594.3 474.7L593.7 478.7L595.7 482.0L596.3 485.3L595.0 488.7L593.0 491.3L591.0 492.7L593.0 494.7L594.3 498.0L593.7 501.3L591.0 502.7L588.3 504.7L587.7 508.0L589.7 510.7L592.3 512.7L593.0 516.7L593.7 520.0L595.0 524.7M591.7 507.3L594.3 505.6L597.7 506.7L600.3 508.3L599.0 510.4L595.7 510.7L593.0 509.3L591.7 507.3M585.0 504.0L586.3 502.7L588.3 506.7L590.3 510.0L589.0 510.7L587.0 508.0L585.0 504.0M535.7 504.3L537.7 503.7L539.7 505.1M539.0 521.3L542.3 521.6M720.0 508.0L723.3 507.1L728.7 507.3L734.0 507.6L739.3 507.6L744.7 508.0L750.0 508.7L755.3 509.3L759.3 510.3L763.1 511.6L763.6 514.7L762.7 517.3L760.7 519.3L758.7 522.0L756.7 524.0L753.3 525.3L749.3 526.3L745.3 526.0L741.3 525.3L737.3 525.7L733.3 525.3L730.0 525.7L726.0 526.3L722.0 526.3L719.6 525.3L720.0 522.7L720.9 519.3L720.4 516.0L718.7 513.3L718.0 511.3L720.0 508.0M699.3 520.4L700.9 520.7L701.3 522.3L699.6 522.7L699.3 520.4M765.3 520.0L768.7 518.7L772.7 518.3L773.3 519.6L770.0 520.9L766.7 521.7L765.3 520.0M771.3 512.9L773.3 513.7L774.0 515.1L772.0 514.3L771.3 512.9M780.0 512.0L783.3 512.4L785.3 513.7L782.7 513.7L780.0 512.0M787.3 512.7L789.3 510.3L792.0 509.3L792.7 510.7L790.0 512.7L788.4 514.3L787.3 512.7M796.0 508.0L798.7 507.1L799.3 508.1L797.3 509.3L796.0 508.0M797.3 499.3L800.7 499.6L801.3 500.7L798.0 500.7L797.3 499.3M783.7 533.3L786.0 531.6L790.0 531.6L793.3 532.4L791.3 533.7L787.3 534.7L784.0 534.7L783.7 533.3M832.0 518.0L834.0 516.0L836.4 515.1L836.7 516.4L834.7 518.0L832.7 519.1L832.0 518.0M832.4 521.3L834.7 520.7L836.4 522.7L834.7 523.6L832.7 523.1L832.4 521.3M839.1 526.3L840.7 527.3M836.0 540.7L837.3 541.3L836.7 542.3L836.0 540.7M867.3 535.3L868.7 534.0L870.7 534.9L871.6 537.3L870.7 539.3L868.7 538.7L867.6 537.1L867.3 535.3M836.4 540.7L837.2 541.6M840.0 545.3L841.7 544.0L843.6 545.1L844.9 547.3L846.0 550.0L844.4 550.0L842.3 548.3L840.7 546.9L840.0 545.3M846.0 551.7L848.0 550.9L849.6 552.7L848.9 554.7L847.1 554.4L846.0 551.7M867.6 554.0L869.3 552.3L872.0 552.7L873.3 554.9L872.4 557.6L870.0 558.0L868.0 556.7L867.6 554.0M857.7 565.3L859.1 563.3L860.4 566.0L860.0 568.0L858.3 567.7L857.7 565.3M870.0 581.3L872.0 579.3L874.7 580.0L876.0 583.3L876.7 587.3L876.0 590.7L874.0 592.3L871.6 590.7L870.3 587.3L869.7 584.0L870.0 581.3M876.7 575.3L878.7 574.0L880.4 575.3L881.3 578.7L883.3 580.7L886.7 582.4L884.0 582.9L880.7 583.3L878.0 584.0L876.4 582.7L877.3 579.3L876.7 575.3M889.7 580.3L892.4 579.3M882.7 592.7L884.0 591.3L886.3 592.0L886.7 594.4L884.7 595.3L882.9 594.4L882.7 592.7M878.7 603.3L880.7 602.9L883.1 604.7L884.4 608.0L884.9 612.0L884.4 615.3L882.7 616.3L880.7 614.0L879.3 610.0L878.3 606.0L878.7 603.3M885.3 630.0L886.7 632.7L888.0 636.0L890.0 638.0L889.3 640.0L892.0 641.3L894.7 642.0L896.4 644.0L896.9 640.7L896.4 637.3L895.3 634.0L894.0 631.3L892.9 630.0L891.3 624.7L888.7 622.7L886.0 623.3L884.9 626.7L885.3 630.0M890.7 656.7L892.7 654.7L894.7 655.6L895.6 658.7L895.3 662.7L894.0 666.3L892.0 666.7L890.0 664.0L889.3 660.7L890.7 656.7M884.0 681.3L885.3 679.1L887.3 678.3L888.7 680.4L888.4 683.3L887.1 685.7L884.9 685.3L883.6 683.3L884.0 681.3M884.7 690.7L886.3 689.7M882.0 700.4L883.1 699.3M878.3 708.0L880.4 706.7M870.7 720.7L872.0 718.0L874.0 716.4L875.6 717.3L875.3 720.4L874.0 723.1L872.0 724.0L870.7 723.3L870.7 720.7M929.3 680.0L930.7 679.3L932.7 681.3L934.7 683.3L936.0 686.0L934.7 688.4L932.0 688.9L930.0 686.7L928.9 683.3L929.3 680.0M898.0 748.7L900.7 746.7L904.0 745.7L905.3 747.1L903.3 748.9L901.3 750.0L899.1 750.0L898.0 748.7M39.3 500.0L43.3 496.7L47.3 494.0L51.3 491.3L55.3 488.7L59.3 485.3L63.3 481.3L65.7 477.3L66.7 472.7L67.1 468.0L68.7 464.0L71.3 460.7L73.3 457.3L72.9 452.7L72.7 446.7L72.9 440.7L73.7 434.7L75.1 429.3L76.7 424.7L79.3 421.3L83.3 418.0L88.7 415.3L94.0 413.6L99.3 412.7L104.7 412.0L110.0 410.9L115.3 409.6L120.7 408.0L124.7 406.4L128.7 405.3L134.0 404.7L138.0 404.3L142.0 405.1L146.0 406.4L150.0 407.3L155.3 407.3L160.0 406.0L163.3 404.7L166.7 403.7L168.7 405.3L171.3 408.0L174.0 411.3L175.3 415.3L176.7 419.3L175.3 423.3L173.3 427.3L171.3 431.3L168.7 434.7L165.3 438.7L162.7 442.7L160.0 446.7L158.0 450.7L156.7 454.7L157.3 458.7L156.7 462.7L154.0 465.3L150.7 468.0L149.3 470.7L151.3 472.7L154.7 472.0L158.0 471.3L157.3 474.0L155.3 476.7L152.7 478.7L151.3 481.3L153.3 483.3L156.0 481.3L155.3 485.3L154.0 489.3L152.7 493.3L151.6 497.3L150.7 500.0M126.0 405.6L131.3 404.8L138.0 404.5L143.3 405.6L148.7 407.2L154.0 407.7M159.3 405.6L163.3 404.5L167.3 403.5M169.3 446.7L170.7 442.7L173.3 440.0L176.7 438.4L176.0 441.3L174.0 444.7L172.0 448.0L170.0 448.7L169.3 446.7M76.0 425.3L75.3 428.7L74.7 431.3M35.1 503.3L38.0 501.3L42.0 498.7L46.0 496.0L50.0 493.3L54.0 490.7M35.3 510.0L39.3 508.7L43.3 509.3L47.3 506.7L51.3 504.7L53.3 502.7L50.7 502.0L51.3 499.3L48.7 498.0L45.3 499.3L41.3 502.0L38.0 503.3L35.3 504.7M46.0 495.3L48.7 493.3L51.3 492.0M35.1 596.7L36.7 592.7L40.0 588.4L50.0 588.7L63.3 588.7L74.7 588.7L74.7 583.3L76.0 578.7L74.0 576.7L70.0 574.7L68.7 571.3L66.7 567.3L62.0 564.0L57.3 560.7L53.3 556.7L50.0 552.7L46.7 549.3L58.7 549.3L59.6 530.7L86.0 530.3L110.0 530.0M110.7 524.7L110.0 530.0L110.4 543.3L110.0 556.7L109.7 570.0L109.3 583.3L108.7 594.7L112.7 594.7L116.7 594.0M110.7 524.7L114.0 525.3L118.0 528.0L120.7 524.7L123.3 520.0L126.0 515.3L128.7 510.0L130.7 508.0L133.3 508.7L135.3 505.3L138.0 500.7L140.7 496.0L141.7 498.0L141.3 503.3L140.7 508.7M132.7 511.3L136.7 510.7L140.7 510.7L140.9 514.7L142.0 518.0L146.0 518.7L149.3 518.0M132.7 511.3L133.3 514.0L136.7 513.3L139.3 513.7M154.0 490.0L152.7 495.3L151.3 500.7L150.0 506.0L148.4 511.3L146.7 516.7L144.9 522.0L143.3 526.7M140.7 508.7L140.0 514.0L139.3 519.3L138.0 524.7L136.7 530.0L135.3 535.3L136.0 540.0L134.7 544.7L134.0 549.3L135.3 554.0L136.7 558.0L135.3 562.7L134.0 567.3L132.7 572.0L130.7 576.7L128.7 580.7L125.3 582.0L122.0 584.0L119.3 587.3L117.3 590.7L116.7 594.0L118.7 595.3L122.0 596.0L124.7 598.0L125.3 600.7M138.0 534.0L140.0 535.3M140.0 537.3L140.7 538.7M144.7 546.7L146.0 542.7L148.0 540.0L147.3 544.0L147.1 547.3M180.7 580.7L184.7 578.0L190.0 576.7M170.7 587.3L172.7 586.7M125.3 592.7L128.7 595.3L132.7 598.0L136.7 600.7L139.3 600.0L143.3 596.7L147.3 594.7L151.3 594.0L155.3 595.3L159.3 596.7L164.7 597.3L170.0 598.0L176.7 598.3L183.3 597.7L190.0 596.7M136.7 600.7L132.7 604.7L128.7 608.0L126.0 610.0M118.7 598.0L115.3 600.7L111.3 603.3L107.3 606.0L104.7 607.3L105.3 609.3L108.7 608.7L112.7 606.0L116.7 602.0L119.3 598.7L118.7 598.0M35.0 648.8L42.5 652.9L50.8 656.0L59.2 658.8L67.5 660.2L74.8 662.3L82.1 665.4L88.3 668.5L94.6 671.7L102.9 673.8L111.2 676.9L119.6 681.0L127.9 683.1L136.2 684.2L143.5 683.8L146.7 681.0L149.8 677.9L155.0 679.0L159.2 680.0L155.0 684.2L151.9 688.3L152.9 693.5L157.1 696.7L162.3 702.9L167.5 709.2L172.7 715.4L177.9 721.7L183.1 727.9L188.3 734.2L194.6 740.4L199.8 746.7M121.7 681.7L124.8 680.0L130.0 681.7L132.1 683.8M146.7 681.0L149.2 676.2L151.9 673.8L149.8 669.6L148.8 665.4M136.7 600.6L132.1 605.0L125.8 610.2L119.6 615.4L113.3 620.6L109.2 624.8L110.2 631.0L108.1 637.3L105.0 642.5L99.8 644.6L96.7 648.8L94.6 654.0L90.4 657.1L85.2 663.3L83.1 665.4M105.0 642.5L110.2 645.6L115.4 649.8L121.7 652.9L127.9 656.0L134.2 659.2L140.4 658.8L145.6 661.2L148.8 665.4L149.8 671.7L148.8 676.9M155.0 684.2L160.2 688.3L165.4 689.4L171.7 686.2L176.9 682.1L177.9 675.8L176.9 668.5L179.0 665.4L184.2 664.4L190.4 661.2L194.6 657.1L198.8 659.2L204.0 662.3L209.2 659.2L214.4 652.9L217.5 646.7L220.6 640.4L224.8 635.2L229.0 631.0L233.1 632.1L238.3 635.2L244.6 633.1L250.8 631.0L257.1 629.0L263.3 626.9L269.6 625.4L276.9 624.8M190.0 596.2L192.5 595.0L200.8 592.9L207.1 591.5L213.3 592.5L219.6 591.5L225.8 590.4L232.1 591.5L237.3 594.6L240.4 597.7L244.6 596.7L247.7 600.8L250.8 605.0L256.0 607.1L261.2 611.2L265.4 614.4L269.6 618.5L273.8 621.7L276.9 624.8L274.8 630.0L272.7 635.2L271.7 640.4L272.7 646.7L269.6 651.9L267.5 658.1L266.5 665.4L265.4 671.7L266.5 677.9L265.4 684.2L264.4 690.4L263.3 696.7L264.4 702.9L262.3 709.2L261.2 715.4L260.2 721.7L259.2 727.9L260.2 734.2M171.7 587.9L173.8 586.2M181.0 581.0L184.2 580.0M247.7 607.1L251.9 609.2L257.1 611.2L261.2 614.4L265.4 616.5L262.3 618.5L257.1 616.5L251.9 613.3L248.8 610.2L247.7 607.1M260.2 705.0L263.3 702.9L267.5 705.0L266.5 710.2L262.3 711.2L260.2 705.0M259.2 716.5L261.7 718.5L260.8 723.8L258.8 725.8M182.1 710.2L186.2 707.5L191.5 708.1L194.6 711.2L195.6 715.4L192.5 717.5L188.3 716.5L185.2 713.3L182.1 710.2M196.7 719.2L198.8 720.0M200.0 721.7L204.2 720.8L208.3 722.5L212.5 725.8L216.7 730.0L220.8 734.2L224.2 738.3L227.5 743.3L230.0 748.3L230.8 752.5L229.2 755.8L225.8 756.7L221.7 755.3L216.7 753.3L211.7 750.8L207.5 747.5L204.2 743.3L201.7 738.3L200.3 732.5L200.0 726.7L200.0 721.7M206.7 739.2L209.2 738.3L211.7 740.8L212.5 743.3L210.0 743.0L207.5 741.3L206.7 739.2M223.8 750.8L224.7 752.0M190.0 738.3L195.0 742.5L200.0 747.5L205.0 752.5L206.7 755.8L204.2 758.3L200.8 760.8L202.5 763.3L205.8 765.0L206.7 769.2L204.2 772.5L202.5 776.7L201.7 781.7L203.3 786.7L205.8 790.0L209.2 792.5L213.3 794.2L217.5 796.7L221.7 800.8L224.2 804.2L225.8 800.0L227.5 796.7L225.8 792.5L222.5 789.2L220.0 785.8L217.5 781.7L220.8 784.2L224.2 786.7L228.3 790.0L231.7 791.7L233.3 795.0L235.0 800.0L236.7 804.2L240.0 805.8L245.0 808.3L250.0 810.8L255.0 814.2L259.2 818.3M206.7 755.8L211.7 755.0L216.7 754.2L223.3 756.7L229.2 755.8L233.3 755.0L238.3 757.5L243.3 760.0L248.3 763.3L253.3 765.8L257.5 766.7L262.5 764.2M265.8 690.0L266.7 695.0L265.8 700.0L263.3 705.0L261.7 708.3L264.2 710.8L266.7 710.0L267.5 705.8L265.0 703.3M261.7 708.3L262.5 715.0L260.8 720.0L259.2 725.0L261.7 730.0L262.5 735.0L260.0 739.2L258.0 743.3L257.5 748.3L258.3 753.3L260.0 758.3L262.5 763.3L265.0 768.3L268.3 774.2L271.7 780.0L275.0 785.8L278.3 790.8L281.7 795.8L285.0 800.8L288.3 803.3M259.2 719.2L261.3 721.7L260.0 724.2M258.7 728.3L260.8 730.8M316.3 704.2L317.5 707.5M320.0 352.5L315.0 352.0L310.0 351.5L305.0 351.2L300.0 352.0L296.0 354.0L292.0 356.0L288.0 356.5L284.0 357.0L282.0 358.5L279.0 357.5L275.5 358.0L272.0 360.0L268.0 361.5L264.0 363.5L260.0 365.0L256.0 366.5L252.0 367.5L250.0 370.0L247.5 372.5L245.0 375.0L243.0 378.0L241.5 381.0L241.5 384.0L243.0 386.5L244.5 388.0L245.0 390.0L242.0 389.5L239.0 389.5L236.0 391.0L233.0 392.5L230.0 393.5L227.5 394.5L228.0 396.5L231.0 396.0L234.0 395.0L237.0 394.0L239.5 393.5L240.5 395.0L239.5 397.5L240.5 398.5L243.0 397.0L246.0 395.0L249.0 394.0L252.0 393.5L254.0 392.0L254.5 389.0L255.0 386.5L258.0 385.5L261.0 385.0L264.0 384.0L266.0 383.5L269.0 384.5L271.5 383.0L274.0 381.0L276.0 379.5L278.0 377.5L280.0 375.0L282.5 373.0L285.0 371.0L287.0 368.5L289.0 367.5L292.0 368.0L296.0 368.2L300.0 367.8L305.0 368.5L310.0 368.8L314.0 369.0L317.0 370.5L318.5 372.5L317.5 374.5L315.0 375.5L311.0 376.2L307.0 376.8L304.5 377.5L306.0 379.5L309.0 381.0L312.0 382.5L315.0 385.0L317.5 384.5L320.0 384.0M280.0 394.5L282.0 393.0L285.0 393.0L288.0 394.0L290.0 396.0L292.0 399.0L293.0 402.0L292.5 405.0L290.5 407.5L287.5 409.0L284.0 410.0L281.0 409.5L278.5 408.0L276.5 406.0L276.0 404.5L278.0 406.0L280.0 405.5L281.5 404.0L280.5 401.0L279.0 398.0L278.5 396.0L280.0 394.5M260.0 818.3L262.5 821.7L264.2 825.8L262.5 830.8L260.8 835.0L263.3 838.3L267.5 841.7L271.7 843.3L270.0 839.2L269.2 835.0L272.5 834.2L275.8 837.5L277.5 841.7L280.0 846.7L283.3 850.8L284.2 856.7M282.5 806.7L283.3 811.7L282.5 817.5L285.0 821.7L286.7 826.7L285.8 831.7L285.0 836.7L285.8 841.7L283.3 846.7L284.2 856.7M288.3 803.3L293.3 808.3L298.3 811.7L300.8 815.0L300.0 818.3L302.5 821.7L305.8 824.2L310.0 825.0L313.3 823.3L314.2 820.8L315.8 825.0L320.0 828.3L325.0 830.3L330.0 830.8L335.0 830.0L340.0 828.3L345.0 825.8L350.0 822.5L355.0 820.0L360.0 817.5L364.2 815.0L366.7 811.7L370.0 808.3L374.2 805.8L378.3 805.0L383.3 805.8L388.3 805.3L392.5 805.8L390.0 807.5L393.3 809.2L398.3 810.0L403.3 810.8L407.5 812.5L411.7 815.0L415.8 817.5L420.0 820.8L424.2 825.0L427.5 829.2L430.8 832.5L434.2 835.8L437.5 840.0L440.8 845.0L444.2 850.0L447.5 854.2L450.8 856.7L454.2 858.3L455.0 855.0L453.3 850.0L451.7 845.0L450.0 840.0L451.7 836.7L455.8 834.2L460.0 831.7M363.3 822.5L365.8 817.5L369.2 813.3L372.5 811.7L375.0 814.2L376.7 818.3L377.5 822.5L375.0 825.0L371.7 823.3L368.3 820.8L363.3 822.5M366.7 815.0L370.0 818.3L373.3 821.7M370.0 812.5L371.7 816.7L375.0 820.0M284.2 856.7L288.3 850.0L293.3 847.5L299.2 846.7L305.0 848.3L310.0 850.0L315.0 851.7L317.5 855.8L319.2 860.8L320.8 865.8L324.2 868.3L328.3 865.8L330.8 861.7L334.2 860.8L335.8 865.0L336.7 870.0L338.0 875.0L339.2 880.0L341.7 882.5L346.7 882.5L351.7 880.8L356.7 878.3L361.7 876.7L364.2 873.3L362.5 869.2L360.0 865.0L356.7 860.8L353.3 856.7L350.8 852.5L351.7 848.3L355.0 845.8L359.2 843.3L363.3 840.8L367.5 838.3L370.8 835.0L371.7 830.8L375.0 828.3L380.0 825.8L385.0 824.2L389.2 822.5L391.7 820.0M389.2 822.5L393.3 825.0L396.7 829.2L400.0 832.5L403.3 835.8L406.7 840.0L410.0 842.5L413.3 840.0L416.7 841.7L420.0 846.7L424.2 850.8L426.7 853.3M412.5 845.0L410.0 848.3L408.3 852.5L410.8 855.0L413.3 853.3L410.8 856.7L408.3 860.0L410.0 865.0L412.5 870.0L415.0 875.0L418.3 879.2L421.7 883.3L425.0 886.7L427.5 890.8L430.0 895.0L432.5 899.2L435.0 901.7M299.2 853.3L301.7 855.8M330.0 872.5L335.8 870.8M313.3 871.7L315.8 870.0L317.5 873.3L318.3 877.5L316.7 879.2L314.2 876.7L313.0 874.2L313.3 871.7M313.8 881.0L314.7 882.0M388.3 844.2L389.2 849.2M391.7 844.2L395.0 843.7L396.3 846.7L395.3 849.2L392.5 848.7L391.7 844.2M441.7 856.7L438.3 861.7L435.0 865.8L430.8 868.3L427.5 867.5L426.7 871.7L425.0 876.7L424.2 881.7L425.0 886.7M460.0 831.7L463.3 828.3L466.7 824.2L469.2 820.0L471.7 815.8L475.8 812.5L480.0 810.0L484.2 809.2L485.8 805.0L485.0 800.0L486.7 795.0L488.3 790.0L485.8 785.8L487.5 781.7L489.2 776.7L490.0 771.7L490.8 770.0M490.0 771.2L493.8 766.2L497.5 763.1L500.0 761.2L502.5 757.5L505.0 753.8L507.5 753.1L510.6 755.0L513.8 756.2L517.5 756.9L520.6 757.2L523.1 756.9L524.4 753.8L525.0 750.0L525.6 746.9L528.1 745.6L531.2 746.2L535.0 747.5L538.8 748.5L542.5 749.0L546.2 748.8L550.0 747.8M514.4 760.0L516.2 757.5L519.4 756.9L522.5 758.1L523.1 761.2L521.9 764.4L518.8 765.6L515.6 764.4L514.4 760.0M640.2 703.3L642.3 702.9L645.0 707.1L645.8 710.2L643.3 709.6L641.2 706.7L640.2 703.3M664.6 711.7L667.3 712.3L670.4 715.4L673.5 719.2L676.2 721.7L674.6 723.3L670.8 720.6L667.3 717.5L665.2 714.4L664.6 711.7M686.0 714.4L688.8 713.8L690.8 717.5L691.7 721.7L689.6 723.3L687.5 719.2L686.0 714.4M734.0 730.4L736.0 731.5M747.5 730.0L749.6 730.8M800.0 777.5L801.7 775.8L805.0 774.2L807.5 772.5L803.3 770.0L800.8 769.2L806.7 770.0L813.3 769.2L820.0 768.3L826.7 767.5L833.3 766.7L840.0 766.3L846.7 765.8L853.3 765.8L860.0 765.3L867.5 766.3L866.7 768.3L861.7 769.2L856.7 770.0L851.7 771.7L846.7 772.5L841.7 773.3L838.3 774.2L836.7 777.5L837.5 781.7L840.0 785.0L844.2 786.7L847.5 785.8L845.8 788.3L841.7 788.7L837.5 787.5L835.8 785.8M846.7 784.2L848.3 788.3L850.8 793.3L854.2 796.7L856.7 794.2L857.5 790.8L859.2 795.0L860.0 800.0L860.8 803.3L862.5 798.3L866.7 795.0L870.0 793.3L874.2 795.8L878.3 798.3L883.3 800.0L890.0 800.8M805.0 774.2L809.2 775.0L814.2 775.8L818.3 774.2L813.3 771.7L806.7 770.0M797.5 757.5L800.0 755.0L804.2 754.2L806.7 755.8L809.2 753.3L812.5 751.7L814.2 754.2L813.3 757.5L810.8 760.0L807.5 761.7L805.0 760.0L801.7 760.0L799.2 759.7L797.5 757.5M769.7 759.2L772.5 758.0L775.3 759.2L775.0 760.8L772.0 761.3L769.7 759.2M808.3 764.2L809.3 765.3M790.5 727.8L791.5 729.2M734.7 730.5L735.7 731.3M748.0 730.0L749.0 730.8M835.8 866.7L840.0 865.0L844.2 866.7L842.5 869.2M870.0 720.0L873.3 721.7L875.0 720.0M874.8 766.4L882.5 764.0L891.8 762.7L894.9 763.3L893.3 769.5L891.8 777.2L888.7 783.4L882.5 786.5L874.8 788.0L868.0 788.9L871.8 784.9L876.4 781.8L878.5 775.7L879.5 769.5L874.8 766.4M897.0 750.4L901.0 747.3L905.0 746.4L905.7 748.5L902.0 751.6L898.0 752.5L897.0 750.4M884.1 801.9L890.2 806.5L894.9 811.1L897.0 817.3L893.3 818.8L890.9 823.5L889.6 829.6L887.2 835.8L882.5 837.3L874.8 836.7L877.9 840.4L885.6 842.0L890.2 838.9L898.0 837.3L907.2 835.8L914.9 837.3L921.1 842.0L924.2 846.6L922.6 852.8L918.0 857.4L911.8 862.0L905.7 868.2L902.6 875.9L901.0 883.6L904.1 889.8L905.7 895.9L901.0 899.0L894.9 900.5L888.7 901.5M924.2 845.0L931.9 848.1L939.6 854.3L945.8 862.0L951.9 870.0L956.9 878.0L961.8 886.0L967.3 893.5L973.5 899.0L978.1 902.1M924.2 846.0L927.9 847.8L931.0 850.9L932.8 854.0M834.8 868.2L839.4 866.6L844.0 868.2L842.5 874.3L844.0 880.5L840.9 885.1L839.4 891.3L841.5 895.9L837.8 896.5L836.3 891.3L837.8 885.1L836.3 879.0L838.5 874.3L835.4 871.2L834.8 868.2M791.0 728.2L792.2 730.0M340.0 157.3L341.3 162.2L343.5 166.5L345.9 171.3L347.8 177.5L349.6 184.2L352.0 192.0L352.7 200.0M341.3 165.8L344.0 164.9L347.7 169.5L349.6 175.0L347.7 178.7L345.0 176.8L343.2 171.3L341.3 165.8M550.0 748.8L557.5 743.8L565.0 738.8L572.5 733.8L580.0 728.8L582.5 720.0L581.2 716.2L586.2 715.0L590.0 711.2L595.0 708.8L600.0 710.0L605.0 713.8L608.8 718.8L610.0 723.8L607.5 727.5L602.5 730.0L595.0 732.5L588.8 735.0L586.2 737.5L587.5 742.5L590.0 748.8L593.8 755.0L596.2 758.8L598.8 763.8L600.0 758.8L605.0 756.2L615.0 751.2L625.0 747.5L635.0 743.8L640.0 741.2L643.8 742.5M582.5 717.0L586.2 713.8L591.2 710.5L595.0 708.0L593.0 712.0L588.0 715.0L584.5 718.0M587.0 736.2L595.0 733.0L602.5 730.5L607.0 728.0M596.2 758.8L597.5 765.0L596.2 770.0L593.8 776.2L590.0 782.5L586.2 788.8L583.8 795.0L583.8 801.2L586.2 807.5L590.0 812.5L593.8 818.8L598.8 821.2L605.0 820.0L610.0 816.2L612.5 810.0L613.0 802.5L612.0 795.0L610.0 788.8L607.5 782.5L605.0 776.2L602.5 770.0L600.0 765.0L598.8 763.8M640.0 717.5L645.0 720.0L647.5 727.5L648.8 736.2L647.5 742.5L642.5 743.8L636.2 738.8L634.2 731.2L635.0 723.8L640.0 717.5M636.2 737.0L642.5 735.0L648.0 735.0M648.8 742.5L655.0 740.0L662.5 740.0L670.0 741.2L677.5 745.0L683.8 750.0L687.5 756.2L690.0 762.5L691.2 770.0L697.5 773.8L707.5 772.5L720.0 771.2L732.5 770.0L745.0 770.0L750.0 772.5L755.0 778.8L760.0 782.5L767.5 785.0L775.0 787.5L780.0 788.2L787.5 785.0L795.0 781.2L800.0 777.5M582.5 737.5L577.5 747.5L572.5 753.8L568.8 760.0L565.0 767.5L561.2 776.2L560.0 785.0L557.5 795.0L553.8 805.0L550.0 813.8L548.8 818.0L553.8 816.2L558.8 814.5L560.0 818.8L563.8 820.0L566.2 826.2L568.8 833.8L571.2 840.0L573.8 846.2L575.0 852.5L573.8 860.0L574.5 867.5L575.0 875.0L580.0 878.8L582.5 885.0L586.2 888.8L595.0 890.0L602.5 889.5L610.0 891.2L617.5 888.8L625.0 887.5L630.0 890.0L636.2 891.2L640.0 895.0L643.8 900.0M505.3 334.0L508.0 335.3M536.0 354.4L539.3 354.9M542.7 370.4L545.3 370.9M554.0 376.7L557.3 376.0L561.3 377.3L564.7 378.7L566.0 380.7L564.0 381.3L560.7 380.0L557.3 379.3L554.7 378.7L554.0 376.7M585.3 392.7L588.0 392.0L591.3 394.7L594.7 396.0L597.3 398.0L595.3 398.7L592.0 397.3L588.7 396.0L586.4 394.4L585.3 392.7M598.7 399.3L601.6 401.1M577.3 396.0L579.3 397.3L581.3 397.1L580.0 398.7L578.0 398.0L577.3 396.0M573.3 401.3L574.4 402.4M610.4 407.3L610.7 409.3M557.3 406.7L559.3 406.0L560.7 407.3L558.7 408.7L557.3 406.7M539.3 422.7L541.3 419.3L545.3 418.0L549.3 418.7L552.7 418.0L555.3 415.3L557.3 413.3L558.7 415.3L558.4 418.7L556.7 422.0L554.0 424.7L550.7 426.0L546.7 426.7L542.7 426.4L540.0 425.3L539.3 422.7M325.3 478.7L326.7 481.3L329.3 480.7L332.0 479.3L334.0 480.0L332.0 481.1L328.7 482.0L326.0 482.4L325.3 478.7M360.7 468.7L364.7 467.3M367.3 467.3L371.3 465.6M837.0 775.0L836.2 781.2L837.5 787.5L842.5 788.8L846.2 785.0L843.8 780.0L840.0 776.2L837.0 775.0M846.2 785.0L852.5 792.5L856.2 797.5L858.8 800.0L857.5 793.8L860.0 791.2L863.8 796.2L867.5 801.2L871.2 803.8L870.0 797.5L873.8 795.0L878.8 797.5L885.0 802.5M287.2 644.0L288.0 645.2M326.0 678.0L326.5 679.6" fill="none" stroke="#000" stroke-width="1.15" stroke-linejoin="round" stroke-linecap="round"/>
</g>
<text x="10.9" y="862.4" font-size="14" fill="#9e9e9e" stroke="#9e9e9e" stroke-width="0.5" textLength="14.2" lengthAdjust="spacingAndGlyphs">8N</text>
<rect x="28.5" y="856.6" width="2.3" height="1.2" fill="#a2a2a2"/>
<text x="4.1" y="795.8" font-size="14" fill="#9e9e9e" stroke="#9e9e9e" stroke-width="0.5" textLength="21" lengthAdjust="spacingAndGlyphs">10N</text>
<rect x="28.5" y="790.0" width="2.3" height="1.2" fill="#a2a2a2"/>
<text x="4.1" y="729.2" font-size="14" fill="#9e9e9e" stroke="#9e9e9e" stroke-width="0.5" textLength="21" lengthAdjust="spacingAndGlyphs">12N</text>
<rect x="28.5" y="723.4" width="2.3" height="1.2" fill="#a2a2a2"/>
<text x="4.1" y="662.6" font-size="14" fill="#9e9e9e" stroke="#9e9e9e" stroke-width="0.5" textLength="21" lengthAdjust="spacingAndGlyphs">14N</text>
<rect x="28.5" y="656.8" width="2.3" height="1.2" fill="#a2a2a2"/>
<text x="4.1" y="596.0" font-size="14" fill="#9e9e9e" stroke="#9e9e9e" stroke-width="0.5" textLength="21" lengthAdjust="spacingAndGlyphs">16N</text>
<rect x="28.5" y="590.2" width="2.3" height="1.2" fill="#a2a2a2"/>
<text x="4.1" y="529.4" font-size="14" fill="#9e9e9e" stroke="#9e9e9e" stroke-width="0.5" textLength="21" lengthAdjust="spacingAndGlyphs">18N</text>
<rect x="28.5" y="523.6" width="2.3" height="1.2" fill="#a2a2a2"/>
<text x="4.1" y="462.8" font-size="14" fill="#9e9e9e" stroke="#9e9e9e" stroke-width="0.5" textLength="21" lengthAdjust="spacingAndGlyphs">20N</text>
<rect x="28.5" y="457.0" width="2.3" height="1.2" fill="#a2a2a2"/>
<text x="4.1" y="396.2" font-size="14" fill="#9e9e9e" stroke="#9e9e9e" stroke-width="0.5" textLength="21" lengthAdjust="spacingAndGlyphs">22N</text>
<rect x="28.5" y="390.4" width="2.3" height="1.2" fill="#a2a2a2"/>
<text x="4.1" y="329.6" font-size="14" fill="#9e9e9e" stroke="#9e9e9e" stroke-width="0.5" textLength="21" lengthAdjust="spacingAndGlyphs">24N</text>
<rect x="28.5" y="323.8" width="2.3" height="1.2" fill="#a2a2a2"/>
<text x="4.1" y="263.0" font-size="14" fill="#9e9e9e" stroke="#9e9e9e" stroke-width="0.5" textLength="21" lengthAdjust="spacingAndGlyphs">26N</text>
<rect x="28.5" y="257.2" width="2.3" height="1.2" fill="#a2a2a2"/>
<text x="4.1" y="196.4" font-size="14" fill="#9e9e9e" stroke="#9e9e9e" stroke-width="0.5" textLength="21" lengthAdjust="spacingAndGlyphs">28N</text>
<rect x="28.5" y="190.6" width="2.3" height="1.2" fill="#a2a2a2"/>
<text x="4.1" y="129.8" font-size="14" fill="#9e9e9e" stroke="#9e9e9e" stroke-width="0.5" textLength="21" lengthAdjust="spacingAndGlyphs">30N</text>
<rect x="28.5" y="124.0" width="2.3" height="1.2" fill="#a2a2a2"/>
<text x="75.9" y="919.2" font-size="14" fill="#9e9e9e" stroke="#9e9e9e" stroke-width="0.5" textLength="21.6" lengthAdjust="spacingAndGlyphs">90W</text>
<rect x="86.1" y="904.2" width="1.2" height="2.2" fill="#a2a2a2"/>
<text x="214.8" y="919.2" font-size="14" fill="#9e9e9e" stroke="#9e9e9e" stroke-width="0.5" textLength="21.6" lengthAdjust="spacingAndGlyphs">85W</text>
<rect x="225.0" y="904.2" width="1.2" height="2.2" fill="#a2a2a2"/>
<text x="353.6" y="919.2" font-size="14" fill="#9e9e9e" stroke="#9e9e9e" stroke-width="0.5" textLength="21.6" lengthAdjust="spacingAndGlyphs">80W</text>
<rect x="363.8" y="904.2" width="1.2" height="2.2" fill="#a2a2a2"/>
<text x="492.4" y="919.2" font-size="14" fill="#9e9e9e" stroke="#9e9e9e" stroke-width="0.5" textLength="21.6" lengthAdjust="spacingAndGlyphs">75W</text>
<rect x="502.6" y="904.2" width="1.2" height="2.2" fill="#a2a2a2"/>
<text x="631.3" y="919.2" font-size="14" fill="#9e9e9e" stroke="#9e9e9e" stroke-width="0.5" textLength="21.6" lengthAdjust="spacingAndGlyphs">70W</text>
<rect x="641.5" y="904.2" width="1.2" height="2.2" fill="#a2a2a2"/>
<text x="770.2" y="919.2" font-size="14" fill="#9e9e9e" stroke="#9e9e9e" stroke-width="0.5" textLength="21.6" lengthAdjust="spacingAndGlyphs">65W</text>
<rect x="780.4" y="904.2" width="1.2" height="2.2" fill="#a2a2a2"/>
<text x="909.0" y="919.2" font-size="14" fill="#9e9e9e" stroke="#9e9e9e" stroke-width="0.5" textLength="21.6" lengthAdjust="spacingAndGlyphs">60W</text>
<rect x="919.2" y="904.2" width="1.2" height="2.2" fill="#a2a2a2"/>
<text x="1047.8" y="919.2" font-size="14" fill="#9e9e9e" stroke="#9e9e9e" stroke-width="0.5" textLength="21.6" lengthAdjust="spacingAndGlyphs">55W</text>
<rect x="1058.0" y="904.2" width="1.2" height="2.2" fill="#a2a2a2"/>
<rect x="1144.4" y="98" width="18.5" height="806.7" rx="1" fill="#d8d8d8"/>
<rect x="1146" y="857.89" width="15.5" height="44.91" fill="#b4c8ff"/>
<rect x="1146" y="813.28" width="15.5" height="44.91" fill="#8cafff"/>
<rect x="1146" y="768.67" width="15.5" height="44.91" fill="#7a91fb"/>
<rect x="1146" y="724.06" width="15.5" height="44.91" fill="#6473f5"/>
<rect x="1146" y="679.44" width="15.5" height="44.91" fill="#9b6ea5"/>
<rect x="1146" y="634.83" width="15.5" height="44.91" fill="#e650a0"/>
<rect x="1146" y="590.22" width="15.5" height="44.91" fill="#f0003c"/>
<rect x="1146" y="545.61" width="15.5" height="44.91" fill="#db7c3c"/>
<rect x="1146" y="501.00" width="15.5" height="44.91" fill="#e58f3e"/>
<rect x="1146" y="456.39" width="15.5" height="44.91" fill="#eba548"/>
<rect x="1146" y="411.78" width="15.5" height="44.91" fill="#f3d180"/>
<rect x="1146" y="367.17" width="15.5" height="44.91" fill="#ffeb80"/>
<rect x="1146" y="322.56" width="15.5" height="44.91" fill="#ffeb00"/>
<rect x="1146" y="277.94" width="15.5" height="44.91" fill="#e0eb1e"/>
<rect x="1146" y="233.33" width="15.5" height="44.91" fill="#a5cd66"/>
<rect x="1146" y="188.72" width="15.5" height="44.91" fill="#e8f3a0"/>
<rect x="1146" y="144.11" width="15.5" height="44.91" fill="#eef3d3"/>
<rect x="1146" y="99.50" width="15.5" height="44.91" fill="#ebebeb"/>
<rect x="1146" y="857.49" width="15.5" height="0.8" fill="#fff" opacity="0.8"/>
<text x="1165.6" y="862.6" font-size="13.3" fill="#111">5.64</text>
<rect x="1146" y="812.88" width="15.5" height="0.8" fill="#fff" opacity="0.8"/>
<text x="1165.6" y="818.0" font-size="13.3" fill="#111">5.652</text>
<rect x="1146" y="768.27" width="15.5" height="0.8" fill="#fff" opacity="0.8"/>
<text x="1165.6" y="773.4" font-size="13.3" fill="#111">5.664</text>
<rect x="1146" y="723.66" width="15.5" height="0.8" fill="#fff" opacity="0.8"/>
<text x="1165.6" y="728.8" font-size="13.3" fill="#111">5.676</text>
<rect x="1146" y="679.04" width="15.5" height="0.8" fill="#fff" opacity="0.8"/>
<text x="1165.6" y="684.1" font-size="13.3" fill="#111">5.688</text>
<rect x="1146" y="634.43" width="15.5" height="0.8" fill="#fff" opacity="0.8"/>
<text x="1165.6" y="639.5" font-size="13.3" fill="#111">5.7</text>
<rect x="1146" y="589.82" width="15.5" height="0.8" fill="#fff" opacity="0.8"/>
<text x="1165.6" y="594.9" font-size="13.3" fill="#111">5.712</text>
<rect x="1146" y="545.21" width="15.5" height="0.8" fill="#fff" opacity="0.8"/>
<text x="1165.6" y="550.3" font-size="13.3" fill="#111">5.724</text>
<rect x="1146" y="500.60" width="15.5" height="0.8" fill="#fff" opacity="0.8"/>
<text x="1165.6" y="505.7" font-size="13.3" fill="#111">5.736</text>
<rect x="1146" y="455.99" width="15.5" height="0.8" fill="#fff" opacity="0.8"/>
<text x="1165.6" y="461.1" font-size="13.3" fill="#111">5.748</text>
<rect x="1146" y="411.38" width="15.5" height="0.8" fill="#fff" opacity="0.8"/>
<text x="1165.6" y="416.5" font-size="13.3" fill="#111">5.76</text>
<rect x="1146" y="366.77" width="15.5" height="0.8" fill="#fff" opacity="0.8"/>
<text x="1165.6" y="371.9" font-size="13.3" fill="#111">5.772</text>
<rect x="1146" y="322.16" width="15.5" height="0.8" fill="#fff" opacity="0.8"/>
<text x="1165.6" y="327.3" font-size="13.3" fill="#111">5.783</text>
<rect x="1146" y="277.54" width="15.5" height="0.8" fill="#fff" opacity="0.8"/>
<text x="1165.6" y="282.6" font-size="13.3" fill="#111">5.795</text>
<rect x="1146" y="232.93" width="15.5" height="0.8" fill="#fff" opacity="0.8"/>
<text x="1165.6" y="238.0" font-size="13.3" fill="#111">5.807</text>
<rect x="1146" y="188.32" width="15.5" height="0.8" fill="#fff" opacity="0.8"/>
<text x="1165.6" y="193.4" font-size="13.3" fill="#111">5.819</text>
<rect x="1146" y="143.71" width="15.5" height="0.8" fill="#fff" opacity="0.8"/>
<text x="1165.6" y="148.8" font-size="13.3" fill="#111">5.831</text>
<rect x="915.8" y="877.8" width="208.4" height="20" fill="#fff" stroke="#a0a0a0" stroke-width="1.3"/>
<text x="931.5" y="894" font-size="15.4" fill="#00a0ff" stroke="#00a0ff" stroke-width="0.3" textLength="21" lengthAdjust="spacingAndGlyphs">Sis</text>
<text x="953.6" y="894" font-size="20.5" fill="#1e3cff" textLength="16.5" lengthAdjust="spacingAndGlyphs">π</text>
<text x="974" y="894" font-size="15.4" fill="#505050" stroke="#505050" stroke-width="0.3" textLength="9.5" lengthAdjust="spacingAndGlyphs">−</text>
<text x="992.5" y="894" font-size="15.4" fill="#505050" stroke="#505050" stroke-width="0.25" textLength="126" lengthAdjust="spacingAndGlyphs">ONAMET/REP.DOM.</text>
</svg></body></html>
